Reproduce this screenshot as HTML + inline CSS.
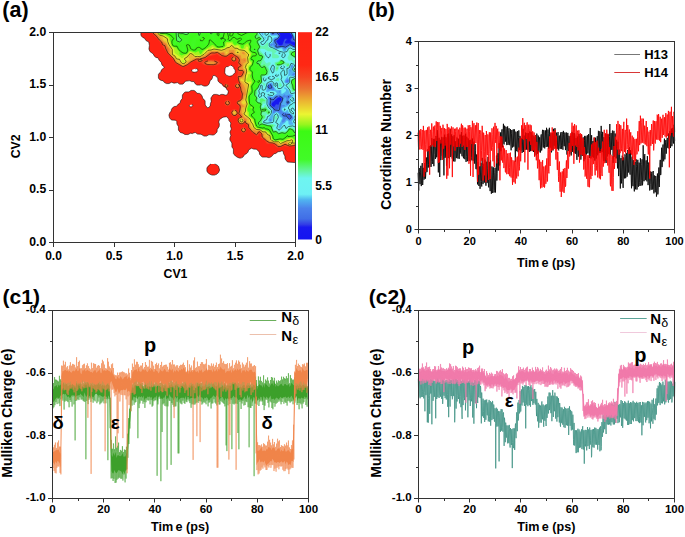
<!DOCTYPE html>
<html><head><meta charset="utf-8"><style>
html,body{margin:0;padding:0;background:#fff;width:685px;height:537px;overflow:hidden}
svg{display:block}
text{font-family:"Liberation Sans",sans-serif;font-weight:bold;fill:#000}
</style></head><body>
<svg width="685" height="537" viewBox="0 0 685 537">
<g id="contour"><path d="M140.9,32.5 295.5,32.5 295.5,162.6 288,162.1 286.9,161.5 285,158.8 284.9,156 283.5,153.8 283.2,151.5 282,150.8 280,151.6 278,151.8 275.8,153.5 274,153.8 271.5,156.6 269.5,157.6 268,157.6 267,157.1 262.5,157.1 261.5,156.6 259.5,154.2 259.2,152 256.5,149.2 253.5,149.1 251.5,148.2 248.6,150 248,152.1 246.7,153.5 244.5,154.7 243,157.1 240.5,158.1 239,158.1 237,157.1 234.9,155.5 233.4,153.5 233.4,149 231.9,147 231.9,143 229.9,140 229.9,138 230.9,135.5 229.9,132 231.4,129 230.4,126 230.9,123 228.9,120.5 228.8,119 226.5,116.8 223,117.2 219.6,119.5 218.7,122 219.4,124 219.2,126.5 217.2,129.5 217.1,131.5 216.5,132.7 214.5,134.6 213,135.1 209,134.6 206.5,136.1 204,136.1 201,134.2 197.5,134.1 195.5,132.6 194,132.8 192.5,133.6 190.5,133.2 188,134.6 184.8,134.5 183,133.2 180.3,132.5 178.4,130 178.4,126.5 176.9,124 176.8,121.5 175.5,120.2 172,120.1 170.9,119.5 169.5,117.8 168.9,115 169.9,112.5 171.2,111 171.4,109.5 172.5,107.8 174.2,106.5 176.5,106.3 178.4,104 180.4,102.5 180.4,101 182.3,98.5 182.4,95 184.4,92.5 185.5,91.9 189,91.9 191,90.4 194,90.4 195.5,91.4 197,93.2 199.5,93.4 200.5,93.9 202.1,96 202.7,98.5 204.1,99.5 205.1,101 205.2,105 207.2,107.5 208,107.9 210.2,106 210.4,103.5 211.2,101.5 210.9,98 212.9,95 214,94.4 216.5,94.4 219.5,95.3 221,94.4 223,94.4 226,95.2 227.8,94 228.3,91 226.8,89.5 225.8,87.5 223.5,86.4 221.5,83.7 220,83.1 218.5,81.7 217.9,80.5 217.8,78 215,75.6 213,75.6 212.6,76 212.5,77.8 211.6,79.5 210.2,80.5 209,84.2 207.5,85.6 206,86.1 204,86.1 201,84.6 200,85.1 197,85.1 195.4,84 194,81.6 191.5,81.6 189.5,80.6 185.5,81.2 183,84.1 180.5,84.2 179.5,84.1 177.5,82.6 174,83.2 171.5,82.2 169,83.6 166.5,83.6 164.5,82.6 163,80.8 161.2,80.5 159.5,79.6 158.4,78 158.4,74.5 159,73.4 160.8,72 161.5,69.8 164.3,67.5 164.2,67 162,65.1 161.2,62.5 159,60.1 158.4,58.5 155.2,57 154,55.8 153.3,54 149.9,51.5 148.9,49 149.4,45.5 148.8,42 146,40.6 144.5,38.2 142.8,37.5 141.5,36.2 140.9,35ZM197.9,70 197.5,69.2 196,68.6 192,69.8 191.6,71 192.5,71.8 195,72.2 197,71.8 197.8,71ZM231,65.3 228.5,66.6 226.5,66.8 225.1,68 224.8,73 226.5,75.4 229,76.2 232,75.8 235.2,72.5 235.2,70 233.9,68.5 233.4,67ZM192.5,104.6 189.5,105.1 189.2,106 190,106.8 191.5,106.8 192.9,105.5ZM209.8,164.5 211,163.9 214.5,163.9 217,164.9 218.5,166.3 219.6,170 218.6,172.5 217,174.1 214.5,175.1 212,175.1 209.3,174 207.5,172.2 206.9,171 206.9,168 207.5,166.8Z" fill="#ff2314" fill-rule="evenodd"/><path d="M151.3,32.5 295.5,32.5 295.5,146.4 287,146.7 284,146.1 280,147.8 278,148 276,147 274.4,145 272.9,144 269,144.1 267,143.7 266,142.8 264,139.5 260.2,137.5 260.8,135 260,133.7 259.2,134 258,136.2 256.5,135.9 251,131.8 247.9,127.5 247,125.3 245,123.3 243.2,124.5 241.5,124.9 240,124.6 238.3,123.5 237.3,121.5 237.3,119.5 238.3,117.5 239.8,116.5 238,114.3 237,115.7 235,116.6 233,116.3 231.4,115 230.8,113.5 230.8,112 231.5,110.5 232.5,109.6 235,109 237,109.9 238,111.3 238.5,110.6 239,108 238.8,106 236.9,104.5 236.4,102 237.5,100.3 240,99.6 241.2,97 239.6,88.5 236.5,88.8 235.2,88 234.5,86.5 234.7,85 235.5,83.7 237,83 238.7,83 237.1,76 237.8,72 237.4,68.5 238.1,65 237,59.2 236.3,61 234.5,62.1 232.5,61.9 231,60.5 230.7,58 231.5,56.8 232.7,56 232.5,55.3 231,54.9 227.5,56.7 224,57.1 219.5,56.2 216.9,54 215,55 209.5,56 205.5,58.4 203.3,59 204.5,60.3 212.5,59.6 216,60.1 219,61 220.3,62 220.4,63.5 219.2,64.5 216.5,65.4 211,66 205.8,65.5 202.8,64.5 201,62.8 197.5,62.3 195,60.8 191.5,62.5 188,65.4 183.5,67.3 182.5,67.3 175,63 172.5,58.8 166.5,52.5 160,42ZM225.5,83.5 227.5,83.7 228.9,85.5 228.5,87.4 227,88.5 226,87.2 223.8,86 224.2,84.5ZM226,100 228.5,99.8 230.5,101.5 230.7,104 229,106 226.5,106.2 224.5,104.5 224.3,102ZM243.5,127 245.5,127.7 246.5,130 245.8,132 243.5,133 241.5,132.3 240.5,130 241.2,128Z" fill="#f83c1e" fill-rule="evenodd"/><path d="M151.9,32.5 295.5,32.5 295.5,145.7 290,146.3 284.5,145.2 280,147.3 277.5,147.3 274.1,144 272.5,143.4 269,143.4 267,142.3 264.5,139.4 261.5,137.5 261.5,134.5 260,132.6 259,132.7 257,135.5 252,132.2 248.7,128 247.5,125 245,122.6 243.1,124 241.5,124.4 239.5,123.8 238.2,122.5 237.7,121 237.9,119 239,117.6 240.6,116.5 238.2,113.5 239.4,109 239.3,105.5 237.5,104.4 236.8,102.5 237.5,101 238.5,100.3 240,100.3 241.2,98.5 241.6,94 240,88 239.5,87.5 238,88.5 236.5,88.3 235.5,87.5 235,86 236,84 237.5,83.5 239,84 239.3,83.5 237.8,78 237.8,75 238.5,74.5 240,75.5 241,75.3 242,74.3 242.4,72.5 241.9,71.5 239,71.9 238.2,71 237.8,68.5 238.7,65 237.9,62 237.8,59 237,57.2 235.6,57 236.4,58.5 236,60.5 235,61.4 233.5,61.7 231.6,60.5 231.2,58.5 232,57 234.4,56 232,54 230,54.4 227.5,56.2 224,56.7 220,55.7 218,53.5 216.5,53 214.5,53.9 212.5,54 211.6,55 208.5,55.9 205.5,57.9 201.5,59 202.7,59.5 203.4,60.5 202,61.8 198.5,62 196.8,61 196.8,60 196,59.9 191.5,62 187.7,65 183.5,66.9 182,66.7 175.5,62.9 172.7,58.5 167.4,53 160.6,42ZM203,63 203.3,62 205.1,61 211,60.1 216.9,61 218.7,62 219,63 218.2,64 216.5,64.7 211,65.5 205.5,64.7 203.8,64ZM225.5,84.1 227,84 228.3,85.5 228.1,87 227,88 224.2,86 224.5,84.9ZM226.5,100.5 228.5,100.5 230,102 230,104 228.5,105.5 226.5,105.5 225,104 225,102ZM233,109.9 235.5,109.7 237.5,111.4 237.8,113.5 236,115.7 233.5,115.9 231.7,114.5 231.3,112ZM243.5,127.5 245,128 246,130 245.5,131.5 243.5,132.5 242,132 241,130 241.5,128.5Z" fill="#f25227" fill-rule="evenodd"/><path d="M152.9,32.5 295.5,32.5 295.5,144.9 293.5,145.6 289.5,146 285,144.3 280.5,146.5 278,146.7 275.4,144 272.5,142.9 269.5,142.7 266.5,140.8 262.2,137 261.9,134 260,131.8 258.5,132 257.4,134 256.5,134.7 252.5,132 248.8,127.5 248.4,124.5 246,123.2 245,121.2 243.8,123 242,123.9 240,123.5 238.8,122.5 238.1,120.5 238.5,118.9 239.9,117.5 241.8,117 238.8,113.5 239.9,110 240.3,107 239.8,105 237.8,104 237.3,102.5 238,101.2 240,100.9 242,98.5 242.4,94 241.1,90.5 240.3,86.5 239.7,86 240,83.5 238.9,81 238.2,77 238.5,76.5 240.5,76.5 242,75.7 243.6,72 242.5,70.5 239,70.5 238.3,70 238.2,68.5 238.8,67 240.5,66.3 241,65.5 240.6,64.5 239,63.6 238.7,62.5 239.3,61 239.3,59.5 237.7,57 235,55.6 232,53.2 230,53.6 227,56 225,56.3 222,55.6 217.5,52.4 214.5,53 212,52.9 211,53.1 205.2,57.5 199.8,59 201.8,60 202.1,60.5 201.5,61.2 199,61.4 197.9,60.5 199.5,59.5 198.6,59 196.5,59.1 191,61.8 187.5,64.6 183.5,66.5 182.5,66.4 175.7,62.5 173.4,58.5 167.9,53 165.5,48 165,45.8 162.5,44.6 161.7,42 159.4,40 155.8,35.5 153.7,34ZM233,57 234.5,57 235.8,58.5 235.7,60 234.5,61 233,61 231.9,60 231.8,58.5ZM204.7,63 205.1,62 206,61.5 211,60.7 216,61.5 216.9,62 217.3,63 215,64.4 211,64.9 207,64.4ZM225.5,84.7 226.5,84.5 227.5,85 227.7,86.5 227,87.4 224.9,86.5 224.9,85.5ZM236.2,84.5 237.5,84 239,84.7 239.5,86 238.8,87.5 237.5,88 236,87.3 235.5,86ZM226.2,101.5 227.5,101 229,101.7 229.5,103 228.8,104.5 227.5,105 226,104.3 225.5,103ZM233,110.4 235,110.1 237,111.5 237.2,113.5 236,115.2 234,115.6 232.3,114.5 231.7,112.5ZM242.2,128.5 243.5,128 245,128.7 245.5,130 244.8,131.5 243.5,132 242,131.3 241.5,130Z" fill="#ec6e30" fill-rule="evenodd"/><path d="M153.9,32.5 295.5,32.5 295.5,144.3 292.5,145.4 289.5,145.7 287.6,145 285.5,143.2 280.5,145.8 278.5,145.8 276,143.5 270,142.2 266.5,140.1 265,138.4 263,137 262.5,134 260,131.2 259,131 257.9,131.5 256.5,133.5 256,133.5 254.5,131.7 252,131 249.1,127 249.1,124 246.1,122.5 245.9,120 245.2,119 243.9,118.5 244.4,121 243,123 241,123.4 239,122 238.6,120 239.4,118.5 241,117.6 243,118 243.2,117.5 241.5,114.3 240.2,113 241.3,105.5 240,103.8 238.5,103.8 238,102.5 238.7,101.5 240.5,101.3 241,100.3 242.6,99 243.1,95.5 244,93.5 242.4,90.5 242.4,87.5 241,83.5 239.2,80.5 238.9,78.5 239.5,77.7 242.5,76.4 244.6,72 244,70.7 242.5,69.5 238.9,69 239,68.2 241.5,67.2 242.2,65.5 240.6,62 240.3,59 239.4,56.5 235,54.7 232.5,52.1 230,52.7 227,55.4 225.5,55.8 224.5,55.5 223.5,53.1 220.5,53.3 217,51.7 211.5,52 210,52.6 204.5,56.7 200.5,58.2 197,58.3 194.8,59 189.6,62 187.5,64.1 182.7,66 176,62.2 173.7,58 170.5,55.3 168.5,53 168.6,49 166.7,46.5 166,44.5 163.5,43.1 161.9,41 159.3,39 157,35.3 154.5,33.5ZM244.5,59.4 243.6,60 244,61.1 245,60.5ZM232.8,58 234,57.6 234.8,58 235.2,59 234.8,60 234,60.4 232.8,60 232.4,59ZM206.7,63 207.5,62 211,61.4 214.5,62 215.3,63 213.5,64 211,64.2 208.5,64ZM236.6,85 237.5,84.7 238.5,85.1 238.8,86 238.4,87 237.5,87.3 236.5,86.9 236.2,86ZM225.8,85.5 226.8,85.5 226.8,86.5 225.8,86.5ZM226.7,102.5 228,102.2 228.3,103.5 227,103.8ZM233,111.1 234.5,110.5 236.4,111.5 236.8,113 236,114.5 234.5,115.1 233,114.5 232.2,113ZM242.6,129 243.5,128.7 244.5,129.1 244.8,130 244.4,131 243.5,131.3 242.5,130.9 242.2,130Z" fill="#eb9232" fill-rule="evenodd"/><path d="M155,32.5 295.5,32.5 295.5,143.8 291,145.3 289,145.3 287.5,144.5 287.3,142.5 286.5,142.3 283.5,143.2 281,144.9 280,145.1 277,143 270.5,141.6 267,139.5 266,137.9 263.9,136.5 264.2,134 262.5,133 260.5,130.9 259,130.4 256.5,130.9 254.5,129.7 252,129.7 250.1,127 249.7,123.5 246.9,122 247.3,119 244,116.9 241.8,112.5 241.6,108.5 242.5,107.3 244.5,106.5 241.5,104.1 240.8,102.5 241.3,101 243.5,99 244.3,96.5 245.9,94.5 245.7,89.5 243.6,85 240.2,81 239.6,79.5 240.5,78.2 243,77.5 245.2,73 245.1,71 242.6,68 243.3,65.5 243.2,63.5 245.5,62.2 246.2,61 246.2,59.5 245.5,58.3 244,58 242,58.9 241.5,58.4 240.9,55.5 235.3,54 234.5,53 234.4,50.5 233.5,50 230.5,50.2 229,49.8 228.9,52.5 226.5,54.7 225.5,54.5 224,51.7 220.5,52.4 217,51 212.5,51.1 209.5,51.8 205,55.3 200.9,57.5 197,57.7 193.4,58.5 191.7,60 188.5,61.7 186.5,63.6 182.5,65.2 177,61.7 174,57.4 171.1,55 170.3,53.5 170.3,50.5 169.7,48.5 167.6,46 166.5,43.6 164,42.1 160.7,38.5 160.3,37.5ZM191,56 190.9,56.5 191.5,56.6ZM242.5,52 242.1,53 242.5,53.9 244.5,54.4 244.9,54 244.5,52.8 243.5,52ZM268.5,137 268,137.5 268.5,138 268.9,137.5ZM233.5,111.5 235,111.2 236,112 236.1,113 235.5,114.1 234,114.4 233,113.5 232.9,112.5ZM240.1,118.5 242,118.1 243.5,119.1 243.9,121 242.9,122.5 241,122.9 239.5,121.9 239.1,120Z" fill="#ebb732" fill-rule="evenodd"/><path d="M156.7,32.5 295.5,32.5 295.5,143.4 292.5,144 290.5,145.1 288,144.5 288.5,141.5 287.5,141.2 283.5,142.5 280.5,144.2 279.5,143.8 278,142.2 274.5,142.2 271,140.8 269.8,139.5 269.7,136 269,135.6 266.5,135.9 266.3,133.5 265.5,132.5 263,132.5 260,130 256.5,130 252.7,127.5 251.5,126.2 250.5,123 248.9,121 249.3,120 249.1,119 243.8,115 243.5,112.6 244.7,111 244.5,109 246,106.5 246.4,103.5 246,103 245,104.1 244,104.4 242.5,103.6 241.9,102.5 242.3,101.5 244.8,99.5 246.5,95 246.8,89 247.7,85 246.8,84 244.4,83 243,81.5 241,80.8 240.6,80 241,79.1 241.5,79 243.5,80.2 244,79.7 244.5,76 246.1,72.5 245.9,70.5 244.1,68.5 243.8,67.5 245.1,64.5 247.2,62 246.4,56.5 247.1,55 246.7,54 244.5,51.4 243,50.8 241,50.9 240.2,51.5 239.8,53 239.2,53.5 236.5,53.5 235.9,53 235.8,52 237,49.8 233.6,48.5 232,46.6 230,48 227.2,48.5 225,50.3 221,51.3 214,49.8 208.6,51 204.5,54.7 200,57.1 194.5,57.3 192,54.5 190.5,54.3 189.1,55.5 188.5,57.5 189.8,59.5 187.5,60.8 185.5,63.4 183,64.4 181.5,63.7 179,60.6 176.5,59.7 174.5,56.7 172,55 171.6,54 171.7,51.5 171.3,49.5 168.5,45.5 167.4,43 166,41.4 163.7,40 162.6,36.5 159,35.4ZM166,38.9 165.3,39.5 166,40.7 166.8,39.5ZM226.5,51.5 227.5,52.3 227,53.4 226.5,53.4 226,52.5ZM234.5,112 235.3,113 234.5,113.6 233.7,113ZM240.5,118.9 242,118.7 243.1,119.5 243.3,121 242.5,122.1 241,122.3 239.9,121.5 239.7,120Z" fill="#ebda32" fill-rule="evenodd"/><path d="M157.6,32.5 295.5,32.5 295.5,142.9 293.1,142.5 293.1,140.5 291.5,139.4 287,140.4 281,143.2 280,142.9 278.5,141.4 275,141.7 273.5,141.3 271,139.5 270.7,136.5 270,135.1 268,134.2 266.1,132 265,131.4 263,131.5 260,129.5 256.5,129.3 254.9,128 253.7,126.5 253,123.5 251.5,121.9 250.9,119.5 244.9,114 245.9,111 245.9,108.5 247.5,104 246.2,100 247.6,90.5 249,84.5 248.6,83.5 245.7,82 245.3,81 246,75.5 247,72.5 246.5,65.5 247,64.4 249,63 247.9,58 249.2,55 249,53.9 245.7,51 244,50.2 240.5,49.7 237.5,47.8 234.5,47.8 232.5,45.4 231,44.8 229.5,47.1 227,47.4 225,48.7 222,49.8 216.5,49.5 213.5,48.6 211,49.7 207.6,50 203.9,54 200,56.4 197.5,56.1 195,56.4 192.2,53.5 190,53.4 187,56.5 184.4,58 184,59 185.6,61 185.6,62 184.6,63 183,63.5 181.2,62 179.5,58.6 177,58.7 176.3,58 175.7,56 172.9,54.5 172.6,49 169.6,45 168.2,41.5 167.7,38.5 163,35.6 159.5,35ZM241,119.5 242,119.5 242.5,120 242.5,121 242,121.5 241,121.5 240.5,121 240.5,120ZM288.9,143.5 290,142.7 291.1,143.5 290,144.6 289.2,144.5Z" fill="#ddf52f" fill-rule="evenodd"/><path d="M158.2,32.5 295.5,32.5 295.5,142.3 294.4,142 293.8,140 293,139.1 291,138.4 286.5,139.7 284.7,141 281,142 279,140.7 275.5,141.2 274,140.9 271.6,139 271.2,136 270.5,134.7 267,131.7 265,130.6 262.5,130.4 260.1,129 257,128.7 255.9,128 254.7,126.5 254.1,123.5 252.3,119.5 248,116 246.5,109 248.2,104 247.1,100 247.3,97 248.2,91.5 249.5,89 249.7,86 251,82.5 250,81.6 248,81.9 247,81.6 246.2,79.5 247.7,77 248,74.5 250,73.6 250.2,73 248.5,71.8 248,71 248,67 248.5,65.5 250.5,64.4 251.1,63 249.4,61 248.8,59.5 248.9,58 250.2,55.5 250.4,54 248.5,51 248,47 246.5,46.6 245.9,47 245.6,48.5 245,48.9 242,49.3 239.7,48 238.3,45.5 237,45.5 235,46.6 231,43 227,43.4 226.5,44 227,45 226.5,46 225,47.6 223,48.6 216.5,48.7 212.5,46.7 210.5,48.7 208,48.8 206.5,49.4 204,51.7 202.6,54 200.5,55.4 199.5,55.5 198,54.8 195.5,55.2 193,52.9 190.5,52.1 189.5,52.5 187,55 184.5,56 183,58 182,58.2 174.7,53 173.9,48.5 171.1,46 169.3,41 168.8,38.5 168.1,37.5 164,35 159.7,34.5ZM182.2,60.5 183.5,60.3 184.2,62 183.5,62.6 182.5,62.1Z" fill="#a4f521" fill-rule="evenodd"/><path d="M158.7,32.5 295.5,32.5 295.5,136.3 295.1,136.5 295.5,137.1 295.5,141 293.6,138.5 291,137.5 287,138.4 283.5,140.6 281.5,140.7 279.5,140 275.5,140.7 274.3,140.5 272.2,138.5 271.6,135.5 269,131.7 265,129.7 262.5,129.6 256.4,127.5 255.4,126 253.7,119.5 249,116 249,112.5 247.7,111 247.2,109 248.8,104.5 247.9,100 248,96.5 249.5,92.9 251,91 250.4,86.5 252.6,82 250.1,76.5 250.1,75.5 251.4,73.5 251.3,72.5 249,70.5 248.8,69.5 249.1,67 251.5,64.5 252.1,63 251.9,61.5 250,60.3 249.6,59 251.7,53.5 249.3,50.5 249.6,47 247.5,43.1 244.2,45.5 243.5,48 242.5,48.5 241,47.9 240.4,45.5 239.8,45 237.5,44.2 235,45 234,44.5 232.9,43 232.5,41.4 229.5,42.1 226.5,41.9 225.2,43 225,46.4 223,47.7 217,47.9 213,45.1 212,44.9 203,51 201,54 200,53.9 198.5,51.1 195.5,52.6 190,50.7 189,51.2 187,54 184,54.5 181.5,55.5 179.2,54 179.6,53 179.4,52 176.3,48 172,46 169.7,38 168.8,36.5 165,34.4 160,34.1ZM250.5,107 250.6,108 251.5,108.4 252,107.5 251.7,107Z" fill="#4cf916" fill-rule="evenodd"/><path d="M159.2,32.5 224.9,32.5 224,37.5 227,39.5 228,38 226.8,32.5 230.6,32.5 230.5,35 231.5,35.4 232.5,34.7 233.4,32.5 237.4,32.5 238,33.5 240.5,34.2 242.5,33.1 244.5,33.4 245.9,32.5 295.5,32.5 295.5,135.2 293,136.5 287,137 283,139.7 280,139.2 276,140.2 274.5,140 273,138.5 272.5,136 269.5,130.5 264.5,128.6 263,128.8 258,127.4 256.6,126.5 254.9,122 254.4,119 250.4,115.5 250.5,114 252.8,112 252,110 253.2,107.5 252.5,106.4 249.6,104.5 248.9,101 248.7,96.5 249.5,95 251.7,92.5 252,90.3 251.3,86.5 254.2,81.5 252.5,78.5 251.9,75.5 252,72 249.8,70 249.6,68.5 250.1,67 252.3,64.5 253.1,61.5 252.9,60.5 250.8,59.5 250.8,58 252.5,55.4 255,55.7 256.1,54.5 255.5,53.1 252.5,52.4 250.1,50.5 249.9,49 250.5,47 249.2,44 250.1,41.5 250,40.8 246.6,41.5 244.5,43.7 242,44.6 236.5,42.5 237.5,40.3 234.5,37.9 233.5,37.8 230.1,41 229,41.1 227,40.2 224.3,42 223.9,43 224.3,45.5 223.5,46.5 218.5,47.3 216.5,46.7 210.5,40.8 209.8,41.5 209.4,44.5 204,49.2 201.5,50 199.5,48.3 198,48 197.2,48.5 196,50.5 195,50.9 191,49.5 189.8,48 189.4,46 188.5,45.2 187.5,45.1 187,46 188.2,49.5 187.5,52.1 186,53.5 183.5,53.4 179.5,50.6 177,46.8 174,46.4 172.5,45.5 171.8,43.5 171.4,39.5 172.9,38.5 171.5,37.4 170.3,35.5 165.5,33.5 160.5,33.8ZM203.7,38.5 203,38 202,38.2 200.8,40 201.5,40.5 202.5,40.3 203.4,39.5ZM218,33.4 217.5,34 218,34.8 218.3,34ZM240.4,39 240,38.5 239.5,38.8 238.6,40 240,40.1ZM259,80.8 258.2,81.5 258.3,82 259.1,81.5ZM234.7,43 235,42.3 235.9,42.5ZM249,108 249.9,109.5 249.5,110.4 248.5,110.3 248.2,109.5 248.3,108.5Z" fill="#3dfa18" fill-rule="evenodd"/><path d="M159.7,32.5 164.4,32.5 161,33.4ZM167,32.5 206.2,32.5 206,36.6 203,35.9 198.5,40.5 199.5,41.5 201,41.8 205,39.9 207,39.9 208.2,41 208.3,43 205.3,47 203,48.3 201.5,47.6 200.8,46 199.5,44.7 198,44.3 194.5,49.1 193.5,49.4 192,49 191,48.1 190.3,45.5 189.5,44.2 186,44.1 185.4,45 187.2,49 186.8,51.5 186,52.6 183.5,52.6 179,49.1 178,44.9 177,44.9 175,45.8 173,45.1 172.4,42 174.4,39 174.1,37.5 170.5,33.9ZM193,36.2 191.6,37 191.5,37.9 192.5,37.4ZM208,32.5 216.5,32.5 216.3,34.5 218.4,38 218.3,40 216,42.2 213,41.7 208.8,36ZM219.7,32.5 223.7,32.5 223.4,35 222.5,36.4 221,36.4 220.1,35.5ZM234.1,32.5 236.6,32.5 237.3,34 239.4,35.5 239.6,37 237.5,38.5 236,38 233.5,35.6ZM246.5,34.1 250.9,34 251.2,32.5 295.5,32.5 295.5,53.4 294.9,54.5 295.5,55.5 295.5,80.1 294.7,81.5 295.5,82.3 295.5,134.7 289.5,135.6 289,135.4 288.5,133.7 282,138.5 280.3,138 279.7,136 277,135.7 276.9,136.5 279,138 278.7,138.5 276.7,139.5 275,139.6 273.8,138.5 273.5,136 271.5,133.5 270.6,130.5 269,128.7 265.8,128 263.5,125.9 260.5,127.3 258,126.7 256.8,125.5 255.5,122 255.2,118.5 252.5,116 253,114.4 255.4,113 255.1,111.5 253.9,109.5 254.9,107 250,103.3 249.7,101.5 250.1,99 249.6,97 249.9,96 252,93.7 252.5,92.5 252.4,86.5 253.3,84.5 255.5,82.7 258,83.4 259.8,82 260.2,81 259.5,79.6 257,80.1 254,79 252.9,75 253.1,71 251,70 250.4,69 250.7,67.5 252.8,65 254.5,60.5 254.2,59 252.6,58 252.8,57.5 254.5,57.4 256.5,55.8 256.9,54.5 256,52.5 252.5,51.6 250.6,50 251.5,46.5 250.1,44 251.7,41.5 252.7,37.5 252,35.6 250.2,39 248.5,40.1 245,40.7 243.5,43.2 242,43.5 240.3,42.5 240.3,42 242,40.5 244.5,40.2 244.5,39 243.7,37 244.5,35.5ZM257,84.8 256,85.3 256,86.2 257,86.2ZM216.7,45 217,44 221,42.5 222.2,43 223,45 222.1,46 219,46.5 217.5,46.1Z" fill="#3efa1d" fill-rule="evenodd"/><path d="M160.5,32.5 162.4,32.5 161.5,32.8ZM171.2,32.5 193.9,32.5 188.7,37 189.4,40 188.8,42.5 185,43.3 183.9,44 183.9,45 185.6,47 186.4,49 186.3,50.5 185.6,51.5 183.5,51.8 179.7,48.5 179.6,47.5 180,47 181.5,46.6 182,46 181.6,45 177.5,43.3 175,45.1 173.4,44.5 173,42.4 175,39.5 175.1,38 174,35.6ZM202.3,32.5 201,36.7 196.2,40 195.4,45.5 194.7,47 193.5,48.2 192,48 191.4,47 190.8,42.5 192.6,39.5 196.2,35 196,32.5ZM203.4,32.5 204.8,32.5 204.5,33.3ZM208.7,32.5 215.5,32.5 215.3,34.5 216.4,38 216.1,40 214,41.1 212.9,40.5 211.8,38 209.2,34.5ZM221.5,32.5 222.1,32.5 222.5,33.8 222,35.1 221,34.5ZM235,33.1 235.5,32.9 236.5,34.5 238.2,36 238,37.2 237,37.4 235,35.3 234.7,34.5ZM255.9,32.5 295.5,32.5 295.5,52.4 293.6,54 294,55 295.5,56.3 295.5,79.3 293.1,81.5 293.5,82.2 295.5,83.2 295.5,134.1 291.4,134 290.4,133 290,131.4 285,134.8 282,134.2 278.5,135 275.5,133.6 273.5,134.5 272,133.2 271.2,130 269.2,127.5 266.5,126.9 263,125.1 260.5,126.6 259,126.5 257.6,125.5 255.9,121 256.7,118.5 254.3,116.5 254.1,115.5 256.5,114.5 256.6,113 255.5,109.5 256.5,108.5 258.6,108.5 259.1,105.5 258,104.4 255,104.6 251.2,103 250.8,101.5 251.6,99 250.7,97 251,96 253,93.5 254,88.3 257,87.4 258.4,84 260.5,82.1 260.8,81 260,78.7 257,79 255,78.3 253.8,74.5 254,72.8 256,69.6 258,69.3 258.7,68.5 258,67.4 256,68.7 253.3,67 254,63 255.6,60.5 255.9,58 257.3,56 257.5,54.5 256.5,52 252.5,50.8 251.3,49.5 251.6,48.5 254,45.5 252,45 251.2,44 252.4,42 253.6,38.5 253.4,35 255.4,33.5ZM261.9,71 261.4,72 261.8,73 264,74.1 265.4,73.5 265.7,72.5 264.5,71 263,70.5ZM248.5,34.9 250,36 249.9,37.5 248,39.3 246.5,39.3 245.7,38.5 245.7,36.5 247,35ZM203.5,42.5 204.2,41.5 205.5,41.1 206.8,41.5 207.3,42.5 206.5,43.8 205.5,44.2 204,43.5ZM274.7,137.5 275.5,137.1 276.8,138 276.8,138.5 275,138.6Z" fill="#40fa22" fill-rule="evenodd"/><path d="M174,43.9 173.8,42.5 175.5,40.2 175.9,38.5 174.7,35 172.6,32.5 191.6,32.5 190,34.7 186.5,36.6 183,35.3 181.1,36 181.4,37 184,39 186.5,38.7 187.5,39.2 188,41 187.4,42 182.5,42.1 180.5,43.3 177,42.4 175,44ZM201.1,32.5 200.9,35 200.1,36.5 198.5,37.4 197,37.1 197.5,34.5 197.3,32.5ZM209.3,32.5 214.2,32.5 213.9,34.5 214.5,36.5 214.5,39.7 213.5,39.5 212.3,36.5 210,34.3ZM256.6,32.5 295.5,32.5 295.5,51.7 292.8,53 292.3,54 295.5,56.9 295.5,68.1 294.7,69 295.5,70.1 295.5,78.7 292.5,80.5 292.1,81.5 292.5,82.9 295.1,84.5 293.9,87.5 294.3,88.5 295.5,89.2 295.5,133.6 292.6,133 291.7,130.5 290.5,129.6 289.5,129.9 288,132 285,134 282,133.4 278.5,134.4 275.5,132.3 273,133.2 272.4,132.5 271.6,129.5 270,127 262.5,124.6 259.5,126 258.5,125.5 257.6,124 257,121 258.2,119.5 260.4,118.5 260.7,117.5 260.7,116.5 259.5,114.9 258.8,115 258.5,113.5 257.2,111.5 257.5,110.3 258.6,110.5 258.5,113.5 259.5,114 260,112.5 259.3,110.5 259.8,105 259,104 256.5,103.5 255.5,102.7 254.5,100.5 255.5,98 253.6,96.5 253.3,95.5 254.5,89.6 257.5,87.6 258.8,84.5 261.1,82 260.8,78.5 259.2,76.5 259.5,75 261,74 265,74.4 266,73.5 266.2,72 264.5,69.5 260.5,69.6 260.1,67.5 258.5,65.5 257.5,65.1 255.5,65.2 254.9,64.5 254.9,63 256.3,61 257,58.5 258.2,57 258.1,54.5 257.5,52.5 256.5,50.9 253.5,50.5 252.4,49.5 252.7,48.5 254.5,47.3 256,47 257.5,47.9 258.6,47 258.5,45.9 257.5,44.6 254,43.2 253.7,42.5 254.5,39 254.2,35.5 256.1,34ZM260.8,57 258.7,57.5 259.5,59 260.5,59 261,58.5 261.3,57.5ZM283,62 282,61.4 281,61.5 279.6,63.5 280,63.9 282,63.5 283,62.9ZM248,36.3 248.6,37 248,37.6 247.4,37ZM194.2,40 194.4,41 194,41.8 193.5,41.8 193.6,40.5ZM193.5,43 194.4,44.5 193.9,46.5 193,47.2 192.2,46.5 192,45 192.5,43.7ZM183.5,46.6 184.6,47 185.5,48.5 185.5,50 184.5,50.8 183.5,50.8 182.3,49.5 182.3,48.5ZM260.2,70 260,71.6 258.5,73.5 256,74.7 255.3,74.5 255.2,73 256,71.5Z" fill="#41fa27" fill-rule="evenodd"/><path d="M176.1,32.5 178.5,32.5 178.2,34 178.8,37 181.7,39.5 181.4,40.5 180,41.7 177,41 176.6,40.5ZM178.5,32.5 188.9,32.5 188.1,34 186,34.7 183,33.6 180.5,33.7ZM198.2,32.5 200.2,32.5 200,34.5 199.5,35.4 199,35.5ZM209.9,32.5 212.8,32.5 211.5,33.8 210.5,33.6ZM257.1,32.5 295.5,32.5 295.5,51.1 292.1,52.5 291.2,54 291.6,55 295.5,57.4 295.5,67.5 294.1,69 294.4,70 295.5,70.6 295.5,78.1 292,80 291.4,82 291.7,83.5 292.6,85 293.2,89 294,89.8 295.5,90.1 295.5,132.8 294,132.2 293,130 290,128.7 289,129.1 287.6,131.5 285.5,133.1 284.5,133.3 282,132.7 278.5,133.7 276,131.5 273.5,132 273,131.7 271,126.1 267.5,125.6 262.5,124 261.5,124.1 259.5,125.1 258.5,124.2 258.5,122.5 260.5,120.7 262.4,117 260.9,114.5 261.5,111.2 265,110.9 266.1,110 265.6,109 261.8,109.5 261,110.5 260.2,107 261.2,104 260.5,103.3 258,102.8 256.1,101 256,100 256.9,98 254.6,95 254.9,91 255.5,89.9 258,87.8 259.4,84.5 261.6,82 260.9,75.5 261.5,75 264.5,75 266.5,74 267,71.5 265,66.8 264,66.6 262,67.7 260.1,66 259,63.8 257,63.5 256.5,63 258,60.9 260,60.9 261,60.1 262.7,57 262,55.8 259.7,55.5 259.1,55 257.7,51 257.7,50 259.4,47.5 259.6,46.5 257.4,42.5 257.2,41 258,40.2 260.5,39.1 260.6,38.5 259,37.4 256.5,38.8 255.5,38.1 255.1,36 257,34.6ZM269,111.8 268.3,112 268.5,113 269.3,112.5ZM283.9,62 282.5,60.9 281,60.7 277,64.5 278.5,64.9 281.1,64.5 283.9,63ZM254.3,49 255.2,49 254.5,49.5Z" fill="#53f766" fill-rule="evenodd"/><path d="M257.6,32.5 295.5,32.5 295.5,50.6 292,51.6 291,51 289.4,51.5 290.4,55.5 295.5,58 295.5,61.2 294.9,62 295.5,63.1 295.5,67 293.6,69 294,70.2 295.5,71 295.5,77.6 291.5,79.5 290.7,84 292.5,90.7 293,91.1 295.5,90.9 295.5,131.5 293.5,128.9 289.5,128 288.5,128.6 287,131.1 285.5,132.3 284.5,132.5 282,131.9 279,132.9 276.5,130.8 273.5,130.6 272.2,128 273.1,125.5 272.8,125 271.5,124.8 268.5,125.3 263,123.8 261.7,122.5 262,119.8 264.5,118 264.9,117 264.5,115.5 262.5,115.1 262,114.4 262,112.8 263.5,112 265.5,112 266.5,112.5 267.5,113.9 268.5,114.1 270,113 270.2,111.5 267.9,110 266,106.9 263,108.3 261.5,108.1 261.1,107.5 262.1,104 262.1,102 263,101.2 265,101.3 265.2,100.5 262.5,98.7 261.1,98.5 260,99.5 260,102 259.5,102.4 258,101.7 257.5,100.5 257.6,98 256,95 256.7,93.5 256.5,91 258.5,88 259.5,85 261.9,82.5 262.2,76.5 263,75.8 266.5,75.1 267.4,74.5 268.6,69.5 265,64.7 264,64.3 262,65.8 260.8,65 261.5,61.9 263.9,56.5 263,55 259.5,52.2 258.7,51 258.9,49.5 260.6,47 258.7,43 258.4,41.5 261.7,39 261.4,38 258.8,35.5ZM284.8,62.5 283.5,60.8 281,60 278.5,62.1 276,63 275.5,64 276,65.2 278,65.7 284.6,63.5ZM288,63.9 287,65 287.5,66 288,66 288.9,65 288.5,64ZM277.5,67 277,67 276.3,68 276.5,69.3 277.5,69.2 277.9,68.5ZM280.5,84.7 280.2,85 280.5,85.5Z" fill="#66f5b2" fill-rule="evenodd"/><path d="M258.1,32.5 295.5,32.5 295.5,50.2 292.5,50.7 289.4,50 288.4,52 289,53 289,54.5 287.4,58 289,60.7 291,60.2 292,60.5 293.2,62.5 295.5,64 295.5,66.4 293.7,68 293.2,69.5 294,70.7 295.5,71.3 295.5,77.2 293.5,78.3 291,78.8 290.1,83 288.4,86 289,87.3 291.1,89 291.5,92.1 292.5,92.2 295.5,91.6 295.5,120.3 295,121 295.5,121.3 295.5,129.1 292,127.2 289.5,127.3 288.3,128 286.6,130.5 285.5,131.2 282,130.8 279,131.6 276.5,130.2 274,129.8 273,128.5 273.5,127.3 275.7,125.5 275.5,125 272.5,123.9 268,124.6 263.5,123.5 262.4,122.5 262.7,120.5 265.5,118.2 266,114.8 268.5,114.9 269.5,114.4 270.6,113 270.8,111.5 270.4,110.5 268.3,109 265.5,104.7 265,104.5 263.5,107.2 262,107 262.1,106 263.5,103.4 265,103.7 265.5,103 266.1,100 265.4,99 262.5,97.8 261,97.9 259.5,98.8 258.5,98.2 257.1,95.5 257.8,93.5 257.3,91 259.1,88 260,85 261.5,83.7 262.5,83.6 264,85.9 265,85.5 265.4,84.5 265.1,83.5 263.4,83 262.5,81 262.6,77.5 264,76.2 267.8,75.5 269.5,73.7 270,71.5 268.4,66.5 270.4,64.5 270.7,63.5 270.5,62.5 269.5,62.2 268,62.6 267,63.4 266,63.1 264,60 265.2,57.5 264.9,56 259.9,50 261,48.8 264.5,49 268,51.3 271.5,51.6 272.2,52.5 271.8,57 272.5,58.2 277.5,58.2 278.9,57.5 279.2,56.5 278,55 276.5,54.2 275,54.3 274.5,53.7 274.5,53 276,52.4 276.6,51 272.5,48.6 270,48.3 268.3,47 268,46 268.4,43.5 267.6,42 264,45.7 262,46.1 260.8,45.5 259.2,42 259.9,41 262.3,40 262.7,39 258.7,34ZM289.4,63.5 288.5,62.7 286,62.8 284.5,60.7 283,59.8 281,59.3 280,59.4 278,61.6 275.3,62 274.5,62.7 275,65 276,66.5 275.3,68.5 275.6,70.5 276.5,71.5 277.5,70.8 278.7,69 278.9,66.5 280.7,65.5 285,64.5 286.5,66.8 287.5,67.1 288.5,66.8 289.5,65.5ZM275.1,80.5 279,81.2 279.3,80.5 279,78.7 278.5,78.1 277,78.3ZM280,82.3 279.3,83 279.1,85.5 279.5,86.7 280.5,87 281.8,86 282,85ZM276,115.7 274.9,117 274.9,119 275.5,119.7 276.5,119 277.2,117.5 277,116.4ZM293.2,59 293.7,58.5 294.6,58.5 295.5,59 295.5,59.7 294,60.3 293.4,60Z" fill="#6ef5f0" fill-rule="evenodd"/><path d="M258.7,32.5 265.5,32.5 266,34.8 268.1,32.5 295.5,32.5 295.5,49.7 293,50 290.5,48.7 289,48.9 288.1,50 288.2,51 287.2,52 287.5,53.5 286.5,54.7 285,58.5 284,59.1 281.5,58.3 280.6,57.5 280.6,55 277.8,53.5 277.8,52.5 278.6,51.5 272.5,48 270,47.5 268.9,46.5 268.9,43 271.3,40.5 269.9,37.5 268.9,37.5 268.1,41 267,41 264.5,44.3 262.5,45.2 261,44.6 260.1,42 263.1,40.5 263.4,39ZM263.5,50.6 265,50.7 267,52.1 270,52.8 270.7,53.5 270.9,55.5 270.5,57.3 268,60.8 267,61 266.4,60 266.3,57 263.2,51ZM276.1,60 277.5,59.4 278.1,60 277,60.7 276.2,60.5ZM271.9,60.5 272.5,59.9 274,60.5 273,61.5 272.5,61.5ZM291,61.7 292.2,63 295.4,65 295.1,66 293.2,68 292.8,69.5 293.5,70.9 295.5,71.7 295.5,76.7 293,77.9 290.3,78 289.8,82.5 287.1,85.5 288.5,87.9 290.2,89.5 291,92.8 292,93.1 295.5,92.2 295.5,103.4 294.3,104 294.6,106 294,107.5 294.5,109.4 295.5,110.2 295.5,118.6 293.9,121.5 294,122.1 295.5,122.6 295.5,127.9 292.5,126.4 290,126.5 288.5,127.1 286,129.6 285,129.7 284.4,129 284.7,127 284,126.2 280.9,130 279,130.6 275,128.5 277.3,125.5 277.4,124.5 277,124 273.5,123.1 267.5,123.8 264,123.2 263.1,122.5 263,121.5 263.5,120.6 266.2,119 266.9,116 269,115.5 270.5,114 271.2,112.5 271.3,111 270.8,110 268.5,108.1 266.8,105 266.4,103.5 266.8,100 266,98.5 262.5,96.9 259.5,97.9 258.4,97 257.9,95.5 258.8,93.5 258.1,91 259.5,88.5 260.2,85.5 261.5,84.4 262.6,85.5 263.4,89 264.5,89 265,88.4 266.4,82.5 263.5,81.4 262.9,80 263,78.5 263.5,77.4 264.5,76.7 267.5,76.7 270.7,75 271.1,72.5 269.9,69.5 269.9,67 272.5,62.8 273,63 275.2,66.5 274.5,72.5 275,73.5 278.5,73.3 279.5,72.6 279.9,71.5 279.7,67.5 280.9,66 284,65.5 286.5,67.6 288.8,67.5 289.8,66 290.4,62.5ZM292,105.2 291,105.1 290,105.7 289.3,107 289.5,108.2 290.5,108.2 292.3,107 292.6,106ZM292.5,98.5 291.1,99 291,99.8 291.5,100.3 292.6,100ZM266.8,81.5 268.8,81.5 269.7,80.5 269,79.9 267.5,79.9ZM279.5,75.9 276,77.4 274.9,79 272.8,80.5 274,82.2 277,82 277.9,82.5 278.5,87.1 279,87.9 280,88.1 281.9,87 283,85 280.5,80 280.5,76.5ZM268.9,94 269.5,94.7 272.5,94.5 272.7,94 270.5,93.3ZM276.5,114.6 275,115.2 274.3,116.5 274.1,120 275,121.2 276.5,120.2 277.8,118 277.5,115.5Z" fill="#6ef2f3" fill-rule="evenodd"/><path d="M259.3,32.5 264.7,32.5 264.8,34.5 266,36 267,35.1 267.7,35.5 267.5,40 266.5,39.9 265,42.8 263,44.2 261.7,44 261.2,42.5 264,40.8 264.1,39 263.1,37 261.3,35.5ZM269.3,32.5 294.5,32.5 295.5,33.9 295.5,49.2 293,49.2 291.5,48 290,47.6 287.8,49 286.8,51.5 283.5,52.1 280.6,51 281.1,50 280.5,49.5 277,50 270,46.6 269.3,45.5 269.2,44 269.8,43 272,41.4 272.2,38 271.7,37 269,35ZM265.8,53.5 267,53.3 269.5,54 269.9,55 269.5,56.5 268.5,57.1 267.5,56.6 266.2,55ZM283.5,54.2 284.5,54.4 284.7,55 284.5,56.1 283.5,56.7 282.6,56 282.7,55ZM293,64.1 294.5,65.5 292.5,68.5 292.4,70 293.5,71.4 295.5,72 295.5,76.1 293,77.3 290.5,76.9 289.5,77.2 289.2,78 289.9,80.5 289.3,82.5 288,83.8 285,84.4 283.3,82.5 281.5,79 282.5,78 284.6,78 285.1,76.5 287.4,74 287.5,68.5 289.4,68 291,64ZM273.5,66.4 274.2,67 273.5,71.3 272.5,72 270.6,69 271.5,67.4ZM281.7,67.5 282.5,66.3 284,66.5 283,67.6ZM283.5,70.9 284,72.5 283.1,75.5 282.5,75.6 281.4,73 282.3,71.5ZM276.4,75.5 276.5,75 277.7,75 277.5,75.5ZM269,78 269.5,77.4 271,77 273,77.3 273.8,78 273.5,78.5 271.5,79ZM264,78.4 265.1,79 265.1,80 264.5,80.4 263.8,79.5ZM268,82.8 271,81.5 272,81.7 273.4,83 274,86 276.5,87.1 278.1,89 281,88.7 284.5,85.7 285.5,85.7 289.5,90 289.9,92.5 290.5,93.3 292,93.8 295.5,92.9 295.5,95.7 295.1,96 295.5,96.7 295.5,102.7 294,102.3 293.3,101.5 294,97.2 293,97.2 291.2,98 290.2,99 290.1,100 292.2,102 292.3,103 289.5,105.2 287.6,108 289.2,110 289.6,112 294.3,115.5 294.9,118.5 293.2,121.5 293.5,122.6 295.5,123.8 295.5,126.5 292.5,125.6 288.5,126.1 286.5,127.2 285,125 284,124.7 280,129.3 279,129.6 278,129.2 277.2,127.5 278.6,123.5 276.6,122 278.4,118.5 278.6,117 278.1,114.5 277,113.4 275.5,113.9 273.9,115.5 272.9,122 270.5,122.8 268,122.5 266.5,122.9 264,122.4 263.8,121.5 264.3,121 267,120 267.9,117 270,115.6 271.4,113.5 271.7,112 271.4,109.5 269,107.8 267.4,105 267.3,99.5 264.5,96 265.4,93.5 263.1,91.5 265.6,89.5 266.8,84.5ZM284,90.9 283,90.8 283,91.9ZM285.6,108.5 283.4,109 283.5,110.3 284.5,110.8 285.2,110.5 286,109ZM267.4,94.5 268.5,95.4 272.5,95.9 274.1,94.5 274.5,93 273.5,92.4 270,92.1 267.7,93.5ZM261.5,85.3 262,86.5 261.2,89 261.9,91.5 260,93 259,91 260.3,88.5 260.6,86 261,85.3ZM260,94.1 260.9,95 261.2,96 259.5,97.2 258.8,96.5 258.7,95.5 259.5,94.2ZM292,108.7 293,108.7 294,110.5 295.5,111.1 295.5,114.6 294.5,114.4 293.6,111.5 291.7,110Z" fill="#6ef0f5" fill-rule="evenodd"/><path d="M261,32.5 263.2,32.5 263.5,35.5 262,35.1ZM270,32.5 292.9,32.5 294.5,36.5 295.5,37.5 295.5,48.6 293.5,48.5 291,46.7 290,46.6 286.8,49 286,51 284,51.5 283,51 282.4,49 281.5,48.3 276.5,49 273,46.9 270.5,46.4 269.8,45.5 269.7,44 272.6,42 273.5,38.1 275,37.2 277,37 277.7,36 277,35.4 271.5,35.8 270.1,34.5ZM264.5,36.5 265.5,36.9 265.8,37.5 265.5,39 264.6,38ZM293,64.8 293.7,66 292,68.5 291.8,70 293,71.8 295.5,72.4 295.5,75.5 293,76.6 290,75.6 288.1,76.5 287.8,77.5 289.2,79.5 289.3,81.5 288,83.2 285.5,83.3 284.7,82.5 284.3,81 288.2,75.5 288.6,74 288.4,69.5 290,68.7 291,65.1 292,64.6ZM272.5,67.9 273,69 272.5,70.1 271.6,68.5ZM268.2,83.5 271,82.4 272,82.6 272.7,83.5 273.2,86 276.5,90.2 281.2,90 281.4,93.5 281.9,94 284.5,92.5 286,91 286,89.5 284,88.3 284.4,87.5 285,87.3 288.5,90 289.6,93.5 293.2,95 292.9,96 289.4,99 289.4,100 290.9,102 290.9,103 287,106.6 282.5,108.3 282,109.5 283,111.1 284.5,111.7 285.8,111.5 287,110.1 287.7,110 288.7,112.5 291,113.8 293.3,116 294,118.5 291.6,121.5 292.7,122.5 293.5,124.5 290.5,125.1 289,124.5 288.6,124 288.4,121.5 287,120.3 285,122.7 282.5,124.4 280.8,127.5 279.5,128.4 278.5,128.2 278.5,126.5 282.1,118.5 281.5,117.5 280,117 278.9,114 277,112.3 276,112.4 273.1,115 272.5,120.5 272,121.5 270,121.9 268.5,121 268.6,119 271.9,114 272.3,110 272,109 269.2,107 268.1,105 267.7,103 268,100 266.9,96.5 269.5,96.1 272.5,96.8 277,93.5 276,91.9 275,91.3 270.5,90.8 267.5,92.2 266.4,92 266.1,91 266.7,89 266.8,86ZM295.5,98.3 295.5,102 294.5,101.5 294.1,100.5 294.5,99Z" fill="#50b0f0" fill-rule="evenodd"/><path d="M270.7,32.5 292.1,32.5 294.1,37.5 295.5,38.5 295.5,47.9 294,47.8 291.2,46 290,45.7 285,49.5 284.5,49.5 282,47.4 277,48.4 275.5,48 274.4,47 273.1,44.5 273.7,39.5 274.5,38.4 277.5,37.8 278.6,36.5 278.6,35.5 277,34.5 271.8,35 270.8,34ZM270,45 271,43.8 272.9,44 272.9,44.5 271.5,46 270.5,45.8ZM292.7,65.5 292.5,66.8 291,67.9 291.2,66 292,65.3ZM289.5,70.5 290.5,70.4 290.6,71.5 290,71.3ZM292.1,75 293,73.2 295.5,73.1 295.5,74.6 293,75.6ZM288,79.2 289,80.5 288.6,82 287.5,82.7 286,82.5 285.5,81.5 285.8,80.5 287,79.4ZM268.1,84.5 270.5,83.3 271.6,83.5 272.8,86.5 274.2,88.5 274,89.9 273,90.3 270.5,89.5 268,89.5 267.2,87ZM279.5,91 280.1,91.5 279.5,92.7 278.6,92ZM268.5,96.8 270,96.7 273,97.8 275.5,95.4 279.5,94.8 281.5,96 282.4,96 285,94 285.5,95.8 289.5,94.6 291.5,95.5 288.4,99.5 290,102 289.9,103 287.5,105 286.5,105 286,104.3 285.7,101.5 286.7,99 285,96.8 283.5,99.5 281.8,104.5 282,105.2 284.4,105 284.9,105.5 284.8,106 284,106.6 282,106.6 281,109 281.5,110.5 282.9,112 289.5,113.6 291,114.5 293,117 293.1,118 292.7,119 290,121 287,118.9 286,118.8 284.5,121.6 283,122.6 282,122.5 281.9,121.5 283.2,118 280.3,114 277,111.4 275.5,111.7 274,113.1 273,113 272.9,109 270,106.9 269,105.5 268.5,103.5 268.9,100.5 267.9,97.5ZM295.5,99.3 295.5,101.2 294.9,100.5ZM271,118.9 271.5,120.1 270.5,121 269.6,120 270,119.2Z" fill="#4b86eb" fill-rule="evenodd"/><path d="M271.5,32.5 291.3,32.5 292.9,35.5 293.8,39 295.5,39.8 295.5,47.3 294,47.1 290,45 289,45.1 287,46.9 285.5,47.6 282,46.6 276,47.4 275.2,46.5 275.8,44.5 274.6,42 274.4,40 275,39.2 277,38.9 278,38.2 279,37 279.2,35.5 278,34.1 276,33.3 273,34.2 272,34ZM287.5,80.3 288,80.3 288.4,81 287.5,81.9 286.7,81.5ZM268.5,85 270,84.3 271,84.5 272.5,88.5 268.5,88.3 267.8,86.5ZM269.3,97.5 270,97.5 273,99.3 274,98.7 275.5,96.6 279.5,95.9 282.9,97.5 282.4,101 280.7,104 280,109 280.5,111.7 277,110.5 274,111.1 273.4,108.5 270.7,106.5 269.7,105 269.6,103.5 270.2,100.5 269,98ZM289.7,96 288.9,97.5 288,97.9 287.4,97.5 287.5,96.5 288,96.1ZM287,100.9 288,100.7 289.1,102 289,103 288,103.7 287,103.4 286.5,102.5ZM282.3,113.5 284,113.1 286.5,114.3 290,114.4 291.4,116 291.7,118 290.5,119.3 289.5,119.6 286.5,116.8 284,116.6 283,116 282.1,114.5Z" fill="#4576e8" fill-rule="evenodd"/><path d="M277.5,32.5 290.4,32.5 292.7,36.5 292.1,40 295.5,41.5 295.5,46.7 294,46.4 291,44.6 289.5,44.2 288.1,44.5 285.5,46.4 283,45.8 279,46 278,45.5 275.3,41 275.8,40 278,39 279.8,36.5 279.6,35ZM269,85.7 270.5,85.7 271,87 270,87.6 269,87.4 268.6,86.5ZM279.5,96.6 282.1,98 282,100.5 280.1,103 279.5,106 278.2,108.5 277,109.2 275.5,109.3 271,105.6 270.6,104.5 270.8,103 272,101.1 274,100.2 276.7,97.5ZM283.7,114.5 284.5,114.4 284.5,115 284,115.1ZM289,115 290.5,116 290.4,117 289.5,117.9 288.5,117.5 287.9,116.5 288,115.5Z" fill="#3953e6" fill-rule="evenodd"/><path d="M278.5,32.5 289.4,32.5 291.5,34.7 292.2,36.5 292,37.8 290.6,39.5 290.9,41 291.5,41.6 295.5,42.4 295.5,46.1 294,45.8 290,43.4 285.5,43.5 284.8,42 286.9,39.5 286,38.5 284.5,39.5 282.5,44.7 280.5,45.4 279,45 276.4,41.5 276.5,41 279,38.7 280.3,36.5 280.1,35ZM281.1,98 281.7,99 281,101 279.3,102 278.5,104.8 276,104.2 274.5,106.8 273.5,106.7 271.9,105.5 271.5,104.5 272,102.9 278,97.8 279.5,97.2Z" fill="#1818f0" fill-rule="evenodd"/><path d="M277.7,42 277.8,41 279.8,38.5 280.7,36.5 280.5,34.5 279.4,32.5 281.4,32.5 283,33.3 284.8,32.5 288.2,32.5 291.4,35.5 291.5,37.2 289,38.8 286,37.6 284.5,38.2 282.2,41.5 281.7,44 281,44.6 279.5,44.4ZM288.5,39.7 289,39.8 289.5,41 289,42 288,42 287.6,41.5ZM292.5,43 295.5,43.3 295.5,45.3 293.4,44.5 292.4,43.5ZM279.5,98 280.5,98.5 280.5,100 279,100 278.6,99ZM273.5,103.7 273.9,104.5 273.5,105.1 272.9,104.5Z" fill="#1414f0" fill-rule="evenodd"/><path d="M271.8,32.5 272,33.5 273,33.8 273.7,33.5 274.2,32.5M276.4,32.5 279,34.8 279.5,36 278,38.5 274.8,40 274.9,42 276.6,44.5 275.7,46 276,46.9 277,47.2 282,46.3 285.5,47.2 289.5,44.7 291,45 294,46.8 295.5,47.1M295.5,40.5 293.4,39.5 292.9,36 291,32.5M287.5,81M269,84.9 268,86.5 268.5,87.9 269.5,88.3 271.7,88 271.9,87 271,85.1 270,84.6M277.5,96.4 275.7,97 274,99.3 273,99.8 271.6,99.5 270,98.1 270.8,100.5 270,104.5 270.6,106 273.3,108 274.7,110 279,110.4 279.5,109.6 280.5,103.5 282.2,101 282.8,98 279.5,96.1M288.5,96.5 288.1,97 288.7,97M287,101.4 287.1,103 288.5,103.1 288.8,102.5 288.5,101.5 287.5,101M283.5,113.4 282.5,114.5 283.5,115.9 286.5,116 288,118 289.5,119.1 291.1,118 291.1,116 290,114.7 288.5,114.5 286.5,115 285,113.7M259.1,32.5 261,35.5 263.2,37.5 264,39.5 263.5,40.9 261,42 260.7,42.5 261.8,44.5 263,44.6 264.5,43.7 266.5,40.6 267.8,40 268.2,36.5 269,35.8 271.5,37.5 272,40 271.6,41.5 269.2,43.5 269.2,46 270,46.9 272.5,47.7 279.5,51.3 283.5,52.3 287,51.6 287.6,51 288,49.1 290,47.9 291,48.1 293,49.5 295.5,49.4M269,32.5 268,34.5 267,34.7 266,35.6 265.1,34.5 265,32.5M265.5,52.4 265.2,53.5 266,55.4 268,57.8 269,57.6 270.2,56 270.1,54M279,52.5 278.6,53 278.9,53.5 280,53.4 280,52.6M283,53.4 282.3,54.5 281.8,56.5 282.5,57.4 283.5,57.6 284.9,56.5 285.3,54.5 284,53.3M272.5,64.9 270.4,69 272.5,73.1 273,73 273.8,71.5 274.4,66.5 273.4,66 273,64.8M282,66 280.8,67 280.6,68 281,68.6 283,68.8 284.5,67.1 284.4,66.5 283.5,65.9M295.5,71.9 293.5,71.2 292.5,69.5 292.9,68 294.5,66 294.7,65 293.5,64.1 291,63.4 289.1,68 286.9,68.5 287.1,73.5 286.5,74.7 284.5,75.4 284.4,71 283.5,69.7 281,72.5 280.7,74 281.9,77 281.1,79.5 284.2,85 282.2,87.5 280.5,88.5 278.2,88.5 277.6,87.5 277.6,84 277.1,83 276,82.9 275.3,83.5 276.3,85.5 276,86.1 275,86.3 274,85.3 273.9,83 272,81.3 271,81.1 267.2,83 265.5,89 264.5,90 263,90.2 262.1,89.5 262.3,86 261.5,85 260.6,85.5 260,88.5 258.8,90.5 259.4,93.5 258.4,96 259.5,97.5 261.8,96 261,94 261.4,93 263,92.5 264.5,93.2 264.8,94 263.7,96 266.1,98 267.1,99.5 266.9,103.5 267.2,105 268.9,108 271,109.5 271.5,110.5 271.5,112.5 270.6,114.5 269.5,115.8 267.5,116.6 266.8,119.5 263.9,121 263.6,122.5 267,123.2 273,122.4 273.6,121.5 274.1,115.5 276.5,113.8 277.9,115 278.3,117.5 275.7,122.5 278.2,124 276.7,128 278,129.5 279,130 280,129.7 284,125.2 285,125.8 286,128.6 288.5,126.5 292.5,125.9 295.5,127.1M276.5,74.4 275.5,75 275.7,76 277,76.3 278.3,75.5 278.4,74.5M270.5,76.5 268.1,77.5 267.7,78 268.2,78.5 271.5,79.7 274.3,78.5 274.5,77.5 274,76.9 272,76.2M264,77.5 263.4,78.5 263.5,80 264,80.8 265,81.1 265.7,80.5 266.2,78.5M270,92.5 273.5,92.8 274,94 272.5,95.6 268.5,95.1 267.9,94M295.5,92.7 292,93.6 290.5,93.1 289.8,90 286.1,85.5 286.1,85 288.5,83.6 289.7,82 289.7,77.5 290.5,77.2 293,77.5 295.5,76.3M291.6,98 293,97.6 293.5,98 293,100.9 292.5,101.4 290.4,100 290.4,99M284.2,109 285.1,109 285,110.1 283.8,110M295.5,110.8 294.5,110.3 293,108 292,108.2 291.1,109 291,110 293.5,112.5 293.5,113.9 293,114 290.1,112 289.7,110 288.2,108 290,105 292.3,104 293.5,102.6 295.5,102.9M295.5,123.3 293.8,122.5 293.5,121.5 295.2,118.5 294.9,116 295.5,115.2M176.1,32.5 176.6,40.5 177,41 179.5,41.9 181.4,40.5 181.7,39.5 178.8,37 178.2,34 178.5,32.5M178.5,32.5 180.5,33.7 183,33.6 186,34.7 188.1,34 188.9,32.5M198.2,32.5 199,35.5 200,34.6 200.2,32.5M209.9,32.5 210.5,33.6 211.5,33.8 212.8,32.5M257.1,32.5 257,34.6 255.1,36 255.5,38.1 256.5,38.8 259,37.4 260.6,38.5 260.5,39.1 258,40.2 257.2,41 257.4,42.5 259.6,46.5 259.4,47.5 257.7,50 257.7,51 259.1,55 259.7,55.5 262,55.8 262.7,57 261,60.1 260,60.9 258,60.9 256.5,63 257,63.5 259,63.8 260.1,66 262,67.7 264,66.6 265,66.8 267,71.5 266.5,74 264.5,75 261.5,75 260.9,75.5 261.6,82 259.4,84.5 258,87.8 255.5,89.9 254.9,91 254.6,95 256.9,98 256,100 256.1,101 258,102.8 260.5,103.3 261.2,104 260.2,107 261,110.5 261.8,109.5 265.6,109 266.1,110 265,110.9 261.5,111.2 260.9,114.5 262.4,117 260.5,120.7 258.5,122.5 258.5,124.2 259.5,125.1 261.5,124.1 262.5,124 267.5,125.6 271,126.1 273,131.7 273.5,132 276,131.5 278.5,133.7 282,132.7 284.5,133.3 285.5,133.1 287.6,131.5 289,129.1 290,128.7 293,130 294,132.2 295.5,132.8M184,48.8M254.5,48.8 254.4,49.5 255,49.5 255.2,49M295.5,57.4 291.6,55 291.2,54 292.1,52.5 295.5,51.1M280.4,61 281.5,60.6 283,61.1 283.9,62 283.9,63 280.5,64.7 278,64.9 277,64.5M295.5,70.6 294.4,70 294.1,69 295.5,67.5M295.5,90.1 294,89.8 293.2,89 292.6,85 291.7,83.5 291.4,82 292,80 295.5,78.1M268.3,112 269.3,112 269,112.9 268.4,113M159.3,32.5 160.5,33.7 166,33.2 170.5,35 173.7,38.5 171.9,41 172,43.5 172.8,45.5 174,46.2 177,46.2 178.4,49 180.5,51.3 183,53 185.5,53.3 187,52.5 187.8,50 186.5,45 187.5,44.6 189.1,45 189.8,46 190.5,48.5 193,50.1 195.5,50 196.5,48 198.5,47.3 199.6,47.5 202,49.4 203,49.3 205.8,47.5 208.4,44.5 209.1,43 209.4,40 210,39.6 214.3,43.5 217,46.7 219,47.1 223,46.4 223.9,45.5 223.6,42 225.8,40 223,38 221,39.3 220.7,38 223,37.9 224.4,32.5M218.7,32.5 219,35 218.5,35.8 217,34.5 217.4,32.5M227.4,32.5 228.7,37.5 228.1,39.5 229,40.5 230.5,40.3 233,37.2 234.5,37.5 237,39.4 240.5,37.9 241.1,38.5 241.3,39.5 240,40.8 238,41.3 237.6,42.5 239,43.4 242.5,44.2 244.2,43.5 246.5,41.2 250.5,40 251,41 249.5,44 250.8,47 250.1,49 250.3,50.5 252.5,52.1 255.5,52.7 256.4,54 256.3,55 255.5,55.9 252.5,56 251,58.5 251.5,59.5 253.1,60 253.5,61 252.3,65 250.1,67.5 249.9,69.5 252.4,72 252.2,75 252.9,78.5 253.5,79.7 255.1,81 251.7,86 252.2,90.5 252,92.5 249.5,95.5 249,97 249.5,103.5 250,104.5 253.5,107 253.5,108 252.8,110 254.3,112 254.3,112.5 252.5,113.5 251.1,115 252.4,117 254.7,119 255.1,122 256.5,126 257.6,127 263,128.2 264,127.5 265.5,128.8 268,129.2 269.5,130.1 272.8,136 273.2,138.5 275,140 280,138.9 283,139.3 286.2,137 287.5,135.5 288,136.5 292.5,136.2 295.5,135M233.6,32.5 232.5,35.4 231,36.2 229.7,35.5 230.2,32.5M249.4,32.5 247,32.7 241.5,35.5 238,33.8 237.1,32.5M202.4,37.5 204,37.8 204.4,39 202.5,40.7 200.5,40.7 200.3,39.5M258.6,80.5 259.4,80.5 259.5,81.5 258,82.5 257.3,81.5M157.4,32.5 159.5,35.2 163,35.9 167.5,38.8 167.7,41.5 169,44.7 172.3,49.5 172.4,54.5 175,56.1 176.5,58.9 179.5,59.4 181.2,62.5 183,63.8 185,63.1 186,62 186.1,61 184.7,59.5 184.6,58.5 187.5,56.7 189,54.5 190.5,53.5 192.4,54 195,56.7 197.5,56.4 200,56.7 204,54.3 208,50.3 211,50 214,49 221.5,50.3 225,49.2 227,47.8 229.5,47.4 231.5,45.4 232.5,45.9 234.5,48.2 237,48.3 239.5,49.8 244,50.4 245.1,51 248.3,54 248.7,55 247.6,57.5 248.2,62.5 246.3,64.5 245.3,67.5 246.3,69 246.7,72 245.4,76 244.9,81.5 245.5,82.5 248.3,84 248.6,85 245.8,100 247.2,104 245.5,109 245.6,111 244.2,113.5 244.4,114.5 250.1,119 251,122 252.7,124 253.9,127.5 256.5,129.5 260,129.7 263,131.9 265,131.8 266,132.2 267.5,134.6 270,135.5 270.5,139.2 271.8,140.5 274.5,141.8 278.5,141.7 280.5,143.6 287,140.7 289.5,140.6 291.5,139.8 292.5,140.2 292.8,141 292.1,143 295.5,143.1M237.5,51.8 237.2,52.5 238.2,52.5 238.4,52M240.5,119.5 240.1,120.5 240.5,121.5 241.5,121.9 242.5,121.5 242.9,120.5 242.5,119.5 241.5,119.1M289.5,142.4 288.6,143.5 288.7,144.5 290.5,144.7 291.9,143 290.5,142.3M152.9,32.5 153.7,34 155.8,35.5 159.4,40 161.7,42 162.5,44.6 165,45.8 165.5,48 167.9,53 173.4,58.5 175.7,62.5 182.5,66.4 183.5,66.5 187.5,64.6 191,61.8 196.5,59.1 198.6,59 199.5,59.5 197.9,60.5 199,61.4 201.5,61.2 202.1,60.5 201.8,60 199.8,59 205.2,57.5 211,53.1 212,52.9 214.5,53 217.5,52.4 222,55.6 225,56.3 227,56 230,53.6 232,53.2 235,55.6 237.7,57 239.3,59.5 239.3,61 238.7,62.5 239,63.6 240.6,64.5 241,65.5 240.5,66.3 238.8,67 238.2,68.5 238.3,70 239,70.5 242.5,70.5 243.6,72 242,75.7 240.5,76.5 238.5,76.5 238.2,77 238.9,81 240,83.5 239.7,86 240.3,86.5 241.1,90.5 242.4,94 242,98.5 240,100.9 238,101.2 237.3,102.5 237.8,104 239.8,105 240.3,107 239.9,110 238.8,113.5 241.8,117 239.9,117.5 238.5,118.9 238.1,120.5 238.8,122.5 240,123.5 242,123.9 243.8,123 245,121.2 246,123.2 248.4,124.5 248.8,127.5 252.5,132 256.5,134.7 257.4,134 258.5,132 260,131.8 261.9,134 262.2,137 266.5,140.8 269.5,142.7 272.5,142.9 275.4,144 278,146.7 280.5,146.5 285,144.3 289.5,146 293.5,145.6 295.5,144.9M233.5,56.9 232.3,57.5 231.7,59 232.3,60.5 234,61.1 235.3,60.5 235.9,59 235.3,57.5M208,60.9 206,61.5 204.7,62.5 205,63.5 207.5,64.6 213.5,64.7 216.2,64 217.3,63 216.9,62 214.3,61M226,84.5 225,85.2 224.9,86.5 227,87.4 227.7,86.5 227.7,85.5 227,84.6M236.5,84.3 235.6,85.5 235.8,87 237,87.9 238.5,87.7 239.4,86.5 239.2,85 238,84.1M226.5,101.3 225.6,102.5 225.8,104 227,104.9 228.5,104.7 229.4,103.5 229.2,102 228,101.1M233,110.4 231.7,112.5 232.3,114.5 234,115.6 236,115.2 237.2,113.5 237,111.5 235,110.1M242.5,128.3 241.6,129.5 241.8,131 243,131.9 244.5,131.7 245.4,130.5 245.2,129 244,128.1M140.9,32.5 140.9,35 141.5,36.2 142.8,37.5 144.5,38.2 146,40.6 148.8,42 149.4,45.5 148.9,49 149.9,51.5 153.3,54 154,55.7 155.9,57.5 157.5,57.7 158.4,58.5 159,60.1 161.3,62.5 162,65.1 164.3,67 164.3,67.5 161.5,69.8 160.8,72 159,73.4 158.4,74.5 158.4,78 159.5,79.6 161.3,80.5 163,80.7 164.4,82.5 166.5,83.6 169,83.6 171.5,82.2 174,83.2 177.5,82.6 179.5,84.1 180.5,84.2 183,84.1 185.5,81.2 190,80.7 191.5,81.6 194,81.6 195.4,84 197,85.1 200,85.1 201,84.6 204,86.1 206,86.1 207.5,85.6 209,84.2 210.2,80.5 211.6,79.5 212.5,77.7 212.6,76 213,75.6 215,75.6 217.8,78 217.9,80.5 218.5,81.7 220,83.1 221.5,83.6 223.5,86.3 225.8,87.5 226.9,89.5 228.4,91 227.8,94 226,95.3 223,94.4 221,94.4 219.5,95.3 216.5,94.4 214,94.4 212.9,95 210.9,98 211.3,101.5 210.4,103.5 210.3,106 208,107.9 207.2,107.5 205.2,105 205.1,101 204.1,99.5 202.7,98.5 202.1,96 200.5,93.9 199.5,93.4 197,93.3 195.5,91.4 194,90.4 191,90.4 189,91.9 185.5,91.9 184.4,92.5 182.4,95 182.3,98.5 180.4,101 180.4,102.5 178.4,104 176.5,106.3 174.3,106.5 172.5,107.8 171.4,109.5 171.3,111 169.9,112.5 168.9,115 169.5,117.7 170.9,119.5 172,120.1 175.5,120.2 176.8,121.5 176.9,124 178.4,126.5 178.4,130 180.3,132.5 183,133.2 184.8,134.5 188,134.6 190.5,133.2 192.5,133.6 194,132.7 195.5,132.6 197.5,134.1 201,134.2 204,136.1 206.5,136.1 209,134.6 213,135.1 214.5,134.6 216.5,132.7 217.1,131.5 217.2,129.5 219.1,126.5 219.4,124 218.7,122 219.6,119.5 223,117.2 226.5,116.7 228.8,119 228.9,120.5 230.9,123 230.4,126 231.4,129 229.9,132 230.9,135.5 229.9,138 229.9,140 231.9,143 231.9,147 233.4,149 233.4,153.5 234,154.6 237,157.1 239.5,158.1 241,158.1 243,157.1 244.5,154.7 246.7,153.5 248,152.1 248.6,150 251.5,148.2 253.5,149.1 256.5,149.2 259.3,152 259.5,154.2 261.5,156.6 262.5,157.1 267,157.1 268,157.6 269.5,157.6 271.5,156.6 274,153.7 275.7,153.5 278,151.7 280,151.6 282,150.7 283.3,151.5 283.5,153.7 284.9,156 285,158.7 286.9,161.5 288,162.1 295.5,162.6M230.7,65.5 231,65.2 232,65.7 233.8,67.5 233.9,68.5 235.2,70 235.2,72.5 232,75.8 229,76.3 227.7,75.5 226.5,75.4 224.7,73 225.1,68 226.5,66.7 228.5,66.6M195.2,69 196.5,68.7 197.8,69.5 197.8,71 197,71.8 194,72.3 192.5,71.8 191.6,71 192,69.7M191.7,105 192.5,104.6 192.9,105.5 191.5,106.8 190,106.8 189.2,106 189.5,105.1M211,163.9 208,166.3 206.9,168 206.9,171 207.5,172.2 209.3,174 212,175.1 214.5,175.1 217,174.1 218.6,172.5 219.6,170 218.5,166.3 217,164.9 214.7,164" fill="none" stroke="#000" stroke-width="0.6" stroke-opacity="0.9"/></g>
<rect x="53.5" y="32.5" width="242.0" height="210.0" fill="none" stroke="#333" stroke-width="1"/>
<line x1="53.5" y1="242.5" x2="53.5" y2="247.0" stroke="#333" stroke-width="1"/>
<text x="53.5" y="260" font-size="12" text-anchor="middle">0.0</text>
<line x1="49.0" y1="242.5" x2="53.5" y2="242.5" stroke="#333" stroke-width="1"/>
<text x="46.3" y="245.7" font-size="12.2" text-anchor="end">0.0</text>
<line x1="114.5" y1="242.5" x2="114.5" y2="247.0" stroke="#333" stroke-width="1"/>
<text x="114.0" y="260" font-size="12" text-anchor="middle">0.5</text>
<line x1="49.0" y1="190.5" x2="53.5" y2="190.5" stroke="#333" stroke-width="1"/>
<text x="46.3" y="193.2" font-size="12.2" text-anchor="end">0.5</text>
<line x1="174.5" y1="242.5" x2="174.5" y2="247.0" stroke="#333" stroke-width="1"/>
<text x="174.5" y="260" font-size="12" text-anchor="middle">1.0</text>
<line x1="49.0" y1="137.5" x2="53.5" y2="137.5" stroke="#333" stroke-width="1"/>
<text x="46.3" y="140.7" font-size="12.2" text-anchor="end">1.0</text>
<line x1="235.5" y1="242.5" x2="235.5" y2="247.0" stroke="#333" stroke-width="1"/>
<text x="235.0" y="260" font-size="12" text-anchor="middle">1.5</text>
<line x1="49.0" y1="85.5" x2="53.5" y2="85.5" stroke="#333" stroke-width="1"/>
<text x="46.3" y="88.2" font-size="12.2" text-anchor="end">1.5</text>
<line x1="295.5" y1="242.5" x2="295.5" y2="247.0" stroke="#333" stroke-width="1"/>
<text x="295.5" y="260" font-size="12" text-anchor="middle">2.0</text>
<line x1="49.0" y1="32.5" x2="53.5" y2="32.5" stroke="#333" stroke-width="1"/>
<text x="46.3" y="35.7" font-size="12.2" text-anchor="end">2.0</text>
<text x="175.5" y="277.7" font-size="12.3" text-anchor="middle">CV1</text>
<text x="20.3" y="146.4" font-size="12.3" text-anchor="middle" transform="rotate(-90 20.3 146.4)">CV2</text>
<text x="2.3" y="16.6" font-size="21.5" text-anchor="start">(a)</text>
<defs><linearGradient id="cbg" x1="0" y1="1" x2="0" y2="0"><stop offset="0.0000" stop-color="#1414f0"/><stop offset="0.0591" stop-color="#1919f0"/><stop offset="0.0727" stop-color="#323ce6"/><stop offset="0.1000" stop-color="#416ee6"/><stop offset="0.1500" stop-color="#4b82eb"/><stop offset="0.1909" stop-color="#50b4f0"/><stop offset="0.2182" stop-color="#6ef0f5"/><stop offset="0.2955" stop-color="#6ef5f0"/><stop offset="0.3318" stop-color="#64f5a0"/><stop offset="0.3864" stop-color="#41fa28"/><stop offset="0.5227" stop-color="#3cfa14"/><stop offset="0.5545" stop-color="#96f51e"/><stop offset="0.6045" stop-color="#ebf532"/><stop offset="0.6682" stop-color="#ebb432"/><stop offset="0.7273" stop-color="#eb7332"/><stop offset="0.7818" stop-color="#f54623"/><stop offset="0.8409" stop-color="#ff2814"/><stop offset="1.0000" stop-color="#ff2314"/></linearGradient></defs><rect x="298" y="32.2" width="14" height="207.3" fill="url(#cbg)"/>
<text x="315.3" y="35.6" font-size="12" text-anchor="start">22</text>
<text x="315.3" y="80.8" font-size="12" text-anchor="start">16.5</text>
<text x="315.3" y="134.10000000000002" font-size="12" text-anchor="start">11</text>
<text x="315.3" y="189.8" font-size="12" text-anchor="start">5.5</text>
<text x="315.3" y="243.9" font-size="12" text-anchor="start">0</text>
<g><polyline points="418.04,172.8 418.46,184.2 418.74,190.6 419.16,168.0 419.44,171.6 419.86,183.0 420.14,184.2 420.56,172.1 420.84,165.8 421.26,186.1 421.54,183.7 421.96,167.8 422.24,163.1 422.66,185.0 422.94,180.9 423.36,168.0 423.64,167.8 424.06,179.6 424.34,178.6 424.76,164.2 425.04,163.0 425.46,178.7 425.74,175.2 426.16,159.9 426.44,157.5 426.86,172.2 427.14,171.6 427.56,156.1 427.84,149.3 428.26,167.6 428.54,164.4 428.96,147.3 429.24,146.0 429.66,166.8 429.94,163.6 430.36,147.0 430.64,145.2 431.06,166.9 431.34,161.8 431.76,138.2 432.04,146.7 432.46,161.3 432.74,164.0 433.16,142.6 433.44,138.9 433.86,166.2 434.14,154.5 434.56,139.5 434.84,138.7 435.26,158.4 435.54,159.0 435.96,136.0 436.24,137.6 436.66,157.3 436.94,152.9 437.36,130.1 437.64,137.3 438.06,157.6 438.34,172.4 438.76,141.3 439.04,137.8 439.46,155.5 439.74,177.0 440.16,139.7 440.44,141.4 440.86,160.1 441.14,156.3 441.56,137.0 441.84,136.8 442.26,155.0 442.54,157.3 442.96,140.1 443.24,137.4 443.66,159.4 443.94,175.4 444.36,139.6 444.64,134.6 445.06,157.8 445.34,156.9 445.76,137.1 446.04,138.4 446.46,165.7 446.74,162.2 447.16,139.7 447.44,134.0 447.86,156.1 448.14,158.1 448.56,133.5 448.84,139.4 449.26,157.9 449.54,158.6 449.96,135.4 450.24,129.2 450.66,156.9 450.94,155.4 451.36,137.6 451.64,134.4 452.06,157.9 452.34,158.8 452.76,136.3 453.04,137.6 453.46,161.3 453.74,159.2 454.16,135.1 454.44,138.6 454.86,161.6 455.14,159.9 455.56,141.6 455.84,141.0 456.26,158.1 456.54,157.9 456.96,137.6 457.24,138.2 457.66,156.2 457.94,158.6 458.36,138.6 458.64,138.9 459.06,158.1 459.34,158.8 459.76,140.4 460.04,134.7 460.46,152.5 460.74,153.6 461.16,138.6 461.44,132.1 461.86,155.2 462.14,156.3 462.56,135.8 462.84,139.6 463.26,156.6 463.54,158.3 463.96,135.5 464.24,137.3 464.66,159.0 464.94,159.3 465.36,137.4 465.64,133.7 466.06,161.9 466.34,156.4 466.76,136.8 467.04,140.3 467.46,161.2 467.74,159.5 468.16,138.4 468.44,140.2 468.86,156.7 469.14,160.9 469.56,140.5 469.84,140.0 470.26,154.4 470.54,161.9 470.96,139.8 471.24,140.5 471.66,157.6 471.94,160.4 472.36,138.5 472.64,143.6 473.06,160.6 473.34,160.7 473.76,142.6 474.04,141.5 474.46,163.4 474.74,163.7 475.16,144.2 475.44,150.8 475.86,168.6 476.14,169.2 476.56,154.5 476.84,157.6 477.26,177.7 477.54,184.4 477.96,162.2 478.24,169.1 478.66,183.8 478.94,186.0 479.36,166.6 479.64,166.4 480.06,188.8 480.34,181.7 480.76,162.9 481.04,163.6 481.46,181.6 481.74,186.5 482.16,157.9 482.44,165.4 482.86,183.5 483.14,184.1 483.56,166.5 483.84,163.6 484.26,182.7 484.54,182.0 484.96,159.6 485.24,163.1 485.66,180.9 485.94,185.7 486.36,165.1 486.64,161.7 487.06,183.1 487.34,182.6 487.76,168.1 488.04,157.0 488.46,186.1 488.74,187.4 489.16,165.7 489.44,161.9 489.86,183.6 490.14,191.1 490.56,160.4 490.84,172.0 491.26,193.8 491.54,193.4 491.96,166.5 492.24,169.0 492.66,193.0 492.94,189.6 493.36,167.3 493.64,175.9 494.06,192.5 494.34,190.4 494.76,172.8 495.04,167.8 495.46,192.5 495.74,182.1 496.16,167.6 496.44,155.5 496.86,180.6 497.14,173.3 497.56,157.7 497.84,153.2 498.26,170.6 498.54,161.9 498.96,147.3 499.24,143.1 499.66,165.5 499.94,159.4 500.36,136.4 500.64,132.4 501.06,151.2 501.34,145.2 501.76,131.2 502.04,129.3 502.46,147.4 502.74,145.5 503.16,129.9 503.44,123.8 503.86,143.5 504.14,144.4 504.56,125.7 504.84,126.0 505.26,141.8 505.54,141.3 505.96,126.8 506.24,128.3 506.66,145.1 506.94,144.7 507.36,130.1 507.64,126.4 508.06,144.9 508.34,143.3 508.76,130.7 509.04,128.2 509.46,144.7 509.74,145.2 510.16,134.7 510.44,129.1 510.86,144.9 511.14,150.3 511.56,133.8 511.84,130.0 512.26,145.6 512.54,147.5 512.96,132.9 513.24,129.4 513.66,146.5 513.94,146.7 514.36,129.3 514.64,131.2 515.06,148.4 515.34,161.7 515.76,131.7 516.04,132.2 516.46,149.7 516.74,151.2 517.16,133.6 517.44,131.1 517.86,149.5 518.14,152.2 518.56,137.4 518.84,130.4 519.26,150.1 519.54,150.0 519.96,135.9 520.24,137.0 520.66,150.2 520.94,150.8 521.36,138.3 521.64,138.1 522.06,152.9 522.34,150.5 522.76,133.8 523.04,128.8 523.46,152.0 523.74,149.5 524.16,135.5 524.44,136.0 524.86,149.7 525.14,150.0 525.56,132.5 525.84,132.9 526.26,149.7 526.54,149.1 526.96,133.0 527.24,133.9 527.66,150.0 527.94,149.2 528.36,133.1 528.64,135.2 529.06,149.9 529.34,151.9 529.76,131.5 530.04,131.8 530.46,151.2 530.74,150.8 531.16,132.3 531.44,134.1 531.86,147.8 532.14,150.7 532.56,137.7 532.84,134.8 533.26,151.0 533.54,152.0 533.96,136.3 534.24,137.7 534.66,156.2 534.94,150.6 535.36,135.2 535.64,136.9 536.06,152.2 536.34,155.1 536.76,133.6 537.04,135.1 537.46,153.6 537.74,153.9 538.16,135.5 538.44,136.2 538.86,152.2 539.14,148.1 539.56,137.3 539.84,137.4 540.26,152.6 540.54,152.3 540.96,135.7 541.24,134.4 541.66,150.5 541.94,147.7 542.36,131.5 542.64,129.8 543.06,145.0 543.34,147.5 543.76,130.1 544.04,133.0 544.46,144.8 544.74,148.4 545.16,132.6 545.44,130.4 545.86,144.0 546.14,147.0 546.56,127.8 546.84,133.6 547.26,146.3 547.54,146.7 547.96,129.5 548.24,133.5 548.66,149.0 548.94,145.4 549.36,127.8 549.64,134.9 550.06,147.5 550.34,147.5 550.76,134.5 551.04,133.2 551.46,152.4 551.74,150.8 552.16,135.4 552.44,133.1 552.86,149.6 553.14,150.4 553.56,128.8 553.84,132.9 554.26,145.6 554.54,145.8 554.96,128.2 555.24,135.9 555.66,147.5 555.94,148.3 556.36,132.6 556.64,134.1 557.06,148.9 557.34,148.9 557.76,135.4 558.04,132.1 558.46,149.7 558.74,150.4 559.16,135.8 559.44,135.6 559.86,146.3 560.14,148.8 560.56,133.3 560.84,132.3 561.26,149.1 561.54,145.8 561.96,132.0 562.24,132.7 562.66,147.2 562.94,149.7 563.36,130.9 563.64,134.5 564.06,145.8 564.34,146.2 564.76,132.6 565.04,132.6 565.46,150.1 565.74,147.2 566.16,132.6 566.44,132.5 566.86,154.5 567.14,153.6 567.56,137.1 567.84,132.9 568.26,148.2 568.54,151.0 568.96,135.8 569.24,136.9 569.66,153.8 569.94,151.6 570.36,137.8 570.64,135.7 571.06,154.4 571.34,155.4 571.76,139.0 572.04,131.9 572.46,150.9 572.74,151.9 573.16,133.0 573.44,137.0 573.86,152.9 574.14,153.0 574.56,133.1 574.84,135.2 575.26,153.9 575.54,153.3 575.96,138.6 576.24,138.0 576.66,155.6 576.94,159.9 577.36,136.5 577.64,136.9 578.06,151.1 578.34,156.7 578.76,135.4 579.04,133.9 579.46,155.2 579.74,154.9 580.16,135.7 580.44,137.1 580.86,159.6 581.14,153.9 581.56,134.7 581.84,137.8 582.26,155.7 582.54,156.0 582.96,140.5 583.24,137.4 583.66,159.6 583.94,161.2 584.36,140.6 584.64,135.9 585.06,159.3 585.34,153.6 585.76,136.2 586.04,136.4 586.46,154.5 586.74,152.2 587.16,135.6 587.44,135.2 587.86,153.4 588.14,150.2 588.56,134.0 588.84,135.8 589.26,154.5 589.54,157.9 589.96,137.1 590.24,128.0 590.66,150.0 590.94,158.4 591.36,140.4 591.64,135.2 592.06,151.7 592.34,156.7 592.76,142.3 593.04,141.0 593.46,157.7 593.74,154.8 594.16,137.7 594.44,141.6 594.86,160.6 595.14,155.1 595.56,137.7 595.84,141.8 596.26,158.6 596.54,154.4 596.96,141.0 597.24,136.2 597.66,155.3 597.94,152.7 598.36,130.8 598.64,131.4 599.06,153.2 599.34,152.4 599.76,131.3 600.04,132.6 600.46,152.6 600.74,152.4 601.16,125.9 601.44,133.7 601.86,148.2 602.14,152.0 602.56,131.9 602.84,132.8 603.26,153.8 603.54,160.8 603.96,137.2 604.24,139.9 604.66,156.4 604.94,161.4 605.36,139.7 605.64,133.7 606.06,163.0 606.34,157.0 606.76,138.9 607.04,134.1 607.46,156.3 607.74,150.4 608.16,135.6 608.44,134.7 608.86,154.1 609.14,152.0 609.56,136.4 609.84,124.0 610.26,154.8 610.54,152.9 610.96,133.1 611.24,133.2 611.66,149.9 611.94,149.5 612.36,131.2 612.64,130.5 613.06,162.9 613.34,155.7 613.76,131.8 614.04,130.9 614.46,156.7 614.74,154.5 615.16,133.5 615.44,136.9 615.86,153.9 616.14,158.4 616.56,139.8 616.84,141.6 617.26,161.6 617.54,168.4 617.96,141.8 618.24,148.7 618.66,176.1 618.94,170.5 619.36,149.6 619.64,154.3 620.06,172.4 620.34,188.5 620.76,158.7 621.04,158.0 621.46,183.4 621.74,178.5 622.16,155.7 622.44,157.2 622.86,181.7 623.14,187.9 623.56,157.4 623.84,159.9 624.26,177.1 624.54,178.4 624.96,154.3 625.24,156.5 625.66,178.2 625.94,175.5 626.36,153.1 626.64,155.6 627.06,176.7 627.34,175.4 627.76,150.0 628.04,151.5 628.46,172.5 628.74,171.2 629.16,149.2 629.44,147.3 629.86,173.0 630.14,174.6 630.56,150.2 630.84,156.0 631.26,181.0 631.54,188.3 631.96,157.6 632.24,156.7 632.66,182.1 632.94,186.2 633.36,162.1 633.64,160.2 634.06,186.4 634.34,191.4 634.76,165.1 635.04,162.0 635.46,189.3 635.74,183.2 636.16,159.3 636.44,166.2 636.86,189.6 637.14,189.3 637.56,164.2 637.84,159.8 638.26,186.0 638.54,186.8 638.96,162.5 639.24,162.9 639.66,182.5 639.94,186.0 640.36,158.2 640.64,162.3 641.06,185.6 641.34,180.3 641.76,164.3 642.04,159.3 642.46,185.3 642.74,183.0 643.16,145.3 643.44,159.1 643.86,181.1 644.14,181.2 644.56,155.7 644.84,154.1 645.26,180.2 645.54,179.2 645.96,160.8 646.24,160.3 646.66,180.5 646.94,181.4 647.36,156.1 647.64,164.5 648.06,185.1 648.34,181.2 648.76,162.5 649.04,167.7 649.46,186.1 649.74,190.5 650.16,171.3 650.44,173.2 650.86,184.5 651.14,189.7 651.56,173.6 651.84,171.8 652.26,189.6 652.54,188.9 652.96,173.0 653.24,171.0 653.66,189.5 653.94,193.4 654.36,175.8 654.64,175.4 655.06,192.1 655.34,192.2 655.76,176.0 656.04,178.5 656.46,196.6 656.74,193.4 657.16,177.3 657.44,173.5 657.86,194.4 658.14,191.9 658.56,174.8 658.84,167.5 659.26,187.0 659.54,178.9 659.96,162.7 660.24,159.9 660.66,175.1 660.94,173.5 661.36,154.0 661.64,147.7 662.06,167.1 662.34,162.9 662.76,147.4 663.04,144.5 663.46,160.5 663.74,161.3 664.16,142.8 664.44,138.7 664.86,159.4 665.14,154.9 665.56,142.2 665.84,140.1 666.26,153.7 666.54,149.1 666.96,139.3 667.24,138.0 667.66,147.2 667.94,148.1 668.36,134.9 668.64,133.4 669.06,148.7 669.34,148.9 669.76,131.2 670.04,132.4 670.46,148.0 670.74,143.8 671.16,130.5 671.44,128.6 671.86,146.2 672.14,143.7 672.56,129.4 672.84,127.8 673.26,140.9 673.54,143.5 673.96,124.8 674.24,128.5 674.66,141.0" fill="none" stroke="#000" stroke-width="0.85" stroke-opacity="1" stroke-linejoin="miter" stroke-miterlimit="1"/><polyline points="418.04,132.6 418.46,147.0 418.74,149.5 419.16,133.2 419.44,130.4 419.86,149.4 420.14,146.4 420.56,132.0 420.84,129.0 421.26,149.2 421.54,147.8 421.96,132.8 422.24,130.0 422.66,146.9 422.94,149.8 423.36,125.9 423.64,131.0 424.06,176.7 424.34,149.9 424.76,130.8 425.04,130.5 425.46,171.8 425.74,144.7 426.16,130.5 426.44,129.9 426.86,150.8 427.14,151.5 427.56,127.4 427.84,129.3 428.26,151.1 428.54,146.8 428.96,126.5 429.24,133.7 429.66,174.7 429.94,147.5 430.36,129.9 430.64,129.9 431.06,146.6 431.34,144.4 431.76,123.4 432.04,131.6 432.46,145.1 432.74,143.0 433.16,128.9 433.44,126.6 433.86,146.6 434.14,144.2 434.56,127.9 434.84,125.5 435.26,147.1 435.54,142.0 435.96,127.6 436.24,121.4 436.66,140.5 436.94,141.0 437.36,123.7 437.64,122.1 438.06,146.7 438.34,163.0 438.76,123.0 439.04,122.2 439.46,162.3 439.74,145.6 440.16,125.8 440.44,128.0 440.86,143.5 441.14,143.4 441.56,130.9 441.84,127.9 442.26,146.6 442.54,159.9 442.96,124.7 443.24,129.0 443.66,148.7 443.94,144.1 444.36,128.1 444.64,132.0 445.06,145.6 445.34,143.5 445.76,128.9 446.04,129.7 446.46,143.3 446.74,178.8 447.16,123.9 447.44,127.6 447.86,175.6 448.14,148.7 448.56,129.6 448.84,127.2 449.26,147.6 449.54,168.3 449.96,128.3 450.24,130.1 450.66,144.5 450.94,144.6 451.36,126.4 451.64,126.8 452.06,146.4 452.34,177.1 452.76,130.9 453.04,127.4 453.46,146.3 453.74,146.2 454.16,131.5 454.44,128.8 454.86,150.6 455.14,150.8 455.56,131.3 455.84,128.5 456.26,144.6 456.54,147.0 456.96,127.3 457.24,131.0 457.66,147.0 457.94,143.3 458.36,129.5 458.64,129.8 459.06,140.9 459.34,146.8 459.76,127.7 460.04,129.2 460.46,143.6 460.74,140.5 461.16,125.8 461.44,123.7 461.86,140.2 462.14,147.0 462.56,125.3 462.84,126.1 463.26,145.5 463.54,141.6 463.96,128.5 464.24,127.7 464.66,147.0 464.94,150.0 465.36,127.6 465.64,128.9 466.06,147.1 466.34,145.9 466.76,131.7 467.04,128.7 467.46,146.9 467.74,143.5 468.16,125.3 468.44,127.6 468.86,163.8 469.14,163.2 469.56,131.2 469.84,125.0 470.26,146.7 470.54,175.8 470.96,127.2 471.24,130.0 471.66,143.9 471.94,142.1 472.36,120.8 472.64,122.9 473.06,177.0 473.34,148.3 473.76,124.4 474.04,123.2 474.46,144.2 474.74,142.0 475.16,127.4 475.44,125.3 475.86,143.1 476.14,141.5 476.56,124.7 476.84,122.5 477.26,145.1 477.54,181.9 477.96,126.9 478.24,123.1 478.66,174.7 478.94,145.6 479.36,130.1 479.64,134.4 480.06,165.0 480.34,166.1 480.76,130.4 481.04,132.7 481.46,150.4 481.74,160.7 482.16,125.8 482.44,131.3 482.86,151.1 483.14,180.5 483.56,132.7 483.84,133.8 484.26,151.6 484.54,175.3 484.96,137.3 485.24,135.0 485.66,157.3 485.94,182.2 486.36,131.0 486.64,134.1 487.06,153.5 487.34,155.0 487.76,134.4 488.04,134.9 488.46,180.0 488.74,153.2 489.16,132.7 489.44,132.2 489.86,153.4 490.14,179.1 490.56,132.5 490.84,133.8 491.26,149.3 491.54,150.6 491.96,128.3 492.24,134.8 492.66,147.6 492.94,161.3 493.36,129.1 493.64,126.7 494.06,165.2 494.34,167.1 494.76,127.5 495.04,122.9 495.46,139.5 495.74,142.9 496.16,125.9 496.44,129.3 496.86,163.4 497.14,145.1 497.56,129.0 497.84,128.6 498.26,148.2 498.54,148.3 498.96,131.6 499.24,135.8 499.66,149.7 499.94,180.3 500.36,136.4 500.64,140.8 501.06,154.4 501.34,160.4 501.76,136.5 502.04,139.2 502.46,159.9 502.74,162.7 503.16,150.1 503.44,145.7 503.86,168.1 504.14,165.4 504.56,148.5 504.84,154.6 505.26,171.4 505.54,172.4 505.96,150.8 506.24,150.0 506.66,174.2 506.94,173.8 507.36,153.5 507.64,155.6 508.06,171.0 508.34,174.2 508.76,156.9 509.04,153.1 509.46,167.6 509.74,176.2 510.16,155.8 510.44,152.6 510.86,176.3 511.14,177.5 511.56,157.3 511.84,159.6 512.26,178.7 512.54,184.8 512.96,160.3 513.24,161.7 513.66,178.5 513.94,182.2 514.36,161.5 514.64,160.7 515.06,181.4 515.34,183.6 515.76,157.4 516.04,159.9 516.46,177.2 516.74,178.5 517.16,156.8 517.44,156.6 517.86,171.3 518.14,176.3 518.56,152.8 518.84,147.6 519.26,170.4 519.54,166.7 519.96,147.3 520.24,138.4 520.66,161.3 520.94,153.5 521.36,133.0 521.64,125.3 522.06,139.2 522.34,136.5 522.76,118.1 523.04,124.2 523.46,139.6 523.74,137.8 524.16,124.2 524.44,122.8 524.86,162.4 525.14,139.6 525.56,126.3 525.84,125.1 526.26,137.0 526.54,139.0 526.96,123.0 527.24,122.3 527.66,141.0 527.94,169.7 528.36,125.7 528.64,124.7 529.06,141.4 529.34,140.0 529.76,128.7 530.04,124.6 530.46,141.3 530.74,144.9 531.16,125.3 531.44,131.6 531.86,146.8 532.14,151.2 532.56,131.3 532.84,131.3 533.26,150.4 533.54,150.2 533.96,132.4 534.24,133.0 534.66,156.7 534.94,150.7 535.36,135.6 535.64,135.4 536.06,154.8 536.34,160.3 536.76,141.9 537.04,142.6 537.46,168.4 537.74,166.7 538.16,150.7 538.44,151.9 538.86,169.6 539.14,180.2 539.56,159.7 539.84,165.3 540.26,181.0 540.54,188.4 540.96,161.8 541.24,169.0 541.66,185.4 541.94,187.7 542.36,164.8 542.64,160.2 543.06,185.4 543.34,186.8 543.76,166.5 544.04,170.2 544.46,187.6 544.74,186.1 545.16,167.0 545.44,165.5 545.86,183.8 546.14,178.7 546.56,160.9 546.84,158.4 547.26,181.6 547.54,181.2 547.96,153.3 548.24,147.6 548.66,171.5 548.94,173.4 549.36,142.4 549.64,136.4 550.06,166.0 550.34,152.3 550.76,133.7 551.04,132.2 551.46,149.9 551.74,150.8 552.16,127.4 552.44,131.4 552.86,150.0 553.14,145.4 553.56,131.3 553.84,131.4 554.26,149.0 554.54,148.5 554.96,132.2 555.24,129.8 555.66,153.7 555.94,159.6 556.36,135.7 556.64,141.8 557.06,163.0 557.34,169.9 557.76,152.0 558.04,157.9 558.46,176.7 558.74,181.9 559.16,164.4 559.44,161.5 559.86,188.2 560.14,191.7 560.56,172.3 560.84,172.5 561.26,197.0 561.54,192.1 561.96,174.7 562.24,171.4 562.66,189.1 562.94,191.7 563.36,168.9 563.64,178.2 564.06,192.9 564.34,189.2 564.76,168.2 565.04,168.0 565.46,186.7 565.74,185.6 566.16,164.1 566.44,160.4 566.86,178.0 567.14,173.8 567.56,152.2 567.84,151.1 568.26,168.4 568.54,168.6 568.96,145.7 569.24,142.9 569.66,156.5 569.94,155.2 570.36,134.0 570.64,133.3 571.06,152.0 571.34,146.9 571.76,129.2 572.04,122.7 572.46,145.8 572.74,144.7 573.16,126.6 573.44,125.8 573.86,163.8 574.14,148.2 574.56,124.0 574.84,126.3 575.26,145.5 575.54,145.0 575.96,131.4 576.24,125.4 576.66,146.6 576.94,147.0 577.36,130.6 577.64,132.4 578.06,150.4 578.34,145.8 578.76,130.3 579.04,130.3 579.46,162.6 579.74,157.1 580.16,134.4 580.44,133.3 580.86,154.7 581.14,154.3 581.56,134.1 581.84,135.4 582.26,154.8 582.54,155.4 582.96,138.3 583.24,138.3 583.66,169.5 583.94,168.4 584.36,147.1 584.64,148.6 585.06,176.5 585.34,175.5 585.76,154.2 586.04,155.5 586.46,176.9 586.74,178.8 587.16,155.2 587.44,158.1 587.86,185.8 588.14,186.8 588.56,158.8 588.84,155.2 589.26,187.3 589.54,187.1 589.96,160.1 590.24,156.1 590.66,175.6 590.94,179.1 591.36,149.5 591.64,144.5 592.06,175.9 592.34,165.7 592.76,144.3 593.04,142.9 593.46,164.1 593.74,163.2 594.16,137.4 594.44,138.0 594.86,167.6 595.14,175.3 595.56,142.3 595.84,143.8 596.26,170.5 596.54,165.7 596.96,140.7 597.24,145.8 597.66,177.4 597.94,174.8 598.36,151.9 598.64,147.7 599.06,170.9 599.34,178.4 599.76,153.8 600.04,151.0 600.46,179.3 600.74,173.6 601.16,149.5 601.44,148.9 601.86,173.8 602.14,176.0 602.56,141.6 602.84,146.3 603.26,166.7 603.54,160.9 603.96,141.7 604.24,129.8 604.66,163.2 604.94,162.0 605.36,134.2 605.64,133.4 606.06,156.7 606.34,160.3 606.76,129.7 607.04,133.9 607.46,157.8 607.74,165.5 608.16,133.8 608.44,143.1 608.86,170.5 609.14,172.8 609.56,147.2 609.84,152.8 610.26,184.0 610.54,186.3 610.96,154.7 611.24,159.5 611.66,184.5 611.94,190.8 612.36,160.8 612.64,156.1 613.06,190.9 613.34,177.4 613.76,156.8 614.04,146.0 614.46,168.9 614.74,163.1 615.16,138.9 615.44,136.7 615.86,163.0 616.14,147.6 616.56,124.2 616.84,129.4 617.26,147.1 617.54,149.5 617.96,120.9 618.24,127.9 618.66,149.0 618.94,154.7 619.36,124.2 619.64,131.3 620.06,153.2 620.34,151.2 620.76,125.2 621.04,128.9 621.46,148.7 621.74,151.2 622.16,131.4 622.44,128.9 622.86,160.3 623.14,151.3 623.56,127.5 623.84,121.8 624.26,147.1 624.54,151.9 624.96,132.8 625.24,129.9 625.66,153.5 625.94,145.8 626.36,131.3 626.64,118.6 627.06,149.4 627.34,144.5 627.76,125.0 628.04,128.6 628.46,147.5 628.74,154.0 629.16,130.9 629.44,129.6 629.86,153.6 630.14,153.1 630.56,132.6 630.84,132.2 631.26,152.2 631.54,154.7 631.96,139.2 632.24,135.7 632.66,159.3 632.94,157.3 633.36,139.5 633.64,137.5 634.06,164.9 634.34,163.2 634.76,139.6 635.04,138.9 635.46,161.3 635.74,157.4 636.16,140.7 636.44,138.8 636.86,154.4 637.14,153.9 637.56,136.2 637.84,131.2 638.26,148.2 638.54,151.3 638.96,128.0 639.24,121.1 639.66,145.1 639.94,142.6 640.36,115.7 640.64,119.3 641.06,143.4 641.34,140.8 641.76,122.3 642.04,118.5 642.46,141.3 642.74,142.8 643.16,122.7 643.44,118.7 643.86,141.2 644.14,143.5 644.56,125.7 644.84,126.1 645.26,144.6 645.54,142.5 645.96,127.3 646.24,121.0 646.66,145.1 646.94,146.2 647.36,127.1 647.64,130.3 648.06,150.2 648.34,154.4 648.76,134.3 649.04,131.6 649.46,151.0 649.74,178.6 650.16,130.0 650.44,131.1 650.86,145.8 651.14,141.3 651.56,124.0 651.84,124.9 652.26,143.2 652.54,144.0 652.96,129.7 653.24,120.5 653.66,150.4 653.94,145.2 654.36,121.0 654.64,122.9 655.06,142.5 655.34,143.5 655.76,125.0 656.04,121.2 656.46,139.4 656.74,139.6 657.16,114.7 657.44,115.7 657.86,139.8 658.14,139.8 658.56,114.0 658.84,116.3 659.26,138.3 659.54,140.6 659.96,121.9 660.24,116.8 660.66,142.2 660.94,134.5 661.36,120.9 661.64,118.7 662.06,137.8 662.34,137.6 662.76,117.6 663.04,114.8 663.46,135.0 663.74,133.2 664.16,119.3 664.44,117.2 664.86,134.7 665.14,136.6 665.56,119.0 665.84,113.1 666.26,137.7 666.54,135.9 666.96,117.9 667.24,114.5 667.66,136.0 667.94,131.9 668.36,110.9 668.64,112.3 669.06,137.6 669.34,167.3 669.76,116.1 670.04,111.7 670.46,135.4 670.74,130.8 671.16,114.0 671.44,106.8 671.86,133.0 672.14,132.3 672.56,116.2 672.84,118.6 673.26,135.4 673.54,136.6 673.96,111.8 674.24,114.9 674.66,132.1" fill="none" stroke="#f00" stroke-width="0.85" stroke-opacity="1" stroke-linejoin="miter" stroke-miterlimit="1"/></g>
<rect x="418.5" y="41.5" width="256.0" height="188.0" fill="none" stroke="#333" stroke-width="1"/>
<line x1="414.5" y1="229.5" x2="418.5" y2="229.5" stroke="#333" stroke-width="1"/>
<text x="411.8" y="232.8" font-size="11" text-anchor="end">0</text>
<line x1="416.0" y1="206.5" x2="418.5" y2="206.5" stroke="#333" stroke-width="1"/>
<line x1="414.5" y1="182.5" x2="418.5" y2="182.5" stroke="#333" stroke-width="1"/>
<text x="411.8" y="185.8" font-size="11" text-anchor="end">1</text>
<line x1="416.0" y1="159.5" x2="418.5" y2="159.5" stroke="#333" stroke-width="1"/>
<line x1="414.5" y1="135.5" x2="418.5" y2="135.5" stroke="#333" stroke-width="1"/>
<text x="411.8" y="138.8" font-size="11" text-anchor="end">2</text>
<line x1="416.0" y1="112.5" x2="418.5" y2="112.5" stroke="#333" stroke-width="1"/>
<line x1="414.5" y1="88.5" x2="418.5" y2="88.5" stroke="#333" stroke-width="1"/>
<text x="411.8" y="91.8" font-size="11" text-anchor="end">3</text>
<line x1="416.0" y1="65.5" x2="418.5" y2="65.5" stroke="#333" stroke-width="1"/>
<line x1="414.5" y1="41.5" x2="418.5" y2="41.5" stroke="#333" stroke-width="1"/>
<text x="411.8" y="44.8" font-size="11" text-anchor="end">4</text>
<line x1="418.5" y1="229.5" x2="418.5" y2="233.5" stroke="#333" stroke-width="1"/>
<text x="418.5" y="245" font-size="11" text-anchor="middle">0</text>
<line x1="444.5" y1="229.5" x2="444.5" y2="232.0" stroke="#333" stroke-width="1"/>
<line x1="469.5" y1="229.5" x2="469.5" y2="233.5" stroke="#333" stroke-width="1"/>
<text x="469.7" y="245" font-size="11" text-anchor="middle">20</text>
<line x1="495.5" y1="229.5" x2="495.5" y2="232.0" stroke="#333" stroke-width="1"/>
<line x1="520.5" y1="229.5" x2="520.5" y2="233.5" stroke="#333" stroke-width="1"/>
<text x="520.9" y="245" font-size="11" text-anchor="middle">40</text>
<line x1="546.5" y1="229.5" x2="546.5" y2="232.0" stroke="#333" stroke-width="1"/>
<line x1="572.5" y1="229.5" x2="572.5" y2="233.5" stroke="#333" stroke-width="1"/>
<text x="572.1" y="245" font-size="11" text-anchor="middle">60</text>
<line x1="597.5" y1="229.5" x2="597.5" y2="232.0" stroke="#333" stroke-width="1"/>
<line x1="623.5" y1="229.5" x2="623.5" y2="233.5" stroke="#333" stroke-width="1"/>
<text x="623.3" y="245" font-size="11" text-anchor="middle">80</text>
<line x1="648.5" y1="229.5" x2="648.5" y2="232.0" stroke="#333" stroke-width="1"/>
<line x1="674.5" y1="229.5" x2="674.5" y2="233.5" stroke="#333" stroke-width="1"/>
<text x="674.5" y="245" font-size="11" text-anchor="middle">100</text>
<text x="517" y="266.5" font-size="12.6" text-anchor="start">Tim<tspan dx="2.4">e (ps)</tspan></text>
<text x="391.3" y="144.4" font-size="14" text-anchor="middle" transform="rotate(-90 391.3 144.4)">Coordinate Number</text>
<text x="367.9" y="16.5" font-size="21" text-anchor="start">(b)</text>
<line x1="614.3" y1="54.5" x2="640" y2="54.5" stroke="#777" stroke-width="1"/>
<text x="644.2" y="59.2" font-size="13" text-anchor="start">H13</text>
<line x1="614.3" y1="72.5" x2="640" y2="72.5" stroke="#d42020" stroke-width="0.9"/>
<text x="644.2" y="76.8" font-size="13" text-anchor="start">H14</text>
<g><polygon points="52.5,388.1 53.5,389.4 54.5,386.2 55.5,386.3 56.5,384.8 57.5,387.8 58.5,384.8 59.5,385.8 60.5,385.0 61.5,383.2 62.5,383.6 63.5,382.6 64.5,384.8 65.5,384.5 66.5,381.8 67.5,386.6 68.5,386.0 69.5,385.0 70.5,384.8 71.5,384.6 72.5,383.1 73.5,384.4 74.5,386.1 75.5,384.5 76.5,383.1 77.5,385.1 78.5,384.2 79.5,383.4 80.5,383.3 81.5,386.9 82.5,385.9 83.5,384.7 84.5,384.5 85.5,382.6 86.5,384.2 87.5,381.8 88.5,383.4 89.5,386.0 90.5,385.5 91.5,383.5 92.5,385.4 93.5,386.3 94.5,384.3 95.5,384.4 96.5,383.6 97.5,385.3 98.5,381.9 99.5,385.3 100.5,383.2 101.5,386.5 102.5,384.8 103.5,385.4 104.5,385.4 105.5,385.8 106.5,384.6 107.5,383.5 108.5,385.3 109.5,385.1 110.5,407.8 111.5,455.1 112.5,456.9 113.5,452.3 114.5,456.1 115.5,451.7 116.5,457.9 117.5,455.3 118.5,455.3 119.5,456.0 120.5,456.2 121.5,455.4 122.5,453.0 123.5,456.8 124.5,456.5 125.5,456.5 126.5,452.3 127.5,440.6 128.5,427.3 129.5,414.2 130.5,397.4 131.5,386.9 132.5,387.5 133.5,388.0 134.5,385.3 135.5,385.4 136.5,384.9 137.5,386.4 138.5,385.6 139.5,387.6 140.5,383.8 141.5,384.8 142.5,386.1 143.5,387.8 144.5,388.9 145.5,383.0 146.5,384.7 147.5,386.2 148.5,386.4 149.5,386.3 150.5,387.1 151.5,385.1 152.5,387.5 153.5,383.4 154.5,387.6 155.5,385.9 156.5,387.1 157.5,385.7 158.5,385.5 159.5,386.0 160.5,386.9 161.5,387.5 162.5,383.8 163.5,387.7 164.5,385.6 165.5,385.1 166.5,388.4 167.5,384.4 168.5,387.6 169.5,385.0 170.5,385.5 171.5,383.7 172.5,386.0 173.5,386.0 174.5,389.0 175.5,384.4 176.5,384.7 177.5,383.0 178.5,388.2 179.5,387.2 180.5,385.7 181.5,385.3 182.5,386.1 183.5,384.2 184.5,385.4 185.5,382.8 186.5,386.1 187.5,388.4 188.5,387.4 189.5,385.0 190.5,386.0 191.5,384.8 192.5,382.7 193.5,386.1 194.5,386.2 195.5,388.3 196.5,385.6 197.5,382.6 198.5,384.5 199.5,384.1 200.5,386.8 201.5,388.0 202.5,385.9 203.5,386.4 204.5,386.4 205.5,383.6 206.5,388.0 207.5,386.4 208.5,386.7 209.5,386.0 210.5,387.3 211.5,388.0 212.5,383.6 213.5,382.9 214.5,385.2 215.5,386.1 216.5,386.5 217.5,385.3 218.5,382.3 219.5,387.1 220.5,386.7 221.5,387.1 222.5,385.3 223.5,386.9 224.5,384.8 225.5,382.9 226.5,389.1 227.5,384.8 228.5,385.4 229.5,385.5 230.5,385.9 231.5,384.8 232.5,382.1 233.5,383.9 234.5,382.4 235.5,382.8 236.5,383.3 237.5,386.7 238.5,388.1 239.5,387.2 240.5,386.6 241.5,387.3 242.5,386.0 243.5,385.0 244.5,384.9 245.5,387.1 246.5,384.4 247.5,385.8 248.5,385.0 249.5,385.7 250.5,388.3 251.5,385.9 252.5,386.8 253.5,384.7 254.5,383.1 255.5,382.6 256.5,383.7 257.5,389.7 258.5,385.5 259.5,384.1 260.5,385.6 261.5,385.3 262.5,387.7 263.5,384.0 264.5,388.0 265.5,383.1 266.5,384.7 267.5,385.8 268.5,387.0 269.5,387.2 270.5,385.0 271.5,383.5 272.5,383.2 273.5,385.9 274.5,380.6 275.5,387.2 276.5,384.8 277.5,386.2 278.5,386.3 279.5,385.3 280.5,384.3 281.5,383.6 282.5,385.8 283.5,386.1 284.5,384.1 285.5,383.9 286.5,385.2 287.5,385.6 288.5,383.8 289.5,387.1 290.5,385.4 291.5,382.5 292.5,383.9 293.5,385.2 294.5,384.9 295.5,385.8 296.5,386.0 297.5,384.4 298.5,386.2 299.5,383.9 300.5,385.1 301.5,386.4 302.5,384.7 303.5,384.9 304.5,385.7 305.5,386.1 306.5,385.4 307.5,388.4 307.5,400.1 306.5,397.0 305.5,397.7 304.5,396.2 303.5,398.7 302.5,398.3 301.5,397.5 300.5,398.8 299.5,398.4 298.5,397.9 297.5,401.0 296.5,395.5 295.5,397.7 294.5,398.5 293.5,400.0 292.5,398.0 291.5,395.4 290.5,396.9 289.5,398.3 288.5,396.5 287.5,397.5 286.5,398.0 285.5,396.5 284.5,397.3 283.5,396.9 282.5,398.1 281.5,398.0 280.5,396.7 279.5,398.2 278.5,399.3 277.5,398.3 276.5,397.5 275.5,398.5 274.5,400.0 273.5,398.6 272.5,399.1 271.5,399.4 270.5,395.4 269.5,397.2 268.5,399.1 267.5,397.7 266.5,396.6 265.5,398.7 264.5,397.2 263.5,396.3 262.5,401.7 261.5,397.1 260.5,396.8 259.5,399.4 258.5,397.4 257.5,401.5 256.5,396.8 255.5,400.4 254.5,397.5 253.5,397.0 252.5,403.2 251.5,398.0 250.5,400.2 249.5,396.0 248.5,398.2 247.5,394.4 246.5,398.7 245.5,398.9 244.5,396.2 243.5,398.2 242.5,399.3 241.5,400.4 240.5,399.3 239.5,399.4 238.5,400.3 237.5,398.8 236.5,397.2 235.5,397.5 234.5,397.2 233.5,395.6 232.5,397.4 231.5,398.3 230.5,397.9 229.5,399.0 228.5,399.1 227.5,398.3 226.5,399.6 225.5,397.9 224.5,400.8 223.5,398.8 222.5,397.1 221.5,397.3 220.5,398.0 219.5,399.9 218.5,396.7 217.5,396.5 216.5,395.3 215.5,397.4 214.5,396.6 213.5,395.3 212.5,396.8 211.5,397.8 210.5,398.2 209.5,399.9 208.5,400.2 207.5,397.9 206.5,396.9 205.5,398.3 204.5,397.5 203.5,400.1 202.5,397.7 201.5,397.3 200.5,397.5 199.5,394.5 198.5,397.6 197.5,395.6 196.5,398.3 195.5,398.3 194.5,398.4 193.5,398.2 192.5,397.9 191.5,398.0 190.5,398.2 189.5,399.0 188.5,396.9 187.5,396.4 186.5,400.5 185.5,396.0 184.5,398.9 183.5,397.6 182.5,397.8 181.5,397.7 180.5,398.0 179.5,398.9 178.5,400.9 177.5,396.1 176.5,398.8 175.5,396.5 174.5,398.3 173.5,400.4 172.5,397.7 171.5,397.5 170.5,396.8 169.5,393.9 168.5,398.7 167.5,397.9 166.5,399.6 165.5,394.5 164.5,397.7 163.5,397.5 162.5,399.1 161.5,398.5 160.5,398.5 159.5,395.2 158.5,397.0 157.5,402.2 156.5,395.2 155.5,397.6 154.5,397.2 153.5,398.4 152.5,400.4 151.5,396.7 150.5,397.8 149.5,396.6 148.5,397.1 147.5,396.6 146.5,398.2 145.5,397.9 144.5,400.4 143.5,395.4 142.5,398.1 141.5,396.0 140.5,397.2 139.5,396.6 138.5,396.8 137.5,399.4 136.5,395.3 135.5,397.9 134.5,397.0 133.5,396.4 132.5,399.9 131.5,400.6 130.5,416.9 129.5,427.8 128.5,443.5 127.5,457.7 126.5,470.3 125.5,470.5 124.5,474.0 123.5,471.0 122.5,474.5 121.5,471.8 120.5,471.0 119.5,470.4 118.5,469.9 117.5,471.8 116.5,473.3 115.5,472.4 114.5,470.0 113.5,473.4 112.5,473.3 111.5,471.1 110.5,446.1 109.5,398.0 108.5,395.3 107.5,398.7 106.5,396.4 105.5,396.8 104.5,395.5 103.5,396.8 102.5,396.7 101.5,396.3 100.5,395.4 99.5,394.9 98.5,395.8 97.5,394.9 96.5,393.5 95.5,393.8 94.5,395.3 93.5,397.2 92.5,397.0 91.5,395.3 90.5,398.1 89.5,395.5 88.5,398.2 87.5,394.3 86.5,397.0 85.5,395.6 84.5,392.2 83.5,397.3 82.5,395.8 81.5,394.9 80.5,393.6 79.5,395.3 78.5,395.3 77.5,395.5 76.5,396.0 75.5,397.8 74.5,395.5 73.5,395.3 72.5,395.3 71.5,395.6 70.5,397.6 69.5,397.8 68.5,396.3 67.5,397.0 66.5,395.5 65.5,393.7 64.5,394.6 63.5,393.8 62.5,394.6 61.5,396.2 60.5,395.3 59.5,397.9 58.5,398.2 57.5,397.6 56.5,397.8 55.5,398.9 54.5,400.7 53.5,401.9 52.5,401.0" fill="#3da02a" stroke="none"/><polyline points="52.60,376.3 52.90,407.3 53.10,408.3 53.40,383.0 53.60,388.0 53.90,407.2 54.10,402.4 54.40,385.9 54.60,377.1 54.90,405.2 55.10,401.8 55.40,381.6 55.60,379.5 55.90,402.2 56.10,400.9 56.40,379.8 56.60,382.8 56.90,400.5 57.10,404.1 57.40,386.5 57.60,380.6 57.90,398.1 58.10,399.0 58.40,381.5 58.60,383.5 58.90,403.5 59.10,401.3 59.40,375.8 59.60,383.6 59.90,406.1 60.10,404.3 60.40,379.3 60.60,382.4 60.90,399.3 61.10,397.5 61.40,380.8 61.60,382.9 61.90,398.5 62.10,393.8 62.40,376.2 62.60,379.8 62.90,400.6 63.10,394.1 63.40,381.3 63.60,381.3 63.90,395.8 64.10,409.6 64.40,381.1 64.60,377.5 64.90,401.7 65.10,396.4 65.40,384.4 65.60,376.9 65.90,400.6 66.10,397.5 66.40,381.4 66.60,376.0 66.90,401.1 67.10,399.5 67.40,382.9 67.60,381.0 67.90,402.1 68.10,398.3 68.40,384.5 68.60,381.4 68.90,399.5 69.10,407.3 69.40,384.9 69.60,380.1 69.90,396.1 70.10,400.0 70.40,379.2 70.60,383.3 70.90,401.9 71.10,398.0 71.40,384.1 71.60,378.7 71.90,397.9 72.10,406.6 72.40,379.3 72.60,380.2 72.90,396.5 73.10,396.1 73.40,381.2 73.60,378.5 73.90,404.4 74.10,401.6 74.40,383.4 74.60,382.3 74.90,401.2 75.10,440.4 75.40,380.7 75.60,383.6 75.90,400.9 76.10,396.6 76.40,381.1 76.60,380.7 76.90,400.4 77.10,398.5 77.40,380.9 77.60,379.4 77.90,399.2 78.10,396.6 78.40,381.0 78.60,380.9 78.90,400.1 79.10,399.1 79.40,377.5 79.60,378.7 79.90,397.1 80.10,397.3 80.40,380.0 80.60,377.5 80.90,396.7 81.10,399.6 81.40,384.6 81.60,383.7 81.90,395.6 82.10,399.4 82.40,378.6 82.60,382.9 82.90,395.7 83.10,400.7 83.40,383.2 83.60,383.5 83.90,401.4 84.10,393.4 84.40,381.1 84.60,382.1 84.90,401.9 85.10,397.1 85.40,378.4 85.60,379.3 85.90,459.3 86.10,398.8 86.40,382.5 86.60,381.7 86.90,400.9 87.10,395.6 87.40,376.5 87.60,379.1 87.90,400.4 88.10,404.1 88.40,377.5 88.60,375.4 88.90,399.8 89.10,396.3 89.40,378.6 89.60,384.4 89.90,397.6 90.10,398.4 90.40,379.2 90.60,380.9 90.90,401.9 91.10,400.1 91.40,378.9 91.60,379.6 91.90,397.6 92.10,398.7 92.40,379.5 92.60,378.8 92.90,398.5 93.10,402.7 93.40,380.0 93.60,382.5 93.90,399.5 94.10,400.3 94.40,371.5 94.60,382.5 94.90,398.3 95.10,401.4 95.40,381.9 95.60,377.3 95.90,394.1 96.10,393.7 96.40,383.0 96.60,382.1 96.90,403.2 97.10,400.3 97.40,386.5 97.60,375.9 97.90,394.2 98.10,401.6 98.40,377.8 98.60,381.5 98.90,397.5 99.10,397.3 99.40,381.5 99.60,376.8 99.90,404.4 100.10,394.0 100.40,379.7 100.60,383.3 100.90,403.3 101.10,397.8 101.40,383.2 101.60,379.8 101.90,402.4 102.10,402.0 102.40,378.3 102.60,381.1 102.90,400.7 103.10,398.8 103.40,379.3 103.60,379.7 103.90,402.4 104.10,403.4 104.40,376.9 104.60,382.3 104.90,398.8 105.10,399.0 105.40,382.0 105.60,379.6 105.90,403.3 106.10,399.6 106.40,380.8 106.60,378.8 106.90,399.1 107.10,399.3 107.40,381.8 107.60,381.9 107.90,460.2 108.10,398.9 108.40,383.9 108.60,382.9 108.90,397.9 109.10,399.1 109.40,380.3 109.60,382.0 109.90,403.8 110.10,428.2 110.40,397.7 110.60,424.4 110.90,453.6 111.10,478.5 111.40,439.9 111.60,451.0 111.90,474.1 112.10,478.1 112.40,448.8 112.60,452.5 112.90,477.0 113.10,481.0 113.40,443.4 113.60,445.4 113.90,478.8 114.10,473.9 114.40,449.2 114.60,451.5 114.90,476.4 115.10,483.0 115.40,445.9 115.60,436.4 115.90,477.0 116.10,482.6 116.40,447.6 116.60,451.5 116.90,479.8 117.10,478.3 117.40,454.4 117.60,445.8 117.90,473.3 118.10,478.8 118.40,452.9 118.60,442.6 118.90,477.6 119.10,473.0 119.40,455.3 119.60,452.1 119.90,477.8 120.10,470.0 120.40,449.9 120.60,458.6 120.90,478.9 121.10,474.6 121.40,453.8 121.60,450.7 121.90,478.7 122.10,475.1 122.40,446.2 122.60,451.1 122.90,480.6 123.10,476.8 123.40,452.1 123.60,453.2 123.90,474.5 124.10,474.4 124.40,449.5 124.60,453.7 124.90,477.5 125.10,482.4 125.40,449.9 125.60,454.2 125.90,471.7 126.10,478.6 126.40,446.7 126.60,448.7 126.90,469.3 127.10,461.5 127.40,440.9 127.60,433.7 127.90,457.8 128.10,449.2 128.40,427.3 128.60,418.1 128.90,444.0 129.10,433.0 129.40,414.1 129.60,408.7 129.90,428.5 130.10,422.3 130.40,399.2 130.60,392.4 130.90,411.1 131.10,404.1 131.40,386.5 131.60,382.3 131.90,402.0 132.10,405.6 132.40,385.3 132.60,384.5 132.90,399.3 133.10,400.5 133.40,382.4 133.60,379.5 133.90,400.9 134.10,404.8 134.40,384.4 134.60,381.0 134.90,398.7 135.10,402.6 135.40,379.6 135.60,384.0 135.90,402.0 136.10,398.2 136.40,381.9 136.60,376.7 136.90,396.9 137.10,398.3 137.40,384.2 137.60,390.3 137.90,438.2 138.10,404.0 138.40,378.5 138.60,383.1 138.90,402.0 139.10,408.1 139.40,382.6 139.60,378.0 139.90,403.5 140.10,402.4 140.40,380.7 140.60,388.0 140.90,400.4 141.10,399.8 141.40,382.7 141.60,383.4 141.90,400.9 142.10,397.7 142.40,382.8 142.60,383.0 142.90,403.5 143.10,403.8 143.40,386.2 143.60,386.4 143.90,401.0 144.10,401.9 144.40,384.3 144.60,387.0 144.90,407.9 145.10,401.3 145.40,378.9 145.60,378.6 145.90,402.3 146.10,402.0 146.40,381.5 146.60,380.6 146.90,399.3 147.10,399.8 147.40,382.1 147.60,381.2 147.90,399.3 148.10,400.7 148.40,380.8 148.60,383.3 148.90,400.2 149.10,398.3 149.40,382.5 149.60,380.9 149.90,399.2 150.10,404.3 150.40,384.7 150.60,375.7 150.90,398.9 151.10,400.1 151.40,387.0 151.60,377.7 151.90,398.8 152.10,406.7 152.40,386.9 152.60,380.8 152.90,405.6 153.10,399.5 153.40,378.8 153.60,378.4 153.90,400.7 154.10,401.2 154.40,385.2 154.60,384.2 154.90,399.4 155.10,400.2 155.40,377.9 155.60,382.8 155.90,400.3 156.10,398.3 156.40,384.4 156.60,380.9 156.90,395.9 157.10,475.8 157.40,382.6 157.60,381.0 157.90,404.4 158.10,401.2 158.40,383.4 158.60,385.1 158.90,396.9 159.10,397.0 159.40,383.0 159.60,385.1 159.90,396.7 160.10,398.9 160.40,384.9 160.60,383.0 160.90,481.2 161.10,400.2 161.40,387.3 161.60,381.5 161.90,401.5 162.10,432.0 162.40,377.5 162.60,383.7 162.90,403.5 163.10,404.4 163.40,384.7 163.60,385.0 163.90,403.3 164.10,401.7 164.40,382.3 164.60,384.2 164.90,405.8 165.10,397.0 165.40,380.9 165.60,383.1 165.90,395.1 166.10,406.4 166.40,383.4 166.60,387.3 166.90,401.3 167.10,469.8 167.40,383.4 167.60,379.5 167.90,406.4 168.10,401.3 168.40,385.3 168.60,382.1 168.90,398.6 169.10,400.5 169.40,383.3 169.60,382.7 169.90,401.0 170.10,396.6 170.40,378.9 170.60,382.2 170.90,408.5 171.10,464.9 171.40,381.0 171.60,378.7 171.90,403.0 172.10,398.0 172.40,382.2 172.60,383.4 172.90,404.8 173.10,401.5 173.40,383.3 173.60,378.9 173.90,406.8 174.10,402.0 174.40,387.7 174.60,383.3 174.90,406.4 175.10,398.0 175.40,381.4 175.60,381.4 175.90,406.4 176.10,402.1 176.40,380.6 176.60,384.4 176.90,399.0 177.10,401.8 177.40,380.0 177.60,380.1 177.90,403.4 178.10,453.4 178.40,383.4 178.60,383.6 178.90,453.4 179.10,405.7 179.40,372.7 179.60,383.7 179.90,400.3 180.10,402.5 180.40,383.3 180.60,384.2 180.90,403.7 181.10,398.8 181.40,382.5 181.60,375.0 181.90,404.3 182.10,398.9 182.40,383.3 182.60,383.7 182.90,400.7 183.10,397.7 183.40,379.5 183.60,383.8 183.90,400.6 184.10,403.0 184.40,384.1 184.60,381.3 184.90,403.9 185.10,398.5 185.40,379.3 185.60,381.6 185.90,397.9 186.10,401.6 186.40,380.9 186.60,386.1 186.90,402.2 187.10,400.2 187.40,381.5 187.60,384.8 187.90,399.6 188.10,399.4 188.40,379.3 188.60,380.7 188.90,397.6 189.10,401.3 189.40,380.0 189.60,383.9 189.90,403.1 190.10,398.7 190.40,379.2 190.60,384.3 190.90,403.8 191.10,407.8 191.40,380.8 191.60,380.5 191.90,402.1 192.10,404.4 192.40,380.5 192.60,380.0 192.90,399.2 193.10,403.8 193.40,382.8 193.60,381.5 193.90,404.8 194.10,402.8 194.40,383.2 194.60,382.4 194.90,400.5 195.10,404.4 195.40,382.1 195.60,387.1 195.90,400.1 196.10,403.1 196.40,382.2 196.60,382.8 196.90,402.1 197.10,396.5 197.40,379.4 197.60,379.4 197.90,398.1 198.10,402.9 198.40,377.0 198.60,378.6 198.90,400.6 199.10,401.1 199.40,376.0 199.60,384.0 199.90,397.9 200.10,401.2 200.40,382.9 200.60,386.7 200.90,399.2 201.10,401.5 201.40,383.1 201.60,385.4 201.90,404.6 202.10,402.2 202.40,381.2 202.60,380.4 202.90,403.4 203.10,402.2 203.40,383.4 203.60,384.1 203.90,401.8 204.10,400.0 204.40,383.7 204.60,385.4 204.90,402.8 205.10,399.5 205.40,382.0 205.60,377.4 205.90,402.3 206.10,404.3 206.40,383.8 206.60,379.8 206.90,400.6 207.10,398.5 207.40,383.5 207.60,381.8 207.90,402.9 208.10,406.4 208.40,381.6 208.60,380.5 208.90,401.9 209.10,402.8 209.40,381.7 209.60,386.5 209.90,401.9 210.10,400.5 210.40,385.0 210.60,382.5 210.90,403.0 211.10,408.5 211.40,378.9 211.60,386.3 211.90,403.6 212.10,397.7 212.40,381.7 212.60,374.4 212.90,403.3 213.10,398.7 213.40,381.3 213.60,380.7 213.90,399.2 214.10,398.4 214.40,377.6 214.60,382.6 214.90,402.1 215.10,402.6 215.40,381.5 215.60,381.9 215.90,403.7 216.10,395.8 216.40,379.7 216.60,382.1 216.90,405.4 217.10,398.2 217.40,382.9 217.60,381.4 217.90,400.3 218.10,402.1 218.40,381.8 218.60,377.6 218.90,401.4 219.10,404.5 219.40,380.0 219.60,387.4 219.90,404.5 220.10,402.5 220.40,382.5 220.60,383.2 220.90,400.9 221.10,396.4 221.40,381.1 221.60,387.9 221.90,402.0 222.10,401.9 222.40,383.9 222.60,375.5 222.90,401.0 223.10,403.0 223.40,378.3 223.60,384.6 223.90,403.5 224.10,404.0 224.40,383.6 224.60,383.1 224.90,406.4 225.10,402.9 225.40,377.8 225.60,384.4 225.90,402.2 226.10,445.4 226.40,385.5 226.60,386.0 226.90,451.1 227.10,400.7 227.40,380.0 227.60,385.1 227.90,400.5 228.10,405.3 228.40,382.4 228.60,381.8 228.90,400.6 229.10,399.3 229.40,379.4 229.60,385.0 229.90,404.0 230.10,401.4 230.40,383.4 230.60,382.5 230.90,398.8 231.10,399.7 231.40,382.5 231.60,383.1 231.90,449.2 232.10,404.2 232.40,380.6 232.60,377.8 232.90,403.3 233.10,403.8 233.40,378.8 233.60,381.9 233.90,399.1 234.10,404.5 234.40,378.2 234.60,376.7 234.90,399.5 235.10,403.6 235.40,376.2 235.60,382.1 235.90,403.4 236.10,398.6 236.40,382.2 236.60,378.4 236.90,402.4 237.10,403.8 237.40,381.7 237.60,382.0 237.90,433.0 238.10,401.7 238.40,382.7 238.60,387.1 238.90,449.3 239.10,402.8 239.40,381.7 239.60,384.9 239.90,401.7 240.10,400.2 240.40,384.4 240.60,383.9 240.90,402.9 241.10,409.0 241.40,377.2 241.60,386.3 241.90,402.0 242.10,403.5 242.40,383.7 242.60,381.2 242.90,400.9 243.10,398.6 243.40,380.0 243.60,382.7 243.90,405.5 244.10,402.7 244.40,384.8 244.60,377.5 244.90,396.5 245.10,405.0 245.40,381.5 245.60,380.4 245.90,399.6 246.10,401.5 246.40,378.2 246.60,380.4 246.90,402.2 247.10,396.7 247.40,380.9 247.60,385.4 247.90,396.3 248.10,407.2 248.40,378.2 248.60,378.8 248.90,402.4 249.10,447.3 249.40,379.1 249.60,385.7 249.90,399.7 250.10,407.7 250.40,386.0 250.60,384.6 250.90,408.0 251.10,401.3 251.40,385.3 251.60,382.6 251.90,400.4 252.10,406.0 252.40,385.6 252.60,378.5 252.90,400.6 253.10,398.3 253.40,381.5 253.60,380.9 253.90,402.5 254.10,476.2 254.40,376.1 254.60,380.4 254.90,400.0 255.10,403.5 255.40,377.5 255.60,376.7 255.90,403.6 256.10,402.2 256.40,380.0 256.60,380.4 256.90,404.0 257.10,404.7 257.40,386.8 257.60,386.0 257.90,397.3 258.10,399.8 258.40,376.4 258.60,384.7 258.90,406.0 259.10,403.2 259.40,380.7 259.60,380.5 259.90,401.6 260.10,397.7 260.40,376.8 260.60,385.9 260.90,400.5 261.10,397.8 261.40,380.9 261.60,382.6 261.90,401.5 262.10,401.0 262.40,382.4 262.60,382.9 262.90,405.0 263.10,402.0 263.40,380.6 263.60,375.3 263.90,397.5 264.10,410.1 264.40,383.3 264.60,387.8 264.90,405.7 265.10,405.4 265.40,381.7 265.60,379.5 265.90,399.7 266.10,396.5 266.40,380.7 266.60,383.0 266.90,399.4 267.10,399.8 267.40,379.3 267.60,377.4 267.90,402.8 268.10,401.5 268.40,380.6 268.60,384.1 268.90,407.4 269.10,398.3 269.40,383.5 269.60,384.4 269.90,398.9 270.10,401.4 270.40,381.8 270.60,380.0 270.90,400.7 271.10,402.4 271.40,377.0 271.60,378.7 271.90,408.0 272.10,399.7 272.40,380.2 272.60,377.6 272.90,409.3 273.10,401.1 273.40,380.6 273.60,384.1 273.90,403.0 274.10,402.4 274.40,377.8 274.60,379.1 274.90,406.7 275.10,405.8 275.40,385.5 275.60,383.8 275.90,402.9 276.10,403.8 276.40,384.6 276.60,380.7 276.90,400.4 277.10,403.0 277.40,382.6 277.60,383.4 277.90,397.2 278.10,401.9 278.40,380.3 278.60,383.7 278.90,400.3 279.10,399.9 279.40,381.1 279.60,381.9 279.90,401.5 280.10,399.5 280.40,380.5 280.60,380.3 280.90,402.1 281.10,404.3 281.40,379.8 281.60,376.6 281.90,399.1 282.10,402.0 282.40,384.8 282.60,379.4 282.90,398.6 283.10,398.0 283.40,379.1 283.60,376.8 283.90,403.7 284.10,401.1 284.40,381.7 284.60,378.2 284.90,398.7 285.10,401.9 285.40,378.8 285.60,378.9 285.90,403.0 286.10,401.4 286.40,376.2 286.60,382.9 286.90,398.5 287.10,405.6 287.40,382.2 287.60,378.2 287.90,400.8 288.10,399.4 288.40,373.2 288.60,377.5 288.90,399.0 289.10,401.3 289.40,384.2 289.60,383.3 289.90,398.9 290.10,402.7 290.40,375.1 290.60,382.6 290.90,400.0 291.10,401.7 291.40,378.3 291.60,381.9 291.90,401.0 292.10,398.2 292.40,379.7 292.60,380.7 292.90,401.5 293.10,404.3 293.40,379.6 293.60,380.7 293.90,398.5 294.10,401.2 294.40,384.9 294.60,377.5 294.90,402.7 295.10,399.9 295.40,384.1 295.60,381.2 295.90,396.2 296.10,396.5 296.40,382.2 296.60,381.0 296.90,399.3 297.10,405.0 297.40,378.3 297.60,384.1 297.90,403.0 298.10,398.6 298.40,382.2 298.60,383.5 298.90,403.5 299.10,409.3 299.40,382.3 299.60,377.9 299.90,403.0 300.10,402.5 300.40,381.5 300.60,380.6 300.90,404.3 301.10,400.7 301.40,380.5 301.60,378.9 301.90,403.5 302.10,408.4 302.40,381.2 302.60,383.2 302.90,400.1 303.10,403.6 303.40,380.0 303.60,381.1 303.90,402.1 304.10,399.9 304.40,382.9 304.60,384.4 304.90,399.0 305.10,398.3 305.40,380.1 305.60,383.2 305.90,405.0 306.10,399.8 306.40,384.9 306.60,381.9 306.90,398.2 307.10,406.7 307.40,386.3 307.60,392.6 307.90,392.6" fill="none" stroke="#3da02a" stroke-width="0.55" stroke-opacity="1" stroke-linejoin="miter" stroke-miterlimit="1"/><polygon points="52.5,452.2 53.5,451.9 54.5,451.3 55.5,450.4 56.5,450.1 57.5,449.9 58.5,449.2 59.5,452.0 60.5,453.7 61.5,376.3 62.5,371.0 63.5,371.3 64.5,370.2 65.5,369.8 66.5,370.9 67.5,370.3 68.5,371.8 69.5,370.4 70.5,372.0 71.5,372.8 72.5,370.9 73.5,370.4 74.5,371.5 75.5,369.9 76.5,368.5 77.5,371.3 78.5,370.7 79.5,367.4 80.5,373.1 81.5,374.2 82.5,370.1 83.5,370.8 84.5,369.1 85.5,371.6 86.5,370.6 87.5,369.4 88.5,370.7 89.5,371.1 90.5,372.3 91.5,371.8 92.5,373.1 93.5,371.2 94.5,370.2 95.5,370.0 96.5,372.9 97.5,371.6 98.5,370.8 99.5,369.0 100.5,372.7 101.5,373.3 102.5,368.2 103.5,371.0 104.5,370.0 105.5,371.0 106.5,370.6 107.5,369.8 108.5,370.8 109.5,371.0 110.5,372.7 111.5,369.4 112.5,373.1 113.5,375.1 114.5,376.4 115.5,378.9 116.5,379.2 117.5,375.9 118.5,378.2 119.5,378.7 120.5,376.0 121.5,377.6 122.5,379.4 123.5,378.5 124.5,376.9 125.5,376.7 126.5,375.5 127.5,379.3 128.5,377.1 129.5,376.5 130.5,380.8 131.5,378.5 132.5,371.6 133.5,371.4 134.5,369.8 135.5,369.9 136.5,368.9 137.5,372.0 138.5,367.2 139.5,371.2 140.5,371.8 141.5,371.4 142.5,369.3 143.5,370.0 144.5,370.5 145.5,369.3 146.5,371.2 147.5,372.2 148.5,370.4 149.5,368.6 150.5,371.2 151.5,368.7 152.5,369.6 153.5,372.0 154.5,371.8 155.5,368.8 156.5,371.1 157.5,371.2 158.5,373.4 159.5,372.1 160.5,369.2 161.5,371.1 162.5,371.5 163.5,370.4 164.5,368.8 165.5,370.1 166.5,371.9 167.5,371.6 168.5,372.4 169.5,367.4 170.5,369.9 171.5,370.6 172.5,368.5 173.5,373.1 174.5,370.1 175.5,371.9 176.5,369.4 177.5,370.7 178.5,372.0 179.5,369.5 180.5,370.6 181.5,368.8 182.5,369.9 183.5,367.4 184.5,368.7 185.5,371.9 186.5,372.8 187.5,368.4 188.5,374.2 189.5,369.7 190.5,372.4 191.5,370.0 192.5,372.4 193.5,370.2 194.5,369.6 195.5,371.5 196.5,372.1 197.5,370.7 198.5,373.3 199.5,369.6 200.5,370.9 201.5,369.3 202.5,372.6 203.5,371.9 204.5,370.8 205.5,370.4 206.5,367.2 207.5,371.7 208.5,369.4 209.5,369.9 210.5,370.3 211.5,369.8 212.5,372.5 213.5,368.8 214.5,371.5 215.5,370.9 216.5,368.8 217.5,371.7 218.5,368.7 219.5,369.9 220.5,366.3 221.5,368.2 222.5,369.2 223.5,369.8 224.5,368.6 225.5,373.2 226.5,371.5 227.5,370.9 228.5,371.3 229.5,371.2 230.5,369.5 231.5,373.2 232.5,369.1 233.5,371.5 234.5,370.3 235.5,369.0 236.5,371.1 237.5,368.3 238.5,370.5 239.5,369.2 240.5,368.8 241.5,373.4 242.5,370.3 243.5,370.5 244.5,369.9 245.5,372.3 246.5,369.4 247.5,371.0 248.5,371.8 249.5,370.1 250.5,369.7 251.5,369.6 252.5,371.8 253.5,372.5 254.5,371.6 255.5,373.0 256.5,417.6 257.5,450.8 258.5,450.8 259.5,450.3 260.5,448.7 261.5,446.7 262.5,451.3 263.5,450.5 264.5,450.6 265.5,451.2 266.5,449.0 267.5,449.5 268.5,446.8 269.5,447.6 270.5,447.7 271.5,450.2 272.5,447.8 273.5,447.5 274.5,448.1 275.5,451.1 276.5,450.6 277.5,448.5 278.5,448.4 279.5,447.9 280.5,451.9 281.5,449.4 282.5,451.2 283.5,451.1 284.5,447.2 285.5,451.4 286.5,451.6 287.5,450.6 288.5,450.1 289.5,451.3 290.5,453.0 291.5,449.2 292.5,448.9 293.5,432.6 294.5,373.3 295.5,372.6 296.5,367.7 297.5,370.2 298.5,370.9 299.5,370.6 300.5,370.1 301.5,372.7 302.5,367.6 303.5,370.1 304.5,371.0 305.5,370.5 306.5,369.8 307.5,370.2 307.5,381.0 306.5,385.1 305.5,383.8 304.5,384.3 303.5,381.0 302.5,385.4 301.5,382.1 300.5,381.0 299.5,382.2 298.5,383.8 297.5,383.9 296.5,383.2 295.5,383.3 294.5,417.3 293.5,461.9 292.5,461.0 291.5,461.0 290.5,465.2 289.5,463.9 288.5,465.2 287.5,462.4 286.5,461.5 285.5,464.4 284.5,460.8 283.5,462.5 282.5,462.6 281.5,461.2 280.5,462.1 279.5,462.9 278.5,462.1 277.5,461.9 276.5,463.1 275.5,462.2 274.5,462.4 273.5,460.6 272.5,458.8 271.5,461.4 270.5,461.0 269.5,462.3 268.5,463.4 267.5,464.1 266.5,465.8 265.5,463.9 264.5,460.5 263.5,462.4 262.5,461.6 261.5,461.4 260.5,462.5 259.5,459.1 258.5,461.7 257.5,462.4 256.5,465.4 255.5,387.2 254.5,385.2 253.5,384.8 252.5,383.2 251.5,384.0 250.5,381.7 249.5,383.2 248.5,383.0 247.5,382.9 246.5,385.1 245.5,388.8 244.5,382.1 243.5,382.1 242.5,381.8 241.5,384.3 240.5,384.3 239.5,384.5 238.5,381.3 237.5,383.4 236.5,384.7 235.5,382.0 234.5,383.0 233.5,381.9 232.5,382.0 231.5,383.3 230.5,382.8 229.5,383.3 228.5,383.6 227.5,385.8 226.5,382.6 225.5,385.6 224.5,381.1 223.5,385.6 222.5,382.3 221.5,380.7 220.5,383.6 219.5,383.8 218.5,381.3 217.5,385.9 216.5,382.2 215.5,381.9 214.5,381.8 213.5,383.5 212.5,384.0 211.5,381.7 210.5,383.8 209.5,382.2 208.5,382.3 207.5,385.0 206.5,379.8 205.5,382.6 204.5,384.8 203.5,385.1 202.5,382.3 201.5,381.6 200.5,382.4 199.5,383.7 198.5,382.5 197.5,382.7 196.5,381.8 195.5,383.5 194.5,385.2 193.5,383.6 192.5,384.6 191.5,382.2 190.5,383.3 189.5,383.2 188.5,384.7 187.5,386.0 186.5,384.6 185.5,381.4 184.5,381.8 183.5,383.2 182.5,381.3 181.5,383.7 180.5,383.6 179.5,385.0 178.5,383.5 177.5,384.6 176.5,380.8 175.5,382.5 174.5,382.6 173.5,384.5 172.5,379.9 171.5,381.1 170.5,380.8 169.5,382.2 168.5,381.9 167.5,388.6 166.5,384.8 165.5,383.1 164.5,384.6 163.5,383.9 162.5,383.5 161.5,383.0 160.5,380.5 159.5,382.6 158.5,384.7 157.5,383.7 156.5,382.4 155.5,382.2 154.5,382.2 153.5,383.5 152.5,384.8 151.5,380.5 150.5,384.9 149.5,380.7 148.5,383.8 147.5,382.8 146.5,385.3 145.5,381.4 144.5,384.5 143.5,381.6 142.5,382.3 141.5,382.8 140.5,384.1 139.5,382.5 138.5,381.7 137.5,382.3 136.5,380.1 135.5,382.3 134.5,382.3 133.5,384.4 132.5,382.6 131.5,388.9 130.5,393.5 129.5,391.5 128.5,390.7 127.5,392.2 126.5,387.9 125.5,390.3 124.5,389.9 123.5,389.5 122.5,390.2 121.5,390.0 120.5,390.4 119.5,392.7 118.5,392.4 117.5,388.6 116.5,391.7 115.5,392.0 114.5,389.0 113.5,387.1 112.5,384.2 111.5,381.1 110.5,382.2 109.5,386.5 108.5,383.0 107.5,383.2 106.5,384.5 105.5,385.7 104.5,384.3 103.5,382.9 102.5,380.7 101.5,383.9 100.5,384.1 99.5,381.0 98.5,383.2 97.5,383.7 96.5,384.4 95.5,385.0 94.5,383.6 93.5,384.3 92.5,382.3 91.5,383.5 90.5,382.8 89.5,385.3 88.5,382.5 87.5,382.1 86.5,381.7 85.5,382.3 84.5,380.9 83.5,382.3 82.5,379.7 81.5,383.2 80.5,381.9 79.5,383.8 78.5,382.8 77.5,383.9 76.5,380.0 75.5,386.8 74.5,385.0 73.5,385.3 72.5,383.8 71.5,385.5 70.5,380.9 69.5,383.3 68.5,382.6 67.5,382.9 66.5,384.3 65.5,382.7 64.5,382.7 63.5,381.8 62.5,385.1 61.5,426.3 60.5,467.9 59.5,463.1 58.5,461.4 57.5,460.8 56.5,463.6 55.5,461.3 54.5,464.9 53.5,462.5 52.5,463.2" fill="#f0854a" stroke="none"/><polyline points="52.60,448.0 52.90,465.4 53.10,468.0 53.40,450.5 53.60,447.3 53.90,462.3 54.10,471.0 54.40,444.8 54.60,450.4 54.90,462.4 55.10,472.9 55.40,442.5 55.60,447.2 55.90,462.2 56.10,473.4 56.40,448.1 56.60,448.2 56.90,467.8 57.10,465.2 57.40,442.5 57.60,445.9 57.90,466.3 58.10,464.5 58.40,443.4 58.60,440.5 58.90,466.7 59.10,463.8 59.40,450.2 59.60,446.6 59.90,463.2 60.10,472.9 60.40,446.7 60.60,450.4 60.90,474.4 61.10,459.6 61.40,372.4 61.60,365.6 61.90,384.5 62.10,389.6 62.40,365.8 62.60,366.5 62.90,388.3 63.10,384.4 63.40,360.7 63.60,368.5 63.90,385.1 64.10,390.4 64.40,365.8 64.60,364.7 64.90,389.5 65.10,384.6 65.40,361.8 65.60,367.9 65.90,389.9 66.10,385.9 66.40,368.1 66.60,367.4 66.90,390.2 67.10,393.6 67.40,366.4 67.60,366.0 67.90,386.7 68.10,395.0 68.40,369.5 68.60,369.4 68.90,390.4 69.10,387.4 69.40,365.5 69.60,366.3 69.90,388.5 70.10,386.9 70.40,362.2 70.60,371.5 70.90,386.7 71.10,388.7 71.40,372.2 71.60,365.7 71.90,387.4 72.10,384.8 72.40,368.8 72.60,363.9 72.90,386.7 73.10,389.6 73.40,364.4 73.60,364.3 73.90,387.4 74.10,392.4 74.40,366.0 74.60,364.8 74.90,386.9 75.10,387.6 75.40,368.8 75.60,367.5 75.90,399.8 76.10,379.5 76.40,366.2 76.60,357.2 76.90,391.0 77.10,388.8 77.40,369.4 77.60,366.1 77.90,389.5 78.10,387.4 78.40,362.0 78.60,368.0 78.90,383.5 79.10,385.6 79.40,360.7 79.60,364.3 79.90,387.6 80.10,388.4 80.40,368.4 80.60,369.0 80.90,383.0 81.10,389.2 81.40,368.2 81.60,368.7 81.90,391.3 82.10,384.7 82.40,365.2 82.60,365.7 82.90,384.4 83.10,387.1 83.40,364.4 83.60,364.2 83.90,388.4 84.10,382.1 84.40,363.7 84.60,367.1 84.90,385.3 85.10,387.8 85.40,371.0 85.60,368.1 85.90,385.3 86.10,384.5 86.40,365.3 86.60,369.9 86.90,387.6 87.10,382.2 87.40,363.3 87.60,364.9 87.90,417.8 88.10,387.3 88.40,368.7 88.60,366.1 88.90,384.4 89.10,386.6 89.40,370.7 89.60,368.3 89.90,387.3 90.10,384.8 90.40,370.6 90.60,369.4 90.90,386.3 91.10,473.9 91.40,362.7 91.60,367.6 91.90,391.9 92.10,387.1 92.40,369.4 92.60,368.2 92.90,386.5 93.10,388.2 93.40,363.2 93.60,369.2 93.90,385.6 94.10,388.9 94.40,368.3 94.60,363.8 94.90,389.9 95.10,388.6 95.40,367.8 95.60,364.0 95.90,392.7 96.10,392.0 96.40,367.7 96.60,371.4 96.90,391.3 97.10,385.9 97.40,365.9 97.60,372.2 97.90,389.1 98.10,386.3 98.40,365.0 98.60,368.5 98.90,387.5 99.10,389.9 99.40,367.2 99.60,365.8 99.90,387.3 100.10,390.8 100.40,368.2 100.60,369.8 100.90,392.3 101.10,386.2 101.40,373.3 101.60,363.3 101.90,392.5 102.10,389.8 102.40,359.8 102.60,364.2 102.90,382.8 103.10,388.5 103.40,361.4 103.60,365.8 103.90,385.8 104.10,389.4 104.40,364.6 104.60,369.4 104.90,387.2 105.10,451.3 105.40,369.7 105.60,368.2 105.90,390.2 106.10,385.1 106.40,368.6 106.60,370.6 106.90,389.5 107.10,385.8 107.40,368.5 107.60,358.1 107.90,388.5 108.10,385.3 108.40,361.7 108.60,370.7 108.90,387.1 109.10,391.4 109.40,366.5 109.60,370.3 109.90,388.7 110.10,387.8 110.40,368.2 110.60,370.0 110.90,385.4 111.10,448.6 111.40,364.3 111.60,368.6 111.90,386.7 112.10,389.8 112.40,369.8 112.60,363.4 112.90,385.5 113.10,389.2 113.40,368.0 113.60,373.4 113.90,390.1 114.10,393.2 114.40,374.6 114.60,374.9 114.90,396.4 115.10,393.1 115.40,377.3 115.60,375.2 115.90,394.1 116.10,395.0 116.40,375.4 116.60,379.0 116.90,397.0 117.10,447.6 117.40,374.9 117.60,372.6 117.90,389.1 118.10,433.3 118.40,377.5 118.60,375.0 118.90,393.7 119.10,392.4 119.40,372.6 119.60,376.6 119.90,401.5 120.10,397.5 120.40,372.4 120.60,375.1 120.90,394.7 121.10,391.5 121.40,371.9 121.60,374.9 121.90,391.9 122.10,395.1 122.40,375.8 122.60,371.4 122.90,438.1 123.10,395.0 123.40,372.1 123.60,376.5 123.90,389.2 124.10,395.2 124.40,373.9 124.60,372.5 124.90,393.1 125.10,395.3 125.40,373.8 125.60,373.4 125.90,390.5 126.10,399.4 126.40,374.7 126.60,373.3 126.90,389.9 127.10,473.3 127.40,378.5 127.60,374.5 127.90,394.0 128.10,396.4 128.40,375.1 128.60,368.5 128.90,392.1 129.10,405.1 129.40,374.0 129.60,372.8 129.90,395.4 130.10,392.7 130.40,379.3 130.60,378.1 130.90,411.4 131.10,395.3 131.40,373.1 131.60,370.0 131.90,393.1 132.10,383.5 132.40,363.6 132.60,369.5 132.90,389.3 133.10,392.6 133.40,366.9 133.60,372.4 133.90,389.8 134.10,394.6 134.40,359.3 134.60,366.2 134.90,386.9 135.10,393.9 135.40,372.2 135.60,364.7 135.90,384.4 136.10,385.3 136.40,368.4 136.60,361.8 136.90,386.2 137.10,383.5 137.40,361.9 137.60,370.7 137.90,385.9 138.10,384.9 138.40,364.3 138.60,365.7 138.90,386.1 139.10,383.9 139.40,366.9 139.60,370.3 139.90,387.8 140.10,388.2 140.40,367.0 140.60,365.6 140.90,389.0 141.10,385.3 141.40,368.3 141.60,365.6 141.90,392.9 142.10,387.6 142.40,366.8 142.60,363.0 142.90,384.8 143.10,383.2 143.40,369.2 143.60,368.6 143.90,385.6 144.10,388.6 144.40,368.7 144.60,367.0 144.90,385.0 145.10,384.5 145.40,362.1 145.60,368.5 145.90,384.6 146.10,388.5 146.40,364.9 146.60,367.1 146.90,387.5 147.10,385.9 147.40,366.9 147.60,366.8 147.90,388.9 148.10,388.0 148.40,367.1 148.60,366.6 148.90,389.5 149.10,383.5 149.40,359.9 149.60,360.7 149.90,384.1 150.10,386.6 150.40,369.8 150.60,367.9 150.90,390.7 151.10,383.1 151.40,360.9 151.60,363.3 151.90,381.4 152.10,386.9 152.40,369.2 152.60,361.8 152.90,387.2 153.10,386.6 153.40,373.9 153.60,365.7 153.90,385.9 154.10,383.7 154.40,369.0 154.60,369.6 154.90,384.9 155.10,382.2 155.40,364.1 155.60,367.6 155.90,392.8 156.10,387.1 156.40,371.6 156.60,362.8 156.90,383.6 157.10,385.5 157.40,365.1 157.60,370.3 157.90,385.6 158.10,385.1 158.40,367.2 158.60,363.5 158.90,392.2 159.10,386.1 159.40,368.4 159.60,369.4 159.90,385.6 160.10,384.4 160.40,366.4 160.60,365.0 160.90,386.4 161.10,391.0 161.40,366.8 161.60,361.9 161.90,383.7 162.10,392.3 162.40,369.1 162.60,366.7 162.90,391.9 163.10,388.4 163.40,365.5 163.60,368.4 163.90,387.7 164.10,388.4 164.40,366.4 164.60,365.0 164.90,385.4 165.10,390.9 165.40,364.7 165.60,366.1 165.90,386.6 166.10,391.4 166.40,365.6 166.60,364.7 166.90,386.4 167.10,395.7 167.40,370.2 167.60,366.8 167.90,382.9 168.10,387.9 168.40,371.5 168.60,369.6 168.90,386.8 169.10,388.3 169.40,362.9 169.60,365.6 169.90,384.3 170.10,386.9 170.40,362.2 170.60,367.6 170.90,392.2 171.10,382.5 171.40,364.5 171.60,370.7 171.90,387.1 172.10,382.2 172.40,360.0 172.60,362.3 172.90,382.2 173.10,387.5 173.40,366.7 173.60,364.6 173.90,386.5 174.10,418.1 174.40,364.5 174.60,364.8 174.90,385.5 175.10,385.0 175.40,367.5 175.60,366.6 175.90,389.9 176.10,389.0 176.40,365.6 176.60,365.3 176.90,383.0 177.10,396.2 177.40,366.6 177.60,365.3 177.90,385.8 178.10,384.5 178.40,367.8 178.60,368.0 178.90,386.8 179.10,384.1 179.40,365.9 179.60,368.8 179.90,392.6 180.10,389.0 180.40,370.2 180.60,364.8 180.90,388.0 181.10,386.0 181.40,365.0 181.60,365.5 181.90,386.0 182.10,382.2 182.40,364.3 182.60,368.3 182.90,384.1 183.10,387.0 183.40,362.7 183.60,368.5 183.90,388.3 184.10,384.4 184.40,365.0 184.60,365.7 184.90,393.0 185.10,384.9 185.40,367.2 185.60,372.1 185.90,390.5 186.10,389.0 186.40,371.9 186.60,371.8 186.90,384.8 187.10,389.7 187.40,373.3 187.60,360.3 187.90,388.8 188.10,395.9 188.40,370.7 188.60,371.2 188.90,386.4 189.10,387.1 189.40,364.3 189.60,367.3 189.90,387.8 190.10,384.6 190.40,371.2 190.60,367.6 190.90,396.3 191.10,385.7 191.40,365.5 191.60,366.1 191.90,383.0 192.10,386.4 192.40,370.1 192.60,371.2 192.90,413.7 193.10,459.9 193.40,370.0 193.60,360.5 193.90,383.8 194.10,390.2 194.40,364.1 194.60,357.4 194.90,393.2 195.10,387.5 195.40,368.9 195.60,368.1 195.90,387.7 196.10,383.8 196.40,367.2 196.60,369.0 196.90,436.2 197.10,389.3 197.40,361.6 197.60,367.5 197.90,382.7 198.10,386.4 198.40,368.3 198.60,366.3 198.90,386.1 199.10,385.7 199.40,366.2 199.60,367.4 199.90,384.5 200.10,442.1 200.40,363.9 200.60,364.0 200.90,384.6 201.10,384.5 201.40,362.1 201.60,366.0 201.90,391.2 202.10,388.7 202.40,368.7 202.60,362.2 202.90,383.7 203.10,390.2 203.40,369.3 203.60,364.2 203.90,389.3 204.10,389.2 204.40,364.4 204.60,370.1 204.90,390.2 205.10,384.9 205.40,363.7 205.60,364.1 205.90,389.0 206.10,382.7 206.40,359.1 206.60,367.0 206.90,379.8 207.10,385.1 207.40,369.8 207.60,370.4 207.90,394.3 208.10,385.7 208.40,364.9 208.60,368.6 208.90,383.8 209.10,382.7 209.40,369.7 209.60,365.4 209.90,388.3 210.10,385.0 210.40,367.8 210.60,366.3 210.90,384.4 211.10,382.0 211.40,363.4 211.60,368.5 211.90,386.6 212.10,386.4 212.40,370.0 212.60,365.8 212.90,386.9 213.10,386.3 213.40,363.7 213.60,367.7 213.90,388.2 214.10,386.2 214.40,368.1 214.60,366.9 214.90,384.0 215.10,389.2 215.40,365.2 215.60,369.6 215.90,390.3 216.10,384.9 216.40,362.6 216.60,364.5 216.90,384.2 217.10,467.7 217.40,367.1 217.60,368.9 217.90,467.7 218.10,381.6 218.40,368.7 218.60,364.1 218.90,385.4 219.10,388.3 219.40,367.4 219.60,363.6 219.90,386.2 220.10,387.4 220.40,354.7 220.60,359.7 220.90,386.3 221.10,397.1 221.40,361.9 221.60,358.5 221.90,383.3 222.10,384.8 222.40,362.9 222.60,362.9 222.90,389.9 223.10,391.4 223.40,366.0 223.60,361.2 223.90,386.7 224.10,389.4 224.40,367.8 224.60,363.8 224.90,382.5 225.10,387.4 225.40,370.5 225.60,364.1 225.90,391.7 226.10,384.5 226.40,370.2 226.60,364.1 226.90,385.2 227.10,390.3 227.40,363.1 227.60,364.4 227.90,388.4 228.10,386.0 228.40,369.6 228.60,368.5 228.90,459.6 229.10,390.3 229.40,366.4 229.60,363.1 229.90,435.1 230.10,389.4 230.40,368.2 230.60,366.7 230.90,385.4 231.10,390.7 231.40,365.8 231.60,371.6 231.90,389.8 232.10,385.9 232.40,360.2 232.60,367.0 232.90,384.0 233.10,382.8 233.40,369.1 233.60,368.2 233.90,384.3 234.10,383.8 234.40,364.8 234.60,365.9 234.90,386.2 235.10,389.8 235.40,365.8 235.60,362.7 235.90,388.7 236.10,469.8 236.40,360.4 236.60,365.5 236.90,386.1 237.10,388.3 237.40,364.7 237.60,363.8 237.90,385.6 238.10,383.2 238.40,366.7 238.60,360.5 238.90,386.2 239.10,387.5 239.40,365.1 239.60,361.8 239.90,388.1 240.10,395.1 240.40,365.9 240.60,364.7 240.90,385.3 241.10,397.3 241.40,370.1 241.60,368.2 241.90,388.4 242.10,384.2 242.40,362.6 242.60,365.1 242.90,390.5 243.10,387.4 243.40,364.6 243.60,364.5 243.90,385.0 244.10,388.0 244.40,367.3 244.60,366.7 244.90,392.3 245.10,391.6 245.40,364.8 245.60,368.7 245.90,391.0 246.10,387.9 246.40,362.7 246.60,369.0 246.90,391.3 247.10,390.4 247.40,370.4 247.60,357.2 247.90,382.7 248.10,388.3 248.40,367.7 248.60,368.8 248.90,382.8 249.10,388.0 249.40,367.0 249.60,361.2 249.90,384.2 250.10,385.4 250.40,363.6 250.60,367.7 250.90,386.6 251.10,395.0 251.40,363.5 251.60,367.5 251.90,387.5 252.10,384.0 252.40,366.5 252.60,367.9 252.90,392.4 253.10,390.0 253.40,365.9 253.60,371.6 253.90,385.8 254.10,390.0 254.40,365.0 254.60,367.7 254.90,389.0 255.10,387.3 255.40,370.3 255.60,366.2 255.90,404.9 256.10,453.4 256.40,396.6 256.60,449.1 256.90,470.1 257.10,465.3 257.40,446.2 257.60,442.3 257.90,463.5 258.10,474.4 258.40,445.2 258.60,446.3 258.90,469.8 259.10,473.5 259.40,445.1 259.60,448.2 259.90,463.1 260.10,470.7 260.40,445.6 260.60,446.3 260.90,465.9 261.10,469.8 261.40,445.0 261.60,444.4 261.90,467.4 262.10,466.5 262.40,446.7 262.60,447.1 262.90,468.7 263.10,466.3 263.40,450.4 263.60,443.2 263.90,464.7 264.10,465.4 264.40,448.0 264.60,444.1 264.90,467.4 265.10,465.2 265.40,445.4 265.60,449.7 265.90,467.8 266.10,470.0 266.40,447.6 266.60,445.6 266.90,469.9 267.10,468.7 267.40,446.9 267.60,441.7 267.90,465.3 268.10,466.3 268.40,439.4 268.60,435.6 268.90,467.6 269.10,465.2 269.40,449.9 269.60,439.8 269.90,465.0 270.10,461.6 270.40,447.7 270.60,442.6 270.90,467.8 271.10,466.2 271.40,445.3 271.60,450.2 271.90,464.8 272.10,461.1 272.40,446.3 272.60,438.9 272.90,465.1 273.10,461.2 273.40,444.4 273.60,445.7 273.90,470.9 274.10,471.0 274.40,442.0 274.60,447.7 274.90,468.6 275.10,467.3 275.40,446.9 275.60,449.8 275.90,468.9 276.10,471.7 276.40,449.5 276.60,443.6 276.90,465.9 277.10,467.9 277.40,440.9 277.60,438.7 277.90,464.5 278.10,466.6 278.40,445.2 278.60,441.4 278.90,469.3 279.10,460.8 279.40,440.3 279.60,446.8 279.90,466.1 280.10,464.8 280.40,452.1 280.60,447.0 280.90,466.7 281.10,466.3 281.40,445.2 281.60,447.3 281.90,466.2 282.10,464.0 282.40,447.8 282.60,445.9 282.90,469.8 283.10,462.7 283.40,448.2 283.60,446.5 283.90,471.2 284.10,466.1 284.40,444.4 284.60,444.2 284.90,466.4 285.10,471.1 285.40,448.5 285.60,445.6 285.90,469.2 286.10,464.9 286.40,449.5 286.60,442.6 286.90,466.3 287.10,468.4 287.40,445.4 287.60,446.6 287.90,465.3 288.10,469.7 288.40,440.5 288.60,446.3 288.90,474.1 289.10,466.2 289.40,447.4 289.60,451.2 289.90,469.4 290.10,465.3 290.40,450.7 290.60,449.0 290.90,468.3 291.10,467.5 291.40,445.1 291.60,445.9 291.90,466.5 292.10,467.5 292.40,440.5 292.60,440.4 292.90,468.0 293.10,467.0 293.40,445.4 293.60,424.7 293.90,459.5 294.10,419.9 294.40,389.4 294.60,371.6 294.90,400.8 295.10,383.2 295.40,364.8 295.60,369.8 295.90,393.8 296.10,387.0 296.40,362.2 296.60,359.9 296.90,384.3 297.10,388.6 297.40,366.0 297.60,369.2 297.90,389.8 298.10,386.7 298.40,363.7 298.60,368.6 298.90,387.3 299.10,388.0 299.40,367.9 299.60,365.0 299.90,390.6 300.10,383.2 300.40,366.5 300.60,368.9 300.90,387.8 301.10,383.2 301.40,369.4 301.60,367.1 301.90,392.2 302.10,390.4 302.40,364.4 302.60,364.1 302.90,390.1 303.10,381.5 303.40,364.6 303.60,365.6 303.90,388.6 304.10,389.8 304.40,363.5 304.60,369.1 304.90,387.6 305.10,386.9 305.40,370.5 305.60,366.4 305.90,387.6 306.10,387.3 306.40,366.9 306.60,362.8 306.90,392.8 307.10,390.5 307.40,362.8 307.60,378.7 307.90,378.7" fill="none" stroke="#f0854a" stroke-width="0.55" stroke-opacity="1" stroke-linejoin="miter" stroke-miterlimit="1"/></g>
<rect x="52.5" y="310.5" width="256.0" height="188.0" fill="none" stroke="#333" stroke-width="1"/>
<line x1="48.0" y1="310.5" x2="52.5" y2="310.5" stroke="#333" stroke-width="1"/>
<text x="45.7" y="313.3" font-size="11.5" text-anchor="end">-0.4</text>
<line x1="50.0" y1="341.5" x2="52.5" y2="341.5" stroke="#333" stroke-width="1"/>
<line x1="48.0" y1="373.5" x2="52.5" y2="373.5" stroke="#333" stroke-width="1"/>
<text x="45.7" y="375.9666666666667" font-size="11.5" text-anchor="end">-0.6</text>
<line x1="50.0" y1="404.5" x2="52.5" y2="404.5" stroke="#333" stroke-width="1"/>
<line x1="48.0" y1="435.5" x2="52.5" y2="435.5" stroke="#333" stroke-width="1"/>
<text x="45.7" y="438.6333333333333" font-size="11.5" text-anchor="end">-0.8</text>
<line x1="50.0" y1="467.5" x2="52.5" y2="467.5" stroke="#333" stroke-width="1"/>
<line x1="48.0" y1="498.5" x2="52.5" y2="498.5" stroke="#333" stroke-width="1"/>
<text x="45.7" y="501.3" font-size="11.5" text-anchor="end">-1.0</text>
<line x1="52.5" y1="498.5" x2="52.5" y2="502.5" stroke="#333" stroke-width="1"/>
<text x="52.5" y="512.8" font-size="11.5" text-anchor="middle">0</text>
<line x1="78.5" y1="498.5" x2="78.5" y2="501.0" stroke="#333" stroke-width="1"/>
<line x1="103.5" y1="498.5" x2="103.5" y2="502.5" stroke="#333" stroke-width="1"/>
<text x="103.7" y="512.8" font-size="11.5" text-anchor="middle">20</text>
<line x1="129.5" y1="498.5" x2="129.5" y2="501.0" stroke="#333" stroke-width="1"/>
<line x1="154.5" y1="498.5" x2="154.5" y2="502.5" stroke="#333" stroke-width="1"/>
<text x="154.9" y="512.8" font-size="11.5" text-anchor="middle">40</text>
<line x1="180.5" y1="498.5" x2="180.5" y2="501.0" stroke="#333" stroke-width="1"/>
<line x1="206.5" y1="498.5" x2="206.5" y2="502.5" stroke="#333" stroke-width="1"/>
<text x="206.1" y="512.8" font-size="11.5" text-anchor="middle">60</text>
<line x1="231.5" y1="498.5" x2="231.5" y2="501.0" stroke="#333" stroke-width="1"/>
<line x1="257.5" y1="498.5" x2="257.5" y2="502.5" stroke="#333" stroke-width="1"/>
<text x="257.3" y="512.8" font-size="11.5" text-anchor="middle">80</text>
<line x1="282.5" y1="498.5" x2="282.5" y2="501.0" stroke="#333" stroke-width="1"/>
<line x1="308.5" y1="498.5" x2="308.5" y2="502.5" stroke="#333" stroke-width="1"/>
<text x="308.5" y="512.8" font-size="11.5" text-anchor="middle">100</text>
<text x="151" y="530.8" font-size="12.6" text-anchor="start">Tim<tspan dx="2.4">e (ps)</tspan></text>
<text x="12.2" y="413.2" font-size="14" text-anchor="middle" transform="rotate(-90 12.2 413.2)">Mulliken Charge (e)</text>
<text x="2.6" y="303.9" font-size="21" text-anchor="start">(c1)</text>
<g><polyline points="418.32,378.7 418.68,396.9 418.92,396.7 419.28,380.3 419.52,380.1 419.88,393.9 420.12,398.3 420.48,380.4 420.72,379.8 421.08,397.1 421.32,396.1 421.68,378.1 421.92,376.5 422.28,397.0 422.52,391.2 422.88,378.5 423.12,375.8 423.48,394.3 423.72,398.4 424.08,379.2 424.32,380.7 424.68,392.7 424.92,411.3 425.28,378.1 425.52,378.5 425.88,395.2 426.12,394.3 426.48,379.3 426.72,379.5 427.08,398.9 427.32,422.3 427.68,380.3 427.92,378.1 428.28,422.7 428.52,398.5 428.88,380.2 429.12,381.6 429.48,395.7 429.72,413.8 430.08,378.7 430.32,379.5 430.68,393.6 430.92,393.4 431.28,379.4 431.52,379.5 431.88,424.3 432.12,393.0 432.48,378.6 432.72,379.4 433.08,400.8 433.32,396.0 433.68,380.6 433.92,380.5 434.28,396.9 434.52,394.9 434.88,381.1 435.12,381.5 435.48,399.3 435.72,418.3 436.08,377.1 436.32,380.0 436.68,399.0 436.92,397.7 437.28,375.9 437.52,380.6 437.88,397.2 438.12,393.6 438.48,379.2 438.72,379.8 439.08,398.0 439.32,395.3 439.68,381.9 439.92,381.8 440.28,394.1 440.52,396.7 440.88,379.9 441.12,378.0 441.48,395.4 441.72,398.9 442.08,383.8 442.32,378.4 442.68,403.9 442.92,397.6 443.28,380.9 443.52,378.5 443.88,395.3 444.12,395.8 444.48,381.2 444.72,381.3 445.08,398.1 445.32,396.1 445.68,381.6 445.92,380.2 446.28,399.5 446.52,395.0 446.88,380.4 447.12,380.0 447.48,394.4 447.72,406.8 448.08,381.1 448.32,383.4 448.68,417.2 448.92,397.2 449.28,377.8 449.52,383.4 449.88,398.6 450.12,406.6 450.48,381.6 450.72,379.8 451.08,396.0 451.32,396.0 451.68,379.9 451.92,383.5 452.28,399.3 452.52,398.5 452.88,382.2 453.12,379.5 453.48,393.9 453.72,396.1 454.08,377.7 454.32,381.8 454.68,422.3 454.92,415.2 455.28,380.9 455.52,379.1 455.88,394.3 456.12,408.6 456.48,378.9 456.72,381.7 457.08,401.5 457.32,395.6 457.68,380.0 457.92,381.0 458.28,396.6 458.52,399.0 458.88,381.5 459.12,382.9 459.48,403.4 459.72,396.9 460.08,382.7 460.32,379.7 460.68,396.7 460.92,407.2 461.28,381.0 461.52,381.5 461.88,414.2 462.12,418.9 462.48,377.7 462.72,378.5 463.08,405.1 463.32,398.5 463.68,382.0 463.92,380.3 464.28,397.4 464.52,400.1 464.88,382.0 465.12,380.0 465.48,410.4 465.72,399.6 466.08,379.5 466.32,382.3 466.68,397.1 466.92,396.5 467.28,379.4 467.52,383.8 467.88,417.3 468.12,398.0 468.48,381.9 468.72,381.2 469.08,400.4 469.32,395.1 469.68,379.9 469.92,379.8 470.28,406.0 470.52,398.2 470.88,383.7 471.12,378.2 471.48,401.3 471.72,397.8 472.08,382.6 472.32,379.2 472.68,417.5 472.92,403.8 473.28,383.5 473.52,382.7 473.88,423.7 474.12,405.1 474.48,379.9 474.72,382.4 475.08,397.1 475.32,403.1 475.68,380.1 475.92,381.6 476.28,397.1 476.52,408.2 476.88,379.0 477.12,380.8 477.48,399.8 477.72,403.0 478.08,380.6 478.32,381.3 478.68,397.2 478.92,394.9 479.28,380.5 479.52,381.5 479.88,395.5 480.12,398.1 480.48,385.9 480.72,387.7 481.08,405.8 481.32,423.4 481.68,392.5 481.92,397.1 482.28,416.3 482.52,415.9 482.88,402.4 483.12,398.7 483.48,411.6 483.72,417.9 484.08,400.4 484.32,400.5 484.68,422.0 484.92,416.4 485.28,399.8 485.52,402.1 485.88,419.8 486.12,413.1 486.48,402.3 486.72,399.5 487.08,415.1 487.32,415.3 487.68,403.7 487.92,402.4 488.28,421.4 488.52,418.2 488.88,403.0 489.12,399.9 489.48,416.7 489.72,421.8 490.08,402.9 490.32,401.1 490.68,425.7 490.92,415.6 491.28,402.3 491.52,402.5 491.88,420.1 492.12,417.8 492.48,400.9 492.72,401.8 493.08,418.1 493.32,419.0 493.68,404.5 493.92,405.7 494.28,419.8 494.52,421.7 494.88,408.3 495.12,408.9 495.48,423.3 495.72,468.4 496.08,409.1 496.32,407.7 496.68,425.5 496.92,426.7 497.28,408.8 497.52,413.1 497.88,426.0 498.12,426.3 498.48,411.8 498.72,410.9 499.08,461.4 499.32,428.0 499.68,413.8 499.92,411.3 500.28,428.3 500.52,431.8 500.88,412.5 501.12,409.1 501.48,430.3 501.72,430.8 502.08,409.3 502.32,412.4 502.68,427.7 502.92,431.7 503.28,414.2 503.52,412.4 503.88,427.9 504.12,445.9 504.48,417.7 504.72,420.5 505.08,437.5 505.32,442.2 505.68,422.6 505.92,424.7 506.28,437.5 506.52,437.6 506.88,425.4 507.12,429.8 507.48,442.4 507.72,443.4 508.08,425.5 508.32,429.3 508.68,442.6 508.92,443.1 509.28,424.9 509.52,428.6 509.88,444.8 510.12,447.6 510.48,428.1 510.72,430.0 511.08,442.6 511.32,445.0 511.68,429.5 511.92,429.0 512.28,468.1 512.52,442.3 512.88,430.6 513.12,428.3 513.48,448.1 513.72,448.0 514.08,431.7 514.32,428.3 514.68,449.9 514.92,440.3 515.28,425.7 515.52,423.5 515.88,435.4 516.12,438.2 516.48,416.9 516.72,412.3 517.08,428.4 517.32,431.2 517.68,408.7 517.92,402.6 518.28,420.5 518.52,418.1 518.88,402.9 519.12,400.0 519.48,413.4 519.72,412.6 520.08,391.1 520.32,394.3 520.68,411.6 520.92,410.2 521.28,389.7 521.52,389.4 521.88,404.9 522.12,405.5 522.48,386.2 522.72,385.9 523.08,402.5 523.32,400.3 523.68,388.2 523.92,387.0 524.28,405.3 524.52,406.0 524.88,385.1 525.12,386.3 525.48,403.5 525.72,428.4 526.08,385.2 526.32,389.2 526.68,404.4 526.92,404.8 527.28,386.3 527.52,386.7 527.88,406.2 528.12,401.5 528.48,386.0 528.72,390.5 529.08,403.7 529.32,405.1 529.68,389.4 529.92,386.7 530.28,405.6 530.52,406.7 530.88,384.9 531.12,389.0 531.48,401.0 531.72,401.0 532.08,387.6 532.32,388.9 532.68,402.1 532.92,404.9 533.28,390.3 533.52,389.6 533.88,403.2 534.12,400.2 534.48,390.8 534.72,389.0 535.08,403.2 535.32,404.6 535.68,391.9 535.92,391.7 536.28,408.9 536.52,416.1 536.88,398.9 537.12,404.8 537.48,417.8 537.72,421.4 538.08,402.8 538.32,403.1 538.68,427.7 538.92,420.0 539.28,405.5 539.52,404.7 539.88,422.7 540.12,421.8 540.48,405.5 540.72,407.3 541.08,419.8 541.32,422.7 541.68,403.0 541.92,401.4 542.28,417.0 542.52,419.3 542.88,405.6 543.12,404.4 543.48,421.7 543.72,426.8 544.08,405.4 544.32,406.3 544.68,419.8 544.92,420.8 545.28,407.3 545.52,404.7 545.88,422.5 546.12,426.0 546.48,405.8 546.72,404.2 547.08,417.9 547.32,413.1 547.68,399.4 547.92,396.4 548.28,413.6 548.52,413.0 548.88,396.3 549.12,392.5 549.48,410.1 549.72,408.2 550.08,392.7 550.32,395.5 550.68,410.0 550.92,413.2 551.28,396.5 551.52,395.7 551.88,421.2 552.12,410.2 552.48,395.7 552.72,390.1 553.08,411.8 553.32,417.0 553.68,395.7 553.92,396.1 554.28,411.2 554.52,411.2 554.88,392.6 555.12,396.8 555.48,415.9 555.72,418.7 556.08,396.2 556.32,397.1 556.68,414.2 556.92,421.6 557.28,396.6 557.52,396.9 557.88,417.2 558.12,414.5 558.48,398.2 558.72,402.9 559.08,413.9 559.32,422.5 559.68,403.0 559.92,405.8 560.28,425.0 560.52,426.7 560.88,407.3 561.12,408.5 561.48,422.5 561.72,423.2 562.08,407.5 562.32,410.6 562.68,424.7 562.92,423.9 563.28,410.0 563.52,409.2 563.88,427.2 564.12,420.8 564.48,406.8 564.72,408.4 565.08,427.9 565.32,422.7 565.68,408.2 565.92,409.1 566.28,425.0 566.52,425.2 566.88,408.8 567.12,410.5 567.48,425.7 567.72,423.9 568.08,408.1 568.32,410.8 568.68,435.0 568.92,426.5 569.28,408.8 569.52,406.3 569.88,421.9 570.12,425.8 570.48,409.9 570.72,411.0 571.08,426.3 571.32,430.4 571.68,411.3 571.92,412.4 572.28,427.3 572.52,429.6 572.88,414.7 573.12,421.0 573.48,439.5 573.72,445.2 574.08,422.9 574.32,429.1 574.68,445.6 574.92,443.2 575.28,430.7 575.52,430.2 575.88,447.2 576.12,453.1 576.48,430.3 576.72,433.0 577.08,452.3 577.32,450.5 577.68,431.3 577.92,428.7 578.28,452.3 578.52,449.2 578.88,431.9 579.12,429.5 579.48,447.8 579.72,447.1 580.08,431.5 580.32,432.3 580.68,447.5 580.92,444.8 581.28,430.1 581.52,429.3 581.88,449.1 582.12,447.1 582.48,428.1 582.72,426.2 583.08,444.6 583.32,449.6 583.68,430.3 583.92,431.1 584.28,463.7 584.52,446.5 584.88,431.0 585.12,429.8 585.48,446.4 585.72,443.5 586.08,430.0 586.32,431.2 586.68,450.4 586.92,446.5 587.28,430.4 587.52,427.0 587.88,446.1 588.12,445.0 588.48,429.5 588.72,429.3 589.08,443.3 589.32,449.0 589.68,427.5 589.92,429.4 590.28,444.7 590.52,440.6 590.88,430.1 591.12,430.0 591.48,457.3 591.72,455.5 592.08,433.1 592.32,429.4 592.68,443.7 592.92,447.3 593.28,431.7 593.52,429.0 593.88,444.5 594.12,447.7 594.48,430.2 594.72,427.5 595.08,443.8 595.32,444.7 595.68,430.1 595.92,427.9 596.28,441.3 596.52,444.7 596.88,430.3 597.12,429.1 597.48,443.8 597.72,449.6 598.08,430.3 598.32,429.3 598.68,440.9 598.92,444.9 599.28,430.1 599.52,427.6 599.88,451.3 600.12,444.2 600.48,426.3 600.72,428.6 601.08,450.3 601.32,446.5 601.68,428.3 601.92,422.1 602.28,435.9 602.52,436.8 602.88,418.8 603.12,415.2 603.48,432.5 603.72,429.3 604.08,410.8 604.32,409.1 604.68,429.2 604.92,424.5 605.28,413.2 605.52,410.6 605.88,429.0 606.12,434.0 606.48,406.8 606.72,405.5 607.08,422.5 607.32,424.5 607.68,409.9 607.92,407.0 608.28,422.6 608.52,424.7 608.88,405.1 609.12,409.2 609.48,424.4 609.72,422.2 610.08,408.9 610.32,407.0 610.68,422.8 610.92,425.5 611.28,407.7 611.52,403.8 611.88,422.1 612.12,422.3 612.48,404.2 612.72,406.1 613.08,421.5 613.32,424.5 613.68,404.9 613.92,407.5 614.28,419.2 614.52,424.4 614.88,401.8 615.12,406.8 615.48,421.1 615.72,422.8 616.08,404.6 616.32,404.1 616.68,417.0 616.92,418.8 617.28,401.5 617.52,403.7 617.88,423.1 618.12,422.2 618.48,404.7 618.72,405.3 619.08,413.0 619.32,422.3 619.68,404.1 619.92,404.1 620.28,416.9 620.52,417.4 620.88,401.4 621.12,400.0 621.48,425.9 621.72,423.1 622.08,404.3 622.32,401.1 622.68,427.8 622.92,421.1 623.28,403.0 623.52,404.4 623.88,415.0 624.12,418.4 624.48,403.4 624.72,401.2 625.08,418.3 625.32,419.4 625.68,402.3 625.92,403.0 626.28,420.5 626.52,420.6 626.88,404.2 627.12,403.2 627.48,421.3 627.72,425.0 628.08,403.5 628.32,400.7 628.68,424.9 628.92,422.8 629.28,403.2 629.52,405.8 629.88,422.1 630.12,424.0 630.48,402.1 630.72,403.7 631.08,415.4 631.32,424.0 631.68,402.5 631.92,402.8 632.28,420.2 632.52,419.2 632.88,402.4 633.12,400.8 633.48,421.4 633.72,417.7 634.08,402.2 634.32,404.2 634.68,418.1 634.92,415.7 635.28,402.9 635.52,404.0 635.88,421.1 636.12,417.3 636.48,404.3 636.72,401.8 637.08,421.1 637.32,419.6 637.68,403.0 637.92,404.0 638.28,418.6 638.52,422.2 638.88,404.2 639.12,402.3 639.48,423.1 639.72,416.5 640.08,403.7 640.32,402.0 640.68,420.8 640.92,422.6 641.28,405.3 641.52,405.3 641.88,435.3 642.12,420.2 642.48,401.9 642.72,404.5 643.08,425.3 643.32,420.8 643.68,404.5 643.92,402.2 644.28,417.0 644.52,416.4 644.88,403.9 645.12,403.3 645.48,421.8 645.72,422.5 646.08,402.4 646.32,403.4 646.68,420.2 646.92,418.8 647.28,407.1 647.52,401.2 647.88,417.6 648.12,417.7 648.48,401.3 648.72,401.3 649.08,423.3 649.32,418.0 649.68,401.8 649.92,403.9 650.28,419.8 650.52,428.4 650.88,403.5 651.12,404.6 651.48,421.4 651.72,416.3 652.08,399.8 652.32,407.5 652.68,415.2 652.92,423.8 653.28,405.9 653.52,398.4 653.88,418.2 654.12,418.9 654.48,404.3 654.72,405.6 655.08,420.2 655.32,416.1 655.68,400.4 655.92,398.5 656.28,414.6 656.52,408.1 656.88,393.4 657.12,388.3 657.48,405.4 657.72,403.8 658.08,385.7 658.32,386.7 658.68,402.9 658.92,402.2 659.28,383.3 659.52,382.0 659.88,400.6 660.12,405.1 660.48,383.7 660.72,382.9 661.08,399.7 661.32,403.2 661.68,385.6 661.92,384.5 662.28,400.1 662.52,403.4 662.88,381.6 663.12,384.1 663.48,401.4 663.72,396.3 664.08,385.2 664.32,385.4 664.68,404.4 664.92,399.0 665.28,379.7 665.52,382.2 665.88,402.4 666.12,398.8 666.48,384.4 666.72,382.7 667.08,399.8 667.32,398.3 667.68,383.1 667.92,381.4 668.28,402.0 668.52,402.6 668.88,383.7 669.12,381.8 669.48,399.9 669.72,398.3 670.08,381.4 670.32,380.8 670.68,399.1 670.92,395.2 671.28,384.0 671.52,381.6 671.88,402.5 672.12,399.9 672.48,384.2 672.72,383.6 673.08,396.4 673.32,394.9 673.68,381.6 673.92,379.7 674.28,397.3 674.52,397.8 674.88,381.9" fill="none" stroke="#3a8f80" stroke-width="0.75" stroke-opacity="1" stroke-linejoin="miter" stroke-miterlimit="1"/><polygon points="418.5,368.5 419.5,370.9 420.5,371.5 421.5,370.2 422.5,367.5 423.5,369.3 424.5,370.5 425.5,370.9 426.5,370.0 427.5,370.2 428.5,368.5 429.5,370.5 430.5,371.0 431.5,372.2 432.5,371.5 433.5,371.2 434.5,369.9 435.5,369.5 436.5,371.9 437.5,370.7 438.5,368.9 439.5,370.6 440.5,368.2 441.5,370.4 442.5,371.1 443.5,371.1 444.5,370.8 445.5,371.2 446.5,371.0 447.5,369.9 448.5,369.2 449.5,369.3 450.5,368.6 451.5,369.2 452.5,370.4 453.5,371.2 454.5,372.8 455.5,370.2 456.5,369.3 457.5,369.9 458.5,371.0 459.5,370.5 460.5,370.8 461.5,372.6 462.5,369.9 463.5,370.9 464.5,372.6 465.5,369.5 466.5,372.2 467.5,372.0 468.5,370.2 469.5,371.5 470.5,369.4 471.5,370.3 472.5,372.2 473.5,371.0 474.5,372.7 475.5,370.6 476.5,371.8 477.5,371.9 478.5,370.0 479.5,369.6 480.5,374.5 481.5,370.1 482.5,371.8 483.5,373.0 484.5,372.9 485.5,376.6 486.5,378.0 487.5,376.6 488.5,376.2 489.5,377.5 490.5,376.3 491.5,375.7 492.5,375.8 493.5,377.6 494.5,375.8 495.5,376.5 496.5,376.5 497.5,375.1 498.5,376.8 499.5,374.1 500.5,375.1 501.5,375.3 502.5,375.4 503.5,376.4 504.5,379.2 505.5,375.9 506.5,378.0 507.5,380.1 508.5,381.7 509.5,381.2 510.5,380.7 511.5,381.1 512.5,380.0 513.5,379.4 514.5,380.1 515.5,379.2 516.5,375.1 517.5,374.5 518.5,371.0 519.5,371.3 520.5,371.6 521.5,371.2 522.5,371.1 523.5,371.4 524.5,372.4 525.5,372.2 526.5,370.3 527.5,371.5 528.5,373.3 529.5,371.4 530.5,372.0 531.5,372.5 532.5,371.3 533.5,371.1 534.5,372.5 535.5,371.3 536.5,370.7 537.5,372.7 538.5,372.0 539.5,371.7 540.5,370.4 541.5,371.7 542.5,371.2 543.5,372.9 544.5,373.7 545.5,374.2 546.5,372.1 547.5,373.1 548.5,370.6 549.5,373.2 550.5,370.0 551.5,373.3 552.5,373.5 553.5,374.1 554.5,370.8 555.5,371.5 556.5,370.0 557.5,372.5 558.5,373.0 559.5,372.9 560.5,371.3 561.5,373.7 562.5,373.2 563.5,373.4 564.5,372.1 565.5,373.4 566.5,372.6 567.5,372.9 568.5,375.3 569.5,373.8 570.5,371.9 571.5,372.3 572.5,373.8 573.5,374.5 574.5,374.4 575.5,376.5 576.5,376.5 577.5,376.3 578.5,375.9 579.5,379.2 580.5,378.3 581.5,379.0 582.5,381.8 583.5,399.6 584.5,406.8 585.5,406.3 586.5,406.5 587.5,406.2 588.5,403.7 589.5,407.1 590.5,405.3 591.5,405.1 592.5,402.6 593.5,406.7 594.5,404.6 595.5,405.0 596.5,407.8 597.5,408.6 598.5,406.9 599.5,407.1 600.5,405.5 601.5,405.5 602.5,405.5 603.5,407.3 604.5,406.4 605.5,406.2 606.5,405.3 607.5,406.1 608.5,403.8 609.5,404.2 610.5,404.0 611.5,405.4 612.5,405.9 613.5,405.3 614.5,406.9 615.5,405.1 616.5,405.2 617.5,392.4 618.5,378.9 619.5,370.0 620.5,369.7 621.5,368.1 622.5,370.4 623.5,367.1 624.5,367.6 625.5,368.8 626.5,369.9 627.5,369.2 628.5,367.0 629.5,366.4 630.5,367.6 631.5,368.0 632.5,366.6 633.5,368.7 634.5,368.7 635.5,366.3 636.5,366.5 637.5,365.4 638.5,367.8 639.5,367.1 640.5,366.8 641.5,367.9 642.5,367.2 643.5,365.8 644.5,368.2 645.5,367.4 646.5,368.9 647.5,366.9 648.5,366.1 649.5,365.9 650.5,365.3 651.5,364.8 652.5,367.7 653.5,364.1 654.5,365.4 655.5,365.7 656.5,365.4 657.5,367.0 658.5,365.2 659.5,365.9 660.5,366.8 661.5,366.5 662.5,365.4 663.5,363.6 664.5,366.0 665.5,365.2 666.5,367.2 667.5,364.1 668.5,367.0 669.5,366.2 670.5,366.9 671.5,367.8 672.5,366.7 673.5,365.3 674.5,366.1 674.5,373.9 673.5,379.8 672.5,375.2 671.5,374.4 670.5,375.6 669.5,376.2 668.5,374.8 667.5,373.7 666.5,390.5 665.5,376.1 664.5,376.0 663.5,375.3 662.5,376.4 661.5,376.3 660.5,375.5 659.5,375.8 658.5,375.2 657.5,375.4 656.5,374.3 655.5,373.7 654.5,374.6 653.5,376.7 652.5,376.4 651.5,375.5 650.5,376.3 649.5,378.7 648.5,376.2 647.5,376.0 646.5,377.7 645.5,377.2 644.5,376.5 643.5,375.9 642.5,377.8 641.5,377.3 640.5,376.8 639.5,378.1 638.5,376.2 637.5,376.1 636.5,377.2 635.5,376.4 634.5,376.5 633.5,376.6 632.5,377.9 631.5,376.8 630.5,376.5 629.5,376.3 628.5,378.1 627.5,377.6 626.5,378.9 625.5,377.7 624.5,378.5 623.5,376.9 622.5,377.8 621.5,378.4 620.5,378.5 619.5,380.4 618.5,394.5 617.5,407.3 616.5,416.4 615.5,414.3 614.5,415.6 613.5,416.4 612.5,417.3 611.5,414.3 610.5,416.3 609.5,414.9 608.5,416.0 607.5,416.7 606.5,414.6 605.5,417.0 604.5,416.8 603.5,413.3 602.5,415.4 601.5,414.1 600.5,415.0 599.5,414.5 598.5,416.1 597.5,417.8 596.5,416.6 595.5,414.5 594.5,415.8 593.5,416.1 592.5,415.6 591.5,415.2 590.5,416.2 589.5,414.3 588.5,413.6 587.5,413.9 586.5,415.8 585.5,415.0 584.5,416.4 583.5,413.9 582.5,395.1 581.5,388.3 580.5,386.5 579.5,387.2 578.5,387.3 577.5,385.6 576.5,385.6 575.5,385.3 574.5,383.9 573.5,383.1 572.5,380.9 571.5,380.5 570.5,380.6 569.5,382.6 568.5,382.3 567.5,382.5 566.5,383.1 565.5,384.2 564.5,382.5 563.5,381.4 562.5,383.7 561.5,383.3 560.5,383.6 559.5,384.9 558.5,382.0 557.5,383.1 556.5,381.0 555.5,382.3 554.5,380.3 553.5,380.8 552.5,383.5 551.5,380.9 550.5,382.8 549.5,384.1 548.5,380.9 547.5,383.2 546.5,381.6 545.5,382.6 544.5,383.7 543.5,380.7 542.5,380.5 541.5,381.0 540.5,380.9 539.5,381.8 538.5,381.4 537.5,380.5 536.5,381.1 535.5,380.9 534.5,382.4 533.5,381.7 532.5,382.1 531.5,380.9 530.5,380.3 529.5,382.2 528.5,381.9 527.5,378.9 526.5,380.9 525.5,380.5 524.5,381.3 523.5,381.7 522.5,381.0 521.5,381.4 520.5,379.6 519.5,382.8 518.5,382.5 517.5,383.6 516.5,386.3 515.5,387.6 514.5,389.6 513.5,390.0 512.5,390.9 511.5,389.6 510.5,388.4 509.5,390.2 508.5,390.1 507.5,390.0 506.5,389.6 505.5,387.3 504.5,387.2 503.5,387.7 502.5,386.1 501.5,387.5 500.5,384.1 499.5,385.2 498.5,384.6 497.5,384.1 496.5,386.2 495.5,383.6 494.5,384.3 493.5,386.7 492.5,384.2 491.5,384.2 490.5,386.7 489.5,386.0 488.5,384.1 487.5,385.4 486.5,385.3 485.5,384.7 484.5,382.5 483.5,382.6 482.5,380.2 481.5,380.4 480.5,381.2 479.5,381.0 478.5,378.7 477.5,382.7 476.5,381.2 475.5,380.2 474.5,379.5 473.5,380.5 472.5,382.0 471.5,382.0 470.5,380.3 469.5,380.2 468.5,379.3 467.5,381.8 466.5,381.6 465.5,382.8 464.5,380.4 463.5,379.7 462.5,380.3 461.5,378.7 460.5,380.6 459.5,381.4 458.5,380.9 457.5,379.2 456.5,379.5 455.5,378.9 454.5,381.2 453.5,378.9 452.5,380.6 451.5,378.9 450.5,378.7 449.5,379.1 448.5,380.9 447.5,379.3 446.5,379.0 445.5,378.2 444.5,380.5 443.5,380.1 442.5,379.5 441.5,381.3 440.5,378.3 439.5,379.3 438.5,380.9 437.5,378.3 436.5,382.6 435.5,379.8 434.5,378.8 433.5,379.4 432.5,380.2 431.5,379.7 430.5,378.5 429.5,379.8 428.5,380.2 427.5,380.0 426.5,379.6 425.5,381.0 424.5,379.7 423.5,379.7 422.5,378.4 421.5,380.6 420.5,381.6 419.5,380.5 418.5,378.1" fill="#f07aaa" stroke="none"/><polyline points="418.60,367.7 418.90,381.4 419.10,381.1 419.40,368.8 419.60,370.5 419.90,381.0 420.10,378.9 420.40,371.5 420.60,368.8 420.90,384.5 421.10,381.4 421.40,369.7 421.60,367.6 421.90,381.1 422.10,377.4 422.40,363.5 422.60,367.2 422.90,379.4 423.10,383.6 423.40,369.3 423.60,367.3 423.90,381.1 424.10,379.5 424.40,369.7 424.60,368.8 424.90,382.8 425.10,382.1 425.40,366.1 425.60,369.7 425.90,382.6 426.10,380.8 426.40,366.9 426.60,362.5 426.90,379.7 427.10,380.8 427.40,367.4 427.60,371.3 427.90,381.6 428.10,378.4 428.40,368.3 428.60,367.1 428.90,384.9 429.10,381.4 429.40,370.4 429.60,366.7 429.90,383.2 430.10,377.0 430.40,369.0 430.60,370.3 430.90,385.8 431.10,380.4 431.40,371.5 431.60,371.4 431.90,381.7 432.10,382.9 432.40,369.4 432.60,371.0 432.90,381.2 433.10,380.0 433.40,370.1 433.60,369.0 433.90,380.6 434.10,380.5 434.40,370.7 434.60,366.1 434.90,378.3 435.10,380.9 435.40,369.0 435.60,366.5 435.90,381.7 436.10,383.5 436.40,370.2 436.60,371.9 436.90,382.4 437.10,382.2 437.40,369.6 437.60,371.3 437.90,379.0 438.10,381.7 438.40,366.1 438.60,367.6 438.90,382.7 439.10,380.8 439.40,369.5 439.60,370.0 439.90,382.2 440.10,381.8 440.40,364.2 440.60,364.0 440.90,378.1 441.10,384.0 441.40,370.0 441.60,367.5 441.90,382.4 442.10,383.8 442.40,368.5 442.60,370.9 442.90,380.3 443.10,380.5 443.40,368.2 443.60,368.1 443.90,392.1 444.10,381.5 444.40,369.1 444.60,369.9 444.90,382.7 445.10,379.4 445.40,369.4 445.60,370.1 445.90,378.0 446.10,379.8 446.40,371.2 446.60,368.2 446.90,382.3 447.10,380.8 447.40,369.7 447.60,369.6 447.90,380.2 448.10,383.7 448.40,367.8 448.60,370.0 448.90,381.9 449.10,381.6 449.40,368.0 449.60,363.4 449.90,382.6 450.10,384.1 450.40,367.7 450.60,364.2 450.90,380.3 451.10,380.6 451.40,369.0 451.60,366.5 451.90,383.3 452.10,380.6 452.40,368.6 452.60,368.8 452.90,384.0 453.10,380.6 453.40,366.1 453.60,370.4 453.90,378.9 454.10,383.3 454.40,371.7 454.60,370.0 454.90,384.2 455.10,379.9 455.40,368.8 455.60,365.7 455.90,383.4 456.10,380.0 456.40,366.2 456.60,367.0 456.90,381.7 457.10,380.4 457.40,367.3 457.60,368.9 457.90,380.1 458.10,384.1 458.40,371.9 458.60,368.8 458.90,381.9 459.10,385.9 459.40,370.0 459.60,368.4 459.90,384.0 460.10,381.1 460.40,368.4 460.60,371.4 460.90,383.8 461.10,380.6 461.40,370.6 461.60,372.5 461.90,380.0 462.10,382.8 462.40,369.8 462.60,366.6 462.90,383.1 463.10,380.3 463.40,367.9 463.60,370.3 463.90,380.7 464.10,382.8 464.40,370.2 464.60,371.2 464.90,381.5 465.10,384.0 465.40,367.3 465.60,369.0 465.90,402.7 466.10,383.1 466.40,369.2 466.60,371.7 466.90,382.8 467.10,382.3 467.40,369.0 467.60,372.1 467.90,382.8 468.10,379.3 468.40,367.5 468.60,367.6 468.90,381.3 469.10,380.4 469.40,367.9 469.60,369.6 469.90,382.8 470.10,381.6 470.40,368.7 470.60,368.4 470.90,385.2 471.10,383.7 471.40,368.3 471.60,370.5 471.90,382.6 472.10,382.2 472.40,370.1 472.60,371.2 472.90,385.7 473.10,385.9 473.40,371.0 473.60,369.8 473.90,382.1 474.10,380.3 474.40,370.4 474.60,371.8 474.90,385.2 475.10,381.3 475.40,370.5 475.60,369.1 475.90,377.7 476.10,403.9 476.40,371.7 476.60,370.4 476.90,381.5 477.10,384.3 477.40,368.2 477.60,371.0 477.90,383.7 478.10,379.7 478.40,369.8 478.60,367.5 478.90,381.3 479.10,381.1 479.40,369.1 479.60,365.7 479.90,383.0 480.10,384.3 480.40,372.0 480.60,372.6 480.90,384.5 481.10,383.1 481.40,368.8 481.60,368.6 481.90,380.7 482.10,382.3 482.40,368.9 482.60,368.6 482.90,383.5 483.10,382.6 483.40,371.2 483.60,374.1 483.90,385.3 484.10,385.1 484.40,369.0 484.60,372.9 484.90,383.0 485.10,391.2 485.40,375.8 485.60,377.3 485.90,386.2 486.10,388.7 486.40,375.5 486.60,371.1 486.90,384.8 487.10,386.2 487.40,373.3 487.60,374.6 487.90,387.2 488.10,385.2 488.40,376.2 488.60,375.1 488.90,384.5 489.10,386.1 489.40,377.9 489.60,372.9 489.90,388.5 490.10,387.5 490.40,374.0 490.60,374.4 490.90,387.9 491.10,386.8 491.40,372.6 491.60,376.8 491.90,388.2 492.10,383.5 492.40,376.0 492.60,373.7 492.90,386.5 493.10,388.4 493.40,376.1 493.60,377.4 493.90,386.3 494.10,386.6 494.40,374.4 494.60,375.5 494.90,384.3 495.10,385.7 495.40,374.0 495.60,377.2 495.90,384.2 496.10,386.3 496.40,374.8 496.60,370.9 496.90,391.6 497.10,385.5 497.40,373.5 497.60,371.3 497.90,384.1 498.10,387.1 498.40,372.6 498.60,375.5 498.90,384.8 499.10,389.9 499.40,373.2 499.60,371.4 499.90,385.4 500.10,386.8 500.40,370.2 500.60,373.9 500.90,383.0 501.10,386.0 501.40,375.3 501.60,371.8 501.90,396.5 502.10,389.9 502.40,369.1 502.60,375.7 502.90,388.1 503.10,387.4 503.40,373.3 503.60,378.6 503.90,390.3 504.10,387.3 504.40,374.4 504.60,379.3 504.90,393.1 505.10,386.9 505.40,373.7 505.60,378.8 505.90,389.3 506.10,391.6 506.40,373.1 506.60,379.7 506.90,393.6 507.10,393.9 507.40,374.3 507.60,380.1 507.90,393.3 508.10,390.9 508.40,377.9 508.60,381.5 508.90,392.4 509.10,398.5 509.40,381.4 509.60,377.9 509.90,390.2 510.10,390.0 510.40,379.3 510.60,381.1 510.90,389.6 511.10,393.0 511.40,378.9 511.60,380.3 511.90,389.6 512.10,392.3 512.40,380.0 512.60,376.3 512.90,393.7 513.10,394.3 513.40,378.8 513.60,375.3 513.90,389.9 514.10,389.0 514.40,379.1 514.60,379.3 514.90,392.7 515.10,391.7 515.40,379.1 515.60,378.1 515.90,392.7 516.10,388.9 516.40,374.2 516.60,373.7 516.90,398.5 517.10,387.4 517.40,372.7 517.60,374.0 517.90,385.1 518.10,383.3 518.40,373.2 518.60,366.3 518.90,381.5 519.10,381.1 519.40,371.3 519.60,369.8 519.90,403.7 520.10,379.6 520.40,367.0 520.60,370.0 520.90,382.4 521.10,383.6 521.40,369.6 521.60,369.2 521.90,380.0 522.10,383.1 522.40,370.5 522.60,369.1 522.90,384.6 523.10,383.3 523.40,367.7 523.60,372.3 523.90,382.6 524.10,382.5 524.40,369.9 524.60,371.0 524.90,381.4 525.10,381.0 525.40,372.2 525.60,368.5 525.90,381.2 526.10,385.6 526.40,372.8 526.60,367.4 526.90,380.5 527.10,379.8 527.40,366.7 527.60,370.2 527.90,379.9 528.10,381.3 528.40,371.6 528.60,373.3 528.90,385.0 529.10,384.3 529.40,369.0 529.60,370.8 529.90,383.6 530.10,386.1 530.40,369.0 530.60,371.0 530.90,380.4 531.10,382.3 531.40,371.2 531.60,372.3 531.90,383.5 532.10,380.1 532.40,367.6 532.60,371.3 532.90,399.0 533.10,384.8 533.40,370.1 533.60,371.9 533.90,382.8 534.10,384.2 534.40,371.6 534.60,371.9 534.90,381.6 535.10,382.1 535.40,370.1 535.60,366.9 535.90,381.0 536.10,384.1 536.40,369.5 536.60,369.4 536.90,380.6 537.10,380.4 537.40,373.7 537.60,367.1 537.90,383.4 538.10,382.2 538.40,368.5 538.60,372.0 538.90,381.6 539.10,384.4 539.40,370.7 539.60,370.9 539.90,381.9 540.10,381.0 540.40,368.9 540.60,373.4 540.90,385.1 541.10,382.6 541.40,370.3 541.60,371.1 541.90,383.6 542.10,382.2 542.40,371.2 542.60,367.4 542.90,380.6 543.10,384.0 543.40,374.8 543.60,371.4 543.90,380.5 544.10,384.0 544.40,373.0 544.60,372.0 544.90,386.5 545.10,386.8 545.40,370.7 545.60,372.5 545.90,381.8 546.10,386.4 546.40,369.6 546.60,373.8 546.90,380.1 547.10,387.1 547.40,371.2 547.60,371.1 547.90,383.3 548.10,386.5 548.40,365.6 548.60,370.5 548.90,380.9 549.10,385.0 549.40,369.5 549.60,373.1 549.90,384.9 550.10,382.1 550.40,370.2 550.60,367.0 550.90,384.4 551.10,382.6 551.40,373.6 551.60,368.5 551.90,381.0 552.10,384.2 552.40,373.2 552.60,370.3 552.90,384.7 553.10,381.7 553.40,373.9 553.60,369.7 553.90,384.3 554.10,382.1 554.40,369.1 554.60,368.5 554.90,380.1 555.10,383.3 555.40,371.1 555.60,369.5 555.90,382.3 556.10,384.5 556.40,368.8 556.60,368.5 556.90,379.0 557.10,383.1 557.40,370.5 557.60,369.5 557.90,388.8 558.10,383.4 558.40,370.9 558.60,371.7 558.90,382.2 559.10,383.9 559.40,370.3 559.60,374.2 559.90,387.3 560.10,380.5 560.40,368.9 560.60,372.3 560.90,388.7 561.10,384.8 561.40,370.9 561.60,367.0 561.90,383.8 562.10,385.6 562.40,372.4 562.60,371.6 562.90,384.8 563.10,380.4 563.40,372.4 563.60,371.8 563.90,385.5 564.10,385.2 564.40,367.8 564.60,374.0 564.90,385.5 565.10,386.2 565.40,373.3 565.60,371.1 565.90,382.1 566.10,383.2 566.40,370.9 566.60,370.2 566.90,387.3 567.10,382.6 567.40,367.8 567.60,371.8 567.90,386.1 568.10,386.9 568.40,370.6 568.60,376.7 568.90,386.3 569.10,382.7 569.40,371.7 569.60,372.1 569.90,385.2 570.10,380.8 570.40,371.9 570.60,368.2 570.90,381.2 571.10,380.2 571.40,371.8 571.60,369.6 571.90,383.4 572.10,381.5 572.40,370.0 572.60,370.7 572.90,381.1 573.10,383.2 573.40,371.1 573.60,372.0 573.90,385.5 574.10,385.3 574.40,374.9 574.60,372.7 574.90,383.3 575.10,386.3 575.40,373.1 575.60,374.6 575.90,387.0 576.10,386.6 576.40,374.0 576.60,376.7 576.90,385.0 577.10,386.6 577.40,374.0 577.60,374.7 577.90,385.4 578.10,388.6 578.40,373.1 578.60,378.1 578.90,386.9 579.10,387.4 579.40,377.7 579.60,379.6 579.90,390.2 580.10,386.6 580.40,376.1 580.60,375.5 580.90,390.5 581.10,388.7 581.40,376.7 581.60,376.6 581.90,389.3 582.10,390.1 582.40,380.4 582.60,384.6 582.90,399.9 583.10,410.9 583.40,393.9 583.60,401.8 583.90,416.5 584.10,414.1 584.40,406.3 584.60,406.3 584.90,419.1 585.10,415.6 585.40,405.9 585.60,404.7 585.90,418.4 586.10,418.5 586.40,402.3 586.60,406.7 586.90,415.0 587.10,415.3 587.40,405.6 587.60,402.2 587.90,417.6 588.10,415.2 588.40,399.2 588.60,403.2 588.90,415.1 589.10,415.8 589.40,405.6 589.60,406.0 589.90,414.6 590.10,417.6 590.40,404.3 590.60,405.3 590.90,417.1 591.10,415.5 591.40,401.3 591.60,405.1 591.90,418.1 592.10,418.9 592.40,402.5 592.60,400.3 592.90,419.5 593.10,417.4 593.40,402.6 593.60,406.6 593.90,417.8 594.10,417.4 594.40,402.3 594.60,403.4 594.90,416.7 595.10,415.5 595.40,403.0 595.60,404.3 595.90,414.9 596.10,417.7 596.40,407.1 596.60,407.0 596.90,419.0 597.10,418.5 597.40,408.2 597.60,408.2 597.90,421.5 598.10,417.4 598.40,403.8 598.60,406.8 598.90,419.0 599.10,414.2 599.40,406.6 599.60,407.0 599.90,418.0 600.10,415.5 600.40,405.5 600.60,404.5 600.90,418.6 601.10,417.1 601.40,402.9 601.60,404.0 601.90,414.2 602.10,414.8 602.40,403.6 602.60,399.8 602.90,418.5 603.10,416.2 603.40,405.1 603.60,405.4 603.90,413.6 604.10,419.0 604.40,406.8 604.60,404.0 604.90,421.9 605.10,414.8 605.40,404.4 605.60,405.3 605.90,419.8 606.10,415.6 606.40,400.6 606.60,405.1 606.90,415.4 607.10,417.3 607.40,407.2 607.60,405.3 607.90,416.5 608.10,417.4 608.40,403.2 608.60,403.3 608.90,416.3 609.10,416.7 609.40,402.4 609.60,403.4 609.90,418.5 610.10,417.3 610.40,402.7 610.60,402.9 610.90,417.4 611.10,414.3 611.40,401.4 611.60,404.0 611.90,418.1 612.10,417.5 612.40,406.2 612.60,402.6 612.90,418.0 613.10,418.2 613.40,398.8 613.60,403.5 613.90,417.3 614.10,416.2 614.40,404.9 614.60,402.4 614.90,415.4 615.10,419.2 615.40,402.3 615.60,402.9 615.90,415.1 616.10,422.9 616.40,404.9 616.60,401.1 616.90,415.8 617.10,411.3 617.40,396.2 617.60,388.3 617.90,404.1 618.10,395.0 618.40,385.4 618.60,373.7 618.90,386.4 619.10,382.3 619.40,369.3 619.60,368.8 619.90,382.3 620.10,379.1 620.40,365.6 620.60,369.1 620.90,378.8 621.10,378.5 621.40,364.9 621.60,366.3 621.90,387.6 622.10,378.1 622.40,369.5 622.60,370.2 622.90,381.4 623.10,377.7 623.40,364.9 623.60,366.6 623.90,377.2 624.10,381.4 624.40,366.5 624.60,367.2 624.90,396.6 625.10,380.7 625.40,368.8 625.60,367.3 625.90,379.7 626.10,378.9 626.40,367.6 626.60,370.4 626.90,393.7 627.10,376.8 627.40,366.8 627.60,369.2 627.90,378.8 628.10,383.3 628.40,362.5 628.60,370.1 628.90,378.2 629.10,376.7 629.40,365.8 629.60,363.6 629.90,379.9 630.10,378.5 630.40,367.6 630.60,363.5 630.90,377.1 631.10,379.7 631.40,362.5 631.60,368.6 631.90,380.4 632.10,376.3 632.40,362.1 632.60,368.7 632.90,393.1 633.10,378.6 633.40,365.4 633.60,367.1 633.90,376.8 634.10,377.7 634.40,364.7 634.60,366.5 634.90,376.9 635.10,377.4 635.40,365.7 635.60,364.6 635.90,379.9 636.10,381.4 636.40,366.2 636.60,364.7 636.90,381.4 637.10,378.5 637.40,364.7 637.60,363.6 637.90,376.5 638.10,377.1 638.40,369.2 638.60,364.3 638.90,375.5 639.10,378.2 639.40,366.7 639.60,365.3 639.90,380.3 640.10,382.8 640.40,363.8 640.60,368.5 640.90,377.5 641.10,378.2 641.40,364.6 641.60,365.9 641.90,378.8 642.10,378.7 642.40,365.1 642.60,366.8 642.90,378.7 643.10,378.0 643.40,363.9 643.60,365.3 643.90,377.7 644.10,378.5 644.40,368.1 644.60,365.0 644.90,377.2 645.10,377.6 645.40,366.1 645.60,363.3 645.90,380.2 646.10,379.1 646.40,367.1 646.60,365.3 646.90,382.0 647.10,376.4 647.40,365.8 647.60,364.7 647.90,373.6 648.10,378.8 648.40,367.3 648.60,362.1 648.90,377.4 649.10,380.4 649.40,364.9 649.60,364.6 649.90,374.8 650.10,374.8 650.40,364.3 650.60,366.0 650.90,378.4 651.10,381.1 651.40,364.1 651.60,364.3 651.90,376.1 652.10,376.4 652.40,367.3 652.60,366.8 652.90,377.8 653.10,375.3 653.40,363.2 653.60,363.4 653.90,380.8 654.10,377.9 654.40,361.7 654.60,365.1 654.90,375.3 655.10,375.0 655.40,364.0 655.60,363.0 655.90,379.9 656.10,374.6 656.40,363.5 656.60,364.8 656.90,375.0 657.10,376.8 657.40,361.9 657.60,366.3 657.90,378.5 658.10,376.1 658.40,364.3 658.60,364.5 658.90,375.2 659.10,376.0 659.40,364.9 659.60,365.7 659.90,377.3 660.10,375.6 660.40,365.2 660.60,363.6 660.90,377.8 661.10,378.2 661.40,363.4 661.60,363.8 661.90,373.4 662.10,381.0 662.40,365.2 662.60,364.7 662.90,377.6 663.10,375.9 663.40,362.4 663.60,360.2 663.90,378.0 664.10,379.5 664.40,364.2 664.60,365.3 664.90,377.6 665.10,376.2 665.40,363.9 665.60,364.7 665.90,377.8 666.10,401.2 666.40,365.6 666.60,364.3 666.90,394.1 667.10,377.6 667.40,359.5 667.60,363.0 667.90,373.7 668.10,376.7 668.40,366.4 668.60,364.9 668.90,375.1 669.10,377.4 669.40,365.1 669.60,365.4 669.90,377.2 670.10,378.5 670.40,365.2 670.60,364.5 670.90,376.3 671.10,376.5 671.40,366.7 671.60,363.7 671.90,377.8 672.10,377.6 672.40,365.4 672.60,367.0 672.90,376.1 673.10,386.0 673.40,367.4 673.60,361.8 673.90,381.3 674.10,376.5 674.40,364.7 674.60,371.6 674.90,371.6" fill="none" stroke="#f07aaa" stroke-width="0.7" stroke-opacity="1" stroke-linejoin="miter" stroke-miterlimit="1"/></g>
<rect x="418.5" y="310.5" width="256.0" height="188.0" fill="none" stroke="#333" stroke-width="1"/>
<line x1="414.0" y1="310.5" x2="418.5" y2="310.5" stroke="#333" stroke-width="1"/>
<text x="411.7" y="313.3" font-size="11.5" text-anchor="end">-0.4</text>
<line x1="416.0" y1="341.5" x2="418.5" y2="341.5" stroke="#333" stroke-width="1"/>
<line x1="414.0" y1="373.5" x2="418.5" y2="373.5" stroke="#333" stroke-width="1"/>
<text x="411.7" y="375.9666666666667" font-size="11.5" text-anchor="end">-0.6</text>
<line x1="416.0" y1="404.5" x2="418.5" y2="404.5" stroke="#333" stroke-width="1"/>
<line x1="414.0" y1="435.5" x2="418.5" y2="435.5" stroke="#333" stroke-width="1"/>
<text x="411.7" y="438.6333333333333" font-size="11.5" text-anchor="end">-0.8</text>
<line x1="416.0" y1="467.5" x2="418.5" y2="467.5" stroke="#333" stroke-width="1"/>
<line x1="414.0" y1="498.5" x2="418.5" y2="498.5" stroke="#333" stroke-width="1"/>
<text x="411.7" y="501.3" font-size="11.5" text-anchor="end">-1.0</text>
<line x1="418.5" y1="498.5" x2="418.5" y2="502.5" stroke="#333" stroke-width="1"/>
<text x="418.5" y="512.8" font-size="11.5" text-anchor="middle">0</text>
<line x1="444.5" y1="498.5" x2="444.5" y2="501.0" stroke="#333" stroke-width="1"/>
<line x1="469.5" y1="498.5" x2="469.5" y2="502.5" stroke="#333" stroke-width="1"/>
<text x="469.7" y="512.8" font-size="11.5" text-anchor="middle">20</text>
<line x1="495.5" y1="498.5" x2="495.5" y2="501.0" stroke="#333" stroke-width="1"/>
<line x1="520.5" y1="498.5" x2="520.5" y2="502.5" stroke="#333" stroke-width="1"/>
<text x="520.9" y="512.8" font-size="11.5" text-anchor="middle">40</text>
<line x1="546.5" y1="498.5" x2="546.5" y2="501.0" stroke="#333" stroke-width="1"/>
<line x1="572.5" y1="498.5" x2="572.5" y2="502.5" stroke="#333" stroke-width="1"/>
<text x="572.1" y="512.8" font-size="11.5" text-anchor="middle">60</text>
<line x1="597.5" y1="498.5" x2="597.5" y2="501.0" stroke="#333" stroke-width="1"/>
<line x1="623.5" y1="498.5" x2="623.5" y2="502.5" stroke="#333" stroke-width="1"/>
<text x="623.3" y="512.8" font-size="11.5" text-anchor="middle">80</text>
<line x1="648.5" y1="498.5" x2="648.5" y2="501.0" stroke="#333" stroke-width="1"/>
<line x1="674.5" y1="498.5" x2="674.5" y2="502.5" stroke="#333" stroke-width="1"/>
<text x="674.5" y="512.8" font-size="11.5" text-anchor="middle">100</text>
<text x="517.2" y="530.8" font-size="12.6" text-anchor="start">Tim<tspan dx="2.4">e (ps)</tspan></text>
<text x="381.5" y="413.2" font-size="14" text-anchor="middle" transform="rotate(-90 381.5 413.2)">Mulliken Charge (e)</text>
<text x="368.8" y="303.9" font-size="21" text-anchor="start">(c2)</text>
<line x1="249.7" y1="320.5" x2="276.3" y2="320.5" stroke="#5aa64a" stroke-width="0.9"/>
<line x1="249.7" y1="334.5" x2="276.3" y2="334.5" stroke="#eab9a3" stroke-width="0.9"/>
<text x="281.3" y="322.1" font-size="15" text-anchor="start">N</text>
<text x="292.3" y="325.3" font-size="12.5" text-anchor="start" font-weight="normal" style="font-weight:normal">&#948;</text>
<text x="281.3" y="340.8" font-size="15" text-anchor="start">N</text>
<text x="292.4" y="343.9" font-size="13" text-anchor="start" font-weight="normal" style="font-weight:normal">&#949;</text>
<line x1="620.1" y1="318.5" x2="646.7" y2="318.5" stroke="#4a9a8c" stroke-width="0.9"/>
<line x1="620.1" y1="332.5" x2="646.7" y2="332.5" stroke="#eec3d8" stroke-width="0.9"/>
<text x="650.2" y="324.2" font-size="15" text-anchor="start">N</text>
<text x="661.3" y="327.4" font-size="12.5" text-anchor="start" font-weight="normal" style="font-weight:normal">&#948;</text>
<text x="650.2" y="342.9" font-size="15" text-anchor="start">N</text>
<text x="661.4" y="346" font-size="13" text-anchor="start" font-weight="normal" style="font-weight:normal">&#949;</text>
<text x="144.0" y="351.6" font-size="20" text-anchor="start">p</text>
<text x="462.1" y="354.0" font-size="20" text-anchor="start">p</text>
<text x="634.3" y="361.6" font-size="20" text-anchor="start">p</text>
<text x="52.5" y="429" font-size="18.5" text-anchor="start">&#948;</text>
<text x="261.5" y="429" font-size="18.5" text-anchor="start">&#948;</text>
<text x="110.8" y="429" font-size="19" text-anchor="start">&#949;</text>
<text x="504.7" y="407" font-size="19" text-anchor="start">&#949;</text>
</svg></body></html>
